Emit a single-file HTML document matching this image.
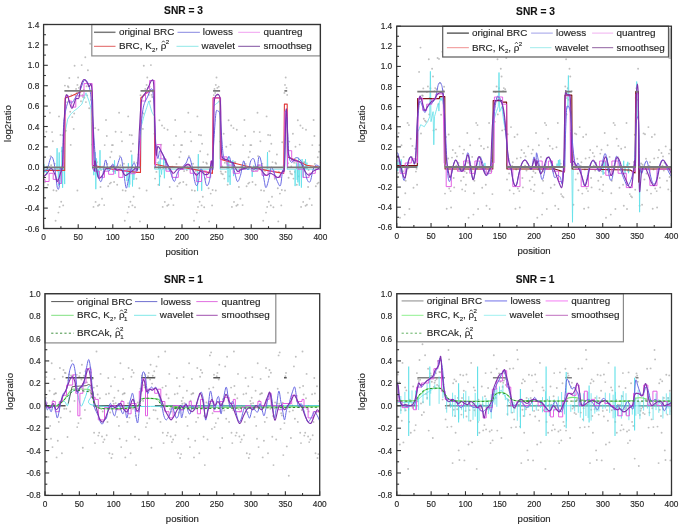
<!DOCTYPE html><html><head><meta charset="utf-8"><style>html,body{margin:0;padding:0;background:#fff;}svg{display:block;filter:blur(0.35px);} text{-webkit-font-smoothing:antialiased;stroke:#333;stroke-width:0.15px;} .g{will-change:transform;}</style></head><body><svg class="g" width="685" height="527" viewBox="0 0 685 527" font-family='"Liberation Sans", sans-serif'>
<rect width="685" height="527" fill="#fff"/>
<svg x="0" y="0" width="685" height="527" overflow="hidden"><clipPath id="cTL"><rect x="43.60" y="24.50" width="276.80" height="204.00"/></clipPath></svg>
<g clip-path="url(#cTL)"><g fill="#a0a0a0" fill-opacity="0.68"><circle cx="112.9" cy="145.1" r="0.95"/><circle cx="182.1" cy="145.1" r="0.95"/><circle cx="251.3" cy="145.1" r="0.95"/><circle cx="44.9" cy="182.0" r="0.95"/><circle cx="114.1" cy="182.0" r="0.95"/><circle cx="183.3" cy="182.0" r="0.95"/><circle cx="252.5" cy="182.0" r="0.95"/><circle cx="46.4" cy="131.7" r="0.95"/><circle cx="115.6" cy="131.7" r="0.95"/><circle cx="184.8" cy="131.7" r="0.95"/><circle cx="254.0" cy="131.7" r="0.95"/><circle cx="48.0" cy="184.7" r="0.95"/><circle cx="117.2" cy="184.7" r="0.95"/><circle cx="186.4" cy="184.7" r="0.95"/><circle cx="255.6" cy="184.7" r="0.95"/><circle cx="49.9" cy="112.7" r="0.95"/><circle cx="119.1" cy="112.7" r="0.95"/><circle cx="188.3" cy="112.7" r="0.95"/><circle cx="257.5" cy="112.7" r="0.95"/><circle cx="52.1" cy="132.1" r="0.95"/><circle cx="121.3" cy="132.1" r="0.95"/><circle cx="190.5" cy="132.1" r="0.95"/><circle cx="259.7" cy="132.1" r="0.95"/><circle cx="52.8" cy="141.2" r="0.95"/><circle cx="122.0" cy="141.2" r="0.95"/><circle cx="191.2" cy="141.2" r="0.95"/><circle cx="260.4" cy="141.2" r="0.95"/><circle cx="53.5" cy="190.3" r="0.95"/><circle cx="122.7" cy="190.3" r="0.95"/><circle cx="191.9" cy="190.3" r="0.95"/><circle cx="261.1" cy="190.3" r="0.95"/><circle cx="55.6" cy="220.7" r="0.95"/><circle cx="124.8" cy="220.7" r="0.95"/><circle cx="194.0" cy="220.7" r="0.95"/><circle cx="263.2" cy="220.7" r="0.95"/><circle cx="56.4" cy="190.8" r="0.95"/><circle cx="125.6" cy="190.8" r="0.95"/><circle cx="194.8" cy="190.8" r="0.95"/><circle cx="264.0" cy="190.8" r="0.95"/><circle cx="58.4" cy="212.6" r="0.95"/><circle cx="127.6" cy="212.6" r="0.95"/><circle cx="196.8" cy="212.6" r="0.95"/><circle cx="266.0" cy="212.6" r="0.95"/><circle cx="59.0" cy="116.4" r="0.95"/><circle cx="128.2" cy="116.4" r="0.95"/><circle cx="197.4" cy="116.4" r="0.95"/><circle cx="266.6" cy="116.4" r="0.95"/><circle cx="59.6" cy="206.9" r="0.95"/><circle cx="128.8" cy="206.9" r="0.95"/><circle cx="198.0" cy="206.9" r="0.95"/><circle cx="267.2" cy="206.9" r="0.95"/><circle cx="60.5" cy="134.9" r="0.95"/><circle cx="129.7" cy="134.9" r="0.95"/><circle cx="198.9" cy="134.9" r="0.95"/><circle cx="268.1" cy="134.9" r="0.95"/><circle cx="61.2" cy="201.7" r="0.95"/><circle cx="130.4" cy="201.7" r="0.95"/><circle cx="199.6" cy="201.7" r="0.95"/><circle cx="268.8" cy="201.7" r="0.95"/><circle cx="61.8" cy="151.3" r="0.95"/><circle cx="131.0" cy="151.3" r="0.95"/><circle cx="200.2" cy="151.3" r="0.95"/><circle cx="269.4" cy="151.3" r="0.95"/><circle cx="62.6" cy="135.3" r="0.95"/><circle cx="131.8" cy="135.3" r="0.95"/><circle cx="201.0" cy="135.3" r="0.95"/><circle cx="270.2" cy="135.3" r="0.95"/><circle cx="63.2" cy="205.4" r="0.95"/><circle cx="132.4" cy="205.4" r="0.95"/><circle cx="201.6" cy="205.4" r="0.95"/><circle cx="270.8" cy="205.4" r="0.95"/><circle cx="63.7" cy="143.8" r="0.95"/><circle cx="132.9" cy="143.8" r="0.95"/><circle cx="202.1" cy="143.8" r="0.95"/><circle cx="271.3" cy="143.8" r="0.95"/><circle cx="64.4" cy="120.2" r="0.95"/><circle cx="133.6" cy="196.7" r="0.95"/><circle cx="202.8" cy="196.7" r="0.95"/><circle cx="272.0" cy="196.7" r="0.95"/><circle cx="64.9" cy="85.6" r="0.95"/><circle cx="134.1" cy="162.1" r="0.95"/><circle cx="203.3" cy="162.1" r="0.95"/><circle cx="272.5" cy="162.1" r="0.95"/><circle cx="65.8" cy="130.8" r="0.95"/><circle cx="135.0" cy="207.3" r="0.95"/><circle cx="204.2" cy="207.3" r="0.95"/><circle cx="273.4" cy="207.3" r="0.95"/><circle cx="67.2" cy="102.3" r="0.95"/><circle cx="136.4" cy="178.8" r="0.95"/><circle cx="205.6" cy="178.8" r="0.95"/><circle cx="274.8" cy="178.8" r="0.95"/><circle cx="67.9" cy="86.3" r="0.95"/><circle cx="137.1" cy="162.8" r="0.95"/><circle cx="206.3" cy="162.8" r="0.95"/><circle cx="275.5" cy="162.8" r="0.95"/><circle cx="69.3" cy="78.0" r="0.95"/><circle cx="138.5" cy="154.5" r="0.95"/><circle cx="207.7" cy="154.5" r="0.95"/><circle cx="276.9" cy="154.5" r="0.95"/><circle cx="70.2" cy="111.8" r="0.95"/><circle cx="139.4" cy="188.3" r="0.95"/><circle cx="208.6" cy="188.3" r="0.95"/><circle cx="277.8" cy="188.3" r="0.95"/><circle cx="70.7" cy="144.9" r="0.95"/><circle cx="139.9" cy="221.4" r="0.95"/><circle cx="209.1" cy="221.4" r="0.95"/><circle cx="278.3" cy="221.4" r="0.95"/><circle cx="72.3" cy="117.1" r="0.95"/><circle cx="141.5" cy="117.1" r="0.95"/><circle cx="210.7" cy="193.6" r="0.95"/><circle cx="279.9" cy="193.6" r="0.95"/><circle cx="73.7" cy="128.9" r="0.95"/><circle cx="142.9" cy="128.9" r="0.95"/><circle cx="212.1" cy="205.4" r="0.95"/><circle cx="281.3" cy="205.4" r="0.95"/><circle cx="74.2" cy="113.5" r="0.95"/><circle cx="143.4" cy="113.5" r="0.95"/><circle cx="212.6" cy="190.0" r="0.95"/><circle cx="281.8" cy="190.0" r="0.95"/><circle cx="74.6" cy="65.7" r="0.95"/><circle cx="143.8" cy="65.7" r="0.95"/><circle cx="213.0" cy="142.2" r="0.95"/><circle cx="282.2" cy="142.2" r="0.95"/><circle cx="77.4" cy="84.9" r="0.95"/><circle cx="146.6" cy="84.9" r="0.95"/><circle cx="215.8" cy="84.9" r="0.95"/><circle cx="285.0" cy="84.9" r="0.95"/><circle cx="77.4" cy="190.5" r="0.95"/><circle cx="146.6" cy="190.5" r="0.95"/><circle cx="215.8" cy="190.5" r="0.95"/><circle cx="285.0" cy="190.5" r="0.95"/><circle cx="78.1" cy="77.5" r="0.95"/><circle cx="147.3" cy="77.5" r="0.95"/><circle cx="216.5" cy="77.5" r="0.95"/><circle cx="285.7" cy="77.5" r="0.95"/><circle cx="81.7" cy="65.1" r="0.95"/><circle cx="150.9" cy="65.1" r="0.95"/><circle cx="220.1" cy="141.6" r="0.95"/><circle cx="289.3" cy="141.6" r="0.95"/><circle cx="85.3" cy="57.3" r="0.95"/><circle cx="154.5" cy="133.8" r="0.95"/><circle cx="223.7" cy="133.8" r="0.95"/><circle cx="292.9" cy="133.8" r="0.95"/><circle cx="85.9" cy="102.1" r="0.95"/><circle cx="155.1" cy="178.6" r="0.95"/><circle cx="224.3" cy="178.6" r="0.95"/><circle cx="293.5" cy="178.6" r="0.95"/><circle cx="87.9" cy="70.3" r="0.95"/><circle cx="157.1" cy="146.8" r="0.95"/><circle cx="226.3" cy="146.8" r="0.95"/><circle cx="295.5" cy="146.8" r="0.95"/><circle cx="89.2" cy="108.2" r="0.95"/><circle cx="158.4" cy="184.7" r="0.95"/><circle cx="227.6" cy="184.7" r="0.95"/><circle cx="296.8" cy="184.7" r="0.95"/><circle cx="90.2" cy="43.8" r="0.95"/><circle cx="159.4" cy="120.3" r="0.95"/><circle cx="228.6" cy="120.3" r="0.95"/><circle cx="297.8" cy="120.3" r="0.95"/><circle cx="91.0" cy="99.7" r="0.95"/><circle cx="160.2" cy="176.2" r="0.95"/><circle cx="229.4" cy="176.2" r="0.95"/><circle cx="298.6" cy="176.2" r="0.95"/><circle cx="92.1" cy="144.6" r="0.95"/><circle cx="161.3" cy="144.6" r="0.95"/><circle cx="230.5" cy="144.6" r="0.95"/><circle cx="299.7" cy="144.6" r="0.95"/><circle cx="92.8" cy="125.5" r="0.95"/><circle cx="162.0" cy="125.5" r="0.95"/><circle cx="231.2" cy="125.5" r="0.95"/><circle cx="300.4" cy="125.5" r="0.95"/><circle cx="93.5" cy="206.9" r="0.95"/><circle cx="162.7" cy="206.9" r="0.95"/><circle cx="231.9" cy="206.9" r="0.95"/><circle cx="301.1" cy="206.9" r="0.95"/><circle cx="95.1" cy="128.1" r="0.95"/><circle cx="164.3" cy="128.1" r="0.95"/><circle cx="233.5" cy="128.1" r="0.95"/><circle cx="302.7" cy="128.1" r="0.95"/><circle cx="95.6" cy="201.9" r="0.95"/><circle cx="164.8" cy="201.9" r="0.95"/><circle cx="234.0" cy="201.9" r="0.95"/><circle cx="303.2" cy="201.9" r="0.95"/><circle cx="98.0" cy="205.7" r="0.95"/><circle cx="167.2" cy="205.7" r="0.95"/><circle cx="236.4" cy="205.7" r="0.95"/><circle cx="305.6" cy="205.7" r="0.95"/><circle cx="98.4" cy="129.8" r="0.95"/><circle cx="167.6" cy="129.8" r="0.95"/><circle cx="236.8" cy="129.8" r="0.95"/><circle cx="306.0" cy="129.8" r="0.95"/><circle cx="99.3" cy="204.7" r="0.95"/><circle cx="168.5" cy="204.7" r="0.95"/><circle cx="237.7" cy="204.7" r="0.95"/><circle cx="306.9" cy="204.7" r="0.95"/><circle cx="100.5" cy="187.0" r="0.95"/><circle cx="169.7" cy="187.0" r="0.95"/><circle cx="238.9" cy="187.0" r="0.95"/><circle cx="308.1" cy="187.0" r="0.95"/><circle cx="102.0" cy="198.8" r="0.95"/><circle cx="171.2" cy="198.8" r="0.95"/><circle cx="240.4" cy="198.8" r="0.95"/><circle cx="309.6" cy="198.8" r="0.95"/><circle cx="104.2" cy="205.1" r="0.95"/><circle cx="173.4" cy="205.1" r="0.95"/><circle cx="242.6" cy="205.1" r="0.95"/><circle cx="311.8" cy="205.1" r="0.95"/><circle cx="104.7" cy="145.1" r="0.95"/><circle cx="173.9" cy="145.1" r="0.95"/><circle cx="243.1" cy="145.1" r="0.95"/><circle cx="312.3" cy="145.1" r="0.95"/><circle cx="106.0" cy="120.0" r="0.95"/><circle cx="175.2" cy="120.0" r="0.95"/><circle cx="244.4" cy="120.0" r="0.95"/><circle cx="313.6" cy="120.0" r="0.95"/><circle cx="106.8" cy="136.0" r="0.95"/><circle cx="176.0" cy="136.0" r="0.95"/><circle cx="245.2" cy="136.0" r="0.95"/><circle cx="314.4" cy="136.0" r="0.95"/><circle cx="108.2" cy="186.3" r="0.95"/><circle cx="177.4" cy="186.3" r="0.95"/><circle cx="246.6" cy="186.3" r="0.95"/><circle cx="315.8" cy="186.3" r="0.95"/><circle cx="109.8" cy="183.6" r="0.95"/><circle cx="179.0" cy="183.6" r="0.95"/><circle cx="248.2" cy="183.6" r="0.95"/><circle cx="317.4" cy="183.6" r="0.95"/><circle cx="110.2" cy="157.2" r="0.95"/><circle cx="179.4" cy="157.2" r="0.95"/><circle cx="248.6" cy="157.2" r="0.95"/><circle cx="317.8" cy="157.2" r="0.95"/><circle cx="110.9" cy="182.6" r="0.95"/><circle cx="180.1" cy="182.6" r="0.95"/><circle cx="249.3" cy="182.6" r="0.95"/><circle cx="318.5" cy="182.6" r="0.95"/><circle cx="111.5" cy="151.8" r="0.95"/><circle cx="180.7" cy="151.8" r="0.95"/><circle cx="249.9" cy="151.8" r="0.95"/><circle cx="319.1" cy="151.8" r="0.95"/><circle cx="111.9" cy="145.1" r="0.95"/><circle cx="181.1" cy="145.1" r="0.95"/><circle cx="250.3" cy="145.1" r="0.95"/><circle cx="319.5" cy="145.1" r="0.95"/><circle cx="44.3" cy="168.7" r="0.95"/><circle cx="113.5" cy="168.7" r="0.95"/><circle cx="182.7" cy="168.7" r="0.95"/><circle cx="251.9" cy="168.7" r="0.95"/><circle cx="45.7" cy="171.1" r="0.95"/><circle cx="114.9" cy="171.1" r="0.95"/><circle cx="184.1" cy="171.1" r="0.95"/><circle cx="253.3" cy="171.1" r="0.95"/><circle cx="47.1" cy="166.7" r="0.95"/><circle cx="116.3" cy="166.7" r="0.95"/><circle cx="185.5" cy="166.7" r="0.95"/><circle cx="254.7" cy="166.7" r="0.95"/><circle cx="48.4" cy="170.3" r="0.95"/><circle cx="117.6" cy="170.3" r="0.95"/><circle cx="186.8" cy="170.3" r="0.95"/><circle cx="256.0" cy="170.3" r="0.95"/><circle cx="49.1" cy="166.6" r="0.95"/><circle cx="118.3" cy="166.6" r="0.95"/><circle cx="187.5" cy="166.6" r="0.95"/><circle cx="256.7" cy="166.6" r="0.95"/><circle cx="50.5" cy="156.1" r="0.95"/><circle cx="119.7" cy="156.1" r="0.95"/><circle cx="188.9" cy="156.1" r="0.95"/><circle cx="258.1" cy="156.1" r="0.95"/><circle cx="51.2" cy="165.3" r="0.95"/><circle cx="120.4" cy="165.3" r="0.95"/><circle cx="189.6" cy="165.3" r="0.95"/><circle cx="258.8" cy="165.3" r="0.95"/><circle cx="54.7" cy="163.8" r="0.95"/><circle cx="123.9" cy="163.8" r="0.95"/><circle cx="193.1" cy="163.8" r="0.95"/><circle cx="262.3" cy="163.8" r="0.95"/><circle cx="57.4" cy="170.9" r="0.95"/><circle cx="126.6" cy="170.9" r="0.95"/><circle cx="195.8" cy="170.9" r="0.95"/><circle cx="265.0" cy="170.9" r="0.95"/><circle cx="66.4" cy="95.0" r="0.95"/><circle cx="135.6" cy="171.5" r="0.95"/><circle cx="204.8" cy="171.5" r="0.95"/><circle cx="274.0" cy="171.5" r="0.95"/><circle cx="68.5" cy="87.2" r="0.95"/><circle cx="137.7" cy="163.7" r="0.95"/><circle cx="206.9" cy="163.7" r="0.95"/><circle cx="276.1" cy="163.7" r="0.95"/><circle cx="71.3" cy="95.2" r="0.95"/><circle cx="140.5" cy="95.2" r="0.95"/><circle cx="209.7" cy="171.7" r="0.95"/><circle cx="278.9" cy="171.7" r="0.95"/><circle cx="75.4" cy="95.1" r="0.95"/><circle cx="144.6" cy="95.1" r="0.95"/><circle cx="213.8" cy="95.1" r="0.95"/><circle cx="283.0" cy="171.6" r="0.95"/><circle cx="76.1" cy="88.9" r="0.95"/><circle cx="145.3" cy="88.9" r="0.95"/><circle cx="214.5" cy="88.9" r="0.95"/><circle cx="283.7" cy="165.4" r="0.95"/><circle cx="76.8" cy="92.9" r="0.95"/><circle cx="146.0" cy="92.9" r="0.95"/><circle cx="215.2" cy="92.9" r="0.95"/><circle cx="284.4" cy="92.9" r="0.95"/><circle cx="78.9" cy="87.9" r="0.95"/><circle cx="148.1" cy="87.9" r="0.95"/><circle cx="217.3" cy="87.9" r="0.95"/><circle cx="286.5" cy="87.9" r="0.95"/><circle cx="79.6" cy="94.9" r="0.95"/><circle cx="148.8" cy="94.9" r="0.95"/><circle cx="218.0" cy="94.9" r="0.95"/><circle cx="287.2" cy="94.9" r="0.95"/><circle cx="80.3" cy="86.7" r="0.95"/><circle cx="149.5" cy="86.7" r="0.95"/><circle cx="218.7" cy="86.7" r="0.95"/><circle cx="287.9" cy="163.2" r="0.95"/><circle cx="81.0" cy="101.2" r="0.95"/><circle cx="150.2" cy="101.2" r="0.95"/><circle cx="219.4" cy="101.2" r="0.95"/><circle cx="288.6" cy="177.7" r="0.95"/><circle cx="82.4" cy="94.9" r="0.95"/><circle cx="151.6" cy="94.9" r="0.95"/><circle cx="220.8" cy="171.4" r="0.95"/><circle cx="290.0" cy="171.4" r="0.95"/><circle cx="83.0" cy="97.0" r="0.95"/><circle cx="152.2" cy="97.0" r="0.95"/><circle cx="221.4" cy="173.5" r="0.95"/><circle cx="290.6" cy="173.5" r="0.95"/><circle cx="83.7" cy="90.0" r="0.95"/><circle cx="152.9" cy="90.0" r="0.95"/><circle cx="222.1" cy="166.5" r="0.95"/><circle cx="291.3" cy="166.5" r="0.95"/><circle cx="84.4" cy="97.7" r="0.95"/><circle cx="153.6" cy="97.7" r="0.95"/><circle cx="222.8" cy="174.2" r="0.95"/><circle cx="292.0" cy="174.2" r="0.95"/><circle cx="86.5" cy="86.2" r="0.95"/><circle cx="155.7" cy="162.7" r="0.95"/><circle cx="224.9" cy="162.7" r="0.95"/><circle cx="294.1" cy="162.7" r="0.95"/><circle cx="87.2" cy="95.4" r="0.95"/><circle cx="156.4" cy="171.9" r="0.95"/><circle cx="225.6" cy="171.9" r="0.95"/><circle cx="294.8" cy="171.9" r="0.95"/><circle cx="88.6" cy="86.4" r="0.95"/><circle cx="157.8" cy="162.9" r="0.95"/><circle cx="227.0" cy="162.9" r="0.95"/><circle cx="296.2" cy="162.9" r="0.95"/><circle cx="94.1" cy="167.5" r="0.95"/><circle cx="163.3" cy="167.5" r="0.95"/><circle cx="232.5" cy="167.5" r="0.95"/><circle cx="301.7" cy="167.5" r="0.95"/><circle cx="96.2" cy="162.5" r="0.95"/><circle cx="165.4" cy="162.5" r="0.95"/><circle cx="234.6" cy="162.5" r="0.95"/><circle cx="303.8" cy="162.5" r="0.95"/><circle cx="96.9" cy="162.1" r="0.95"/><circle cx="166.1" cy="162.1" r="0.95"/><circle cx="235.3" cy="162.1" r="0.95"/><circle cx="304.5" cy="162.1" r="0.95"/><circle cx="101.0" cy="170.0" r="0.95"/><circle cx="170.2" cy="170.0" r="0.95"/><circle cx="239.4" cy="170.0" r="0.95"/><circle cx="308.6" cy="170.0" r="0.95"/><circle cx="103.1" cy="166.6" r="0.95"/><circle cx="172.3" cy="166.6" r="0.95"/><circle cx="241.5" cy="166.6" r="0.95"/><circle cx="310.7" cy="166.6" r="0.95"/><circle cx="107.3" cy="163.9" r="0.95"/><circle cx="176.5" cy="163.9" r="0.95"/><circle cx="245.7" cy="163.9" r="0.95"/><circle cx="314.9" cy="163.9" r="0.95"/></g>
<path d="M43.6,169.3 L43.9,164.2 L44.3,169.3 L44.6,172.3 L45.0,169.3 L45.3,172.2 L45.7,169.3 L46.4,169.3 L46.7,174.5 L47.1,169.3 L47.4,166.5 L47.8,169.3 L48.4,169.3 L49.1,169.3 L49.8,169.3 L50.5,169.3 L51.2,169.3 L51.9,169.3 L52.6,169.3 L53.3,169.3 L54.0,169.3 L54.7,169.3 L55.4,169.3 L56.1,169.3 L56.7,169.3 L57.1,148.2 L57.4,169.3 L58.1,169.3 L58.5,185.6 L58.8,169.3 L59.2,152.4 L59.5,169.3 L60.2,169.3 L60.9,169.3 L61.2,184.0 L61.6,169.3 L61.9,146.8 L62.3,169.3 L62.6,187.8 L63.0,169.3 L63.7,169.3 L64.0,162.6 L64.4,169.3 L64.7,184.1 L64.7,169.3 L65.1,133.6 L65.7,129.8 L66.4,125.9 L67.1,122.1 L67.6,119.4 L67.8,119.0 L68.5,117.8 L69.2,116.6 L69.9,115.4 L70.6,114.3 L71.3,113.6 L72.0,112.9 L72.7,112.2 L73.4,111.5 L73.7,111.2 L74.0,110.9 L74.7,110.4 L75.4,109.9 L76.1,109.4 L76.8,108.9 L77.5,108.3 L77.8,108.1 L78.2,107.7 L78.9,107.0 L79.6,106.3 L80.3,105.7 L81.0,105.0 L81.7,104.3 L81.9,104.1 L82.4,102.7 L83.0,100.8 L83.7,98.9 L84.4,97.0 L85.1,95.1 L85.8,93.2 L86.0,92.8 L86.5,94.3 L87.2,96.2 L87.9,98.0 L88.6,99.9 L89.0,101.0 L89.3,102.1 L90.0,104.8 L90.7,107.5 L91.1,109.2 L91.3,121.4 L92.0,152.0 L92.4,167.3 L92.7,169.3 L93.4,169.3 L93.8,175.2 L94.1,169.3 L94.8,169.3 L95.2,152.1 L95.5,169.3 L95.8,189.2 L96.2,169.3 L96.5,158.4 L96.9,169.3 L97.2,175.4 L97.6,169.3 L97.9,177.1 L98.3,169.3 L98.6,176.0 L99.0,169.3 L99.7,169.3 L100.0,150.2 L100.3,169.3 L101.0,169.3 L101.7,169.3 L102.4,169.3 L103.1,169.3 L103.8,169.3 L104.5,169.3 L105.2,169.3 L105.9,169.3 L106.6,169.3 L107.3,169.3 L108.0,169.3 L108.6,169.3 L109.3,169.3 L110.0,169.3 L110.7,169.3 L111.4,169.3 L112.1,169.3 L112.8,169.3 L113.1,172.0 L113.5,169.3 L114.2,169.3 L114.5,160.3 L114.9,169.3 L115.2,173.9 L115.6,169.3 L116.3,169.3 L117.0,169.3 L117.6,169.3 L118.3,169.3 L119.0,169.3 L119.7,169.3 L120.4,169.3 L121.1,169.3 L121.8,169.3 L122.5,169.3 L123.2,169.3 L123.9,169.3 L124.6,169.3 L125.3,169.3 L125.9,169.3 L126.6,169.3 L127.0,181.1 L127.3,169.3 L128.0,169.3 L128.4,163.2 L128.7,169.3 L129.1,187.4 L129.4,169.3 L129.8,184.6 L130.1,169.3 L130.8,169.3 L131.5,169.3 L131.8,154.7 L132.2,169.3 L132.5,186.5 L132.9,169.3 L133.6,169.3 L133.9,179.9 L134.3,169.3 L134.9,169.3 L135.6,169.3 L136.3,169.3 L137.0,169.3 L137.7,169.3 L138.4,169.3 L139.1,169.3 L139.8,169.3 L140.5,169.3 L141.2,126.5 L141.9,124.0 L142.6,121.4 L143.2,118.9 L143.9,116.3 L144.6,114.1 L145.3,111.9 L146.0,109.7 L146.7,107.6 L147.4,105.4 L148.1,103.2 L148.8,101.0 L149.5,103.5 L150.2,106.1 L150.9,108.6 L151.6,111.2 L152.2,112.5 L152.9,113.8 L153.6,115.0 L154.3,116.3 L154.7,169.3 L155.0,169.3 L155.7,169.3 L156.4,169.3 L157.1,169.3 L157.8,169.3 L158.5,169.3 L158.8,161.4 L159.2,169.3 L159.5,185.9 L159.9,169.3 L160.2,157.9 L160.5,169.3 L161.2,169.3 L161.6,174.5 L161.9,169.3 L162.6,169.3 L163.3,169.3 L163.7,155.9 L164.0,169.3 L164.4,178.3 L164.7,169.3 L165.4,169.3 L165.7,163.6 L166.1,169.3 L166.8,169.3 L167.5,169.3 L168.2,169.3 L168.9,169.3 L169.5,169.3 L170.2,169.3 L170.9,169.3 L171.6,169.3 L172.3,169.3 L173.0,169.3 L173.7,169.3 L174.4,169.3 L175.1,169.3 L175.8,169.3 L176.5,169.3 L177.2,169.3 L177.8,169.3 L178.5,169.3 L179.2,169.3 L179.9,169.3 L180.6,169.3 L181.3,169.3 L182.0,169.3 L182.7,169.3 L183.4,169.3 L184.1,169.3 L184.8,169.3 L185.5,169.3 L186.2,169.3 L186.8,169.3 L187.5,169.3 L188.2,169.3 L188.9,169.3 L189.6,169.3 L190.3,169.3 L191.0,169.3 L191.7,169.3 L192.4,169.3 L193.1,169.3 L193.8,169.3 L194.5,169.3 L195.1,169.3 L195.8,169.3 L196.5,169.3 L197.2,169.3 L197.6,191.1 L197.9,169.3 L198.3,154.1 L198.6,169.3 L199.3,169.3 L200.0,169.3 L200.7,169.3 L201.4,169.3 L201.7,190.8 L202.1,169.3 L202.8,169.3 L203.5,169.3 L204.1,169.3 L204.8,169.3 L205.5,169.3 L206.2,169.3 L206.9,169.3 L207.6,169.3 L208.3,169.3 L209.0,169.3 L209.7,169.3 L210.4,169.3 L211.1,169.3 L211.8,169.3 L212.4,169.3 L213.1,169.3 L213.5,106.1 L213.8,105.8 L214.5,105.3 L215.2,104.7 L215.9,104.1 L216.6,103.5 L217.3,103.0 L218.0,102.4 L218.7,101.8 L219.4,101.3 L219.7,101.0 L220.1,169.3 L220.8,169.3 L221.4,169.3 L222.1,169.3 L222.8,169.3 L223.5,169.3 L224.2,169.3 L224.9,169.3 L225.6,169.3 L226.3,169.3 L227.0,169.3 L227.3,159.4 L227.7,169.3 L228.0,182.3 L228.4,169.3 L228.7,156.2 L229.1,169.3 L229.7,169.3 L230.1,184.9 L230.4,169.3 L231.1,169.3 L231.8,169.3 L232.2,161.2 L232.5,169.3 L232.9,160.3 L233.2,169.3 L233.6,176.1 L233.9,169.3 L234.6,169.3 L235.3,169.3 L236.0,169.3 L236.7,169.3 L237.4,169.3 L238.1,169.3 L238.7,169.3 L239.4,169.3 L240.1,169.3 L240.8,169.3 L241.5,169.3 L242.2,169.3 L242.9,169.3 L243.6,169.3 L244.3,169.3 L245.0,169.3 L245.7,169.3 L246.4,169.3 L247.0,169.3 L247.7,169.3 L248.4,169.3 L249.1,169.3 L249.8,169.3 L250.5,169.3 L251.2,169.3 L251.9,169.3 L252.2,176.8 L252.6,169.3 L253.3,169.3 L253.6,165.6 L254.0,169.3 L254.7,169.3 L255.4,169.3 L256.0,169.3 L256.7,169.3 L257.4,169.3 L258.1,169.3 L258.8,169.3 L259.5,169.3 L260.2,169.3 L260.9,169.3 L261.6,169.3 L262.3,169.3 L263.0,169.3 L263.7,169.3 L264.3,169.3 L265.0,169.3 L265.7,169.3 L266.4,169.3 L267.1,169.3 L267.5,152.1 L267.8,169.3 L268.5,169.3 L269.2,169.3 L269.9,169.3 L270.6,169.3 L271.3,169.3 L272.0,169.3 L272.7,169.3 L273.3,169.3 L274.0,169.3 L274.7,169.3 L275.4,169.3 L276.1,169.3 L276.8,169.3 L277.5,169.3 L278.2,169.3 L278.9,169.3 L279.6,169.3 L280.3,169.3 L281.0,169.3 L281.6,169.3 L282.3,169.3 L283.0,169.3 L283.7,169.3 L284.4,169.3 L284.8,111.2 L285.1,111.2 L285.8,111.2 L286.5,111.2 L286.8,111.2 L287.2,169.3 L287.9,169.3 L288.6,169.3 L289.3,169.3 L290.0,169.3 L290.6,169.3 L291.3,169.3 L292.0,169.3 L292.7,169.3 L293.4,169.3 L294.1,169.3 L294.8,169.3 L295.1,186.1 L295.5,169.3 L296.2,169.3 L296.5,163.5 L296.9,169.3 L297.2,179.8 L297.6,169.3 L297.9,182.4 L298.3,169.3 L298.6,157.9 L298.9,169.3 L299.3,185.8 L299.6,169.3 L300.0,163.8 L300.3,169.3 L301.0,169.3 L301.4,187.6 L301.7,169.3 L302.1,159.0 L302.4,169.3 L303.1,169.3 L303.4,177.9 L303.8,169.3 L304.5,169.3 L305.2,169.3 L305.5,159.2 L305.9,169.3 L306.6,169.3 L306.9,162.6 L307.3,169.3 L307.9,169.3 L308.6,169.3 L309.3,169.3 L310.0,169.3 L310.7,169.3 L311.4,169.3 L312.1,169.3 L312.8,169.3 L313.5,169.3 L314.2,169.3 L314.9,169.3 L315.6,169.3 L316.2,169.3 L316.9,169.3 L317.6,169.3 L318.3,169.3 L319.0,169.3 L319.7,169.3 L320.4,169.3" fill="none" stroke="#5ee0e8" stroke-width="0.8" stroke-linejoin="round"/>
<path d="M43.6,170.4 L64.7,170.4 L65.1,97.9 L71.3,95.9 L79.6,92.3 L83.7,90.8 L92.0,90.8 L92.4,165.3 L112.8,169.3 L137.0,172.4 L140.5,172.4 L140.8,97.9 L145.3,93.9 L149.5,90.8 L154.3,90.8 L154.7,164.2 L164.7,166.3 L182.0,167.3 L199.3,170.4 L212.4,173.4 L213.1,97.9 L220.1,97.9 L220.4,159.1 L230.4,162.2 L251.2,167.3 L272.0,171.4 L283.7,173.4 L284.4,104.1 L287.2,104.1 L287.5,157.1 L296.2,160.2 L306.6,165.3 L320.4,167.3" fill="none" stroke="#e03838" stroke-width="1.1" stroke-linejoin="round"/>
<path d="M43.0,179.4 L45.0,179.4 L45.0,181.5 L49.1,181.5 L49.1,173.3 L53.2,173.3 L53.2,179.4 L58.4,179.4 L58.4,183.5 L61.4,183.5 L61.4,167.1 L63.5,167.1 L63.5,168.0 L64.5,131.7 L65.5,95.9 L68.6,95.9 L68.6,101.0 L71.7,101.0 L71.7,107.1 L75.8,107.1 L75.8,95.9 L84.0,95.9 L84.0,83.6 L92.2,83.6 L92.6,168.0 L94.2,171.2 L99.4,171.2 L99.4,177.4 L104.5,177.4 L104.5,171.2 L108.6,171.2 L108.6,174.3 L113.7,174.3 L113.7,169.2 L118.8,169.2 L118.8,177.4 L122.9,177.4 L122.9,171.2 L127.0,171.2 L127.0,169.2 L131.1,169.2 L131.1,173.7 L135.2,173.7 L135.2,167.1 L138.3,167.1 L139.3,168.0 L141.0,121.5 L141.4,101.0 L145.5,101.0 L145.5,92.8 L149.6,92.8 L149.6,80.5 L154.7,80.5 L155.3,168.0 L156.8,144.6 L160.9,144.6 L160.9,158.9 L166.0,158.9 L166.0,171.2 L172.1,171.2 L172.1,177.4 L178.3,177.4 L178.3,169.2 L183.0,169.2 L180.0,169.2 L184.1,169.2 L184.1,165.1 L190.2,165.1 L190.2,173.3 L196.4,173.3 L196.4,181.5 L201.5,181.5 L201.5,171.2 L206.6,171.2 L206.6,177.4 L210.7,177.4 L210.7,161.0 L212.8,161.0 L212.8,168.0 L213.4,97.9 L220.6,97.9 L221.0,168.0 L221.0,156.9 L227.1,156.9 L227.1,165.1 L233.3,165.1 L233.3,173.3 L239.4,173.3 L239.4,169.2 L245.6,169.2 L245.6,167.1 L251.7,167.1 L251.7,171.2 L257.9,171.2 L257.9,165.1 L262.0,165.1 L262.0,175.3 L268.1,175.3 L268.1,171.2 L274.3,171.2 L274.3,177.4 L280.4,177.4 L280.4,173.3 L283.5,173.3 L284.1,168.0 L284.9,111.2 L287.0,111.2 L287.6,168.0 L287.6,150.7 L291.7,150.7 L291.7,161.0 L297.9,161.0 L297.9,169.2 L303.0,169.2 L303.0,177.4 L309.1,177.4 L309.1,173.3 L315.3,173.3 L315.3,169.2 L320.0,169.2" fill="none" stroke="#e050e0" stroke-width="0.9" stroke-linejoin="round"/>
<path d="M43.0,171.2 C43.7,170.9 45.7,171.6 47.1,169.2 C48.5,166.8 50.0,157.8 51.2,156.9 C52.4,156.0 53.2,158.9 54.3,164.1 C55.3,169.2 56.5,184.1 57.3,187.6 C58.2,191.2 58.9,188.9 59.4,185.6 C59.9,182.3 59.9,171.1 60.4,168.0 C60.9,164.9 62.0,173.9 62.5,167.1 C63.0,160.4 63.0,137.0 63.5,127.6 C64.0,118.3 64.7,115.7 65.5,111.2 C66.4,106.8 67.6,102.4 68.6,101.0 C69.6,99.6 70.5,103.7 71.7,103.0 C72.9,102.4 74.4,98.9 75.8,96.9 C77.2,94.8 78.5,93.5 79.9,90.7 C81.3,88.0 82.8,82.0 84.0,80.5 C85.2,79.0 86.0,79.8 87.1,81.5 C88.1,83.2 89.3,85.8 90.1,90.7 C91.0,95.7 91.5,102.7 92.2,111.2 C92.9,119.8 93.6,132.5 94.2,142.0 C94.9,151.5 95.4,162.8 95.9,168.0 C96.4,173.2 96.6,171.0 97.3,173.3 C98.1,175.5 99.5,180.8 100.4,181.5 C101.2,182.2 101.6,181.0 102.4,177.4 C103.3,173.8 104.5,161.0 105.5,160.0 C106.5,158.9 107.4,170.6 108.6,171.2 C109.8,171.9 111.5,164.4 112.7,164.1 C113.9,163.7 114.5,170.4 115.8,169.2 C117.1,168.0 119.3,157.2 120.5,156.9 C121.7,156.6 122.0,162.0 122.9,167.1 C123.9,172.3 125.2,185.3 126.0,187.6 C126.9,190.0 127.2,184.6 128.1,181.5 C128.9,178.4 130.1,172.3 131.1,169.2 C132.2,166.1 133.4,163.0 134.2,163.0 C135.1,163.0 135.8,168.4 136.3,169.2 C136.8,170.0 136.6,174.3 137.3,168.0 C138.0,161.8 139.3,141.9 140.4,131.7 C141.4,121.6 142.2,113.0 143.4,107.1 C144.6,101.3 146.2,100.0 147.5,96.9 C148.9,93.8 150.6,88.0 151.6,88.7 C152.7,89.4 153.0,92.1 153.7,101.0 C154.4,109.9 155.1,132.4 155.7,142.0 C156.4,151.6 157.1,156.9 157.8,158.4 C158.5,159.8 159.0,151.3 159.8,150.7 C160.7,150.2 161.9,152.8 162.9,154.8 C163.9,156.9 164.8,160.3 166.0,163.0 C167.2,165.8 168.7,168.2 170.1,171.2 C171.5,174.3 173.0,181.2 174.2,181.5 C175.4,181.8 176.2,175.3 177.3,173.3 C178.3,171.2 179.4,170.3 180.3,169.2 C181.3,168.1 182.1,167.7 183.0,166.6 C184.0,165.6 185.1,164.7 186.1,163.0 C187.2,161.4 188.2,156.2 189.2,156.9 C190.2,157.6 191.4,163.4 192.3,167.1 C193.2,170.9 193.7,176.4 194.3,179.4 C195.0,182.5 195.7,185.3 196.4,185.6 C197.1,185.9 197.8,184.2 198.4,181.5 C199.1,178.8 199.6,170.6 200.5,169.2 C201.4,167.8 202.5,170.6 203.6,173.3 C204.6,176.0 205.6,184.6 206.6,185.6 C207.7,186.6 208.9,183.5 209.7,179.4 C210.6,175.3 211.3,162.9 211.8,161.0 C212.2,159.1 212.0,171.2 212.4,168.0 C212.7,164.9 213.2,151.1 213.8,142.0 C214.4,132.9 215.2,118.4 215.9,113.3 C216.6,108.2 217.2,110.9 217.9,111.2 C218.6,111.6 219.3,110.2 220.0,115.3 C220.7,120.5 221.4,135.2 222.0,142.0 C222.6,148.8 222.8,153.3 223.5,156.3 C224.1,159.4 225.2,160.2 226.1,160.2 C227.1,160.3 228.3,156.1 229.2,156.6 C230.0,157.1 230.7,162.1 231.2,163.0 C231.8,164.0 231.8,161.2 232.3,162.5 C232.8,163.8 233.5,167.5 234.3,170.7 C235.2,173.8 236.4,180.7 237.4,181.5 C238.4,182.3 239.4,178.8 240.5,175.3 C241.5,171.9 242.7,162.4 243.5,161.0 C244.4,159.6 244.7,165.8 245.6,167.1 C246.4,168.5 247.8,170.2 248.7,169.2 C249.5,168.2 249.9,162.7 250.7,161.0 C251.6,159.3 252.8,157.6 253.8,158.9 C254.8,160.3 256.0,169.5 256.9,169.2 C257.7,168.9 258.2,158.3 258.9,156.9 C259.6,155.5 260.1,157.2 261.0,161.0 C261.8,164.8 263.2,175.0 264.0,179.4 C264.9,183.9 265.2,188.0 266.1,187.6 C266.9,187.3 268.3,180.8 269.2,177.4 C270.0,174.0 270.4,167.8 271.2,167.1 C272.1,166.5 273.3,170.9 274.3,173.3 C275.3,175.7 276.3,179.4 277.4,181.5 C278.4,183.5 279.6,187.3 280.4,185.6 C281.3,183.9 281.9,174.2 282.5,171.2 C283.1,168.3 283.7,173.6 284.1,168.0 C284.6,162.5 284.9,146.3 285.4,137.9 C285.8,129.5 286.2,118.1 286.6,117.4 C287.0,116.7 287.4,127.3 287.8,133.8 C288.2,140.3 288.4,151.6 289.0,156.3 C289.7,161.1 290.8,162.1 291.7,162.5 C292.7,162.8 293.8,159.2 294.8,158.4 C295.8,157.6 296.8,157.5 297.9,157.9 C298.9,158.4 299.9,159.5 300.9,161.0 C302.0,162.5 303.0,164.1 304.0,167.1 C305.0,170.2 306.1,177.1 307.1,179.4 C308.1,181.8 309.1,183.2 310.2,181.5 C311.2,179.8 312.2,171.9 313.2,169.2 C314.3,166.5 315.2,165.4 316.3,165.1 C317.4,164.8 319.4,166.8 320.0,167.1" fill="none" stroke="#6868e2" stroke-width="1.0"/>
<path d="M43.0,177.4 C43.7,176.7 45.7,174.8 47.1,173.3 C48.5,171.8 49.8,167.8 51.2,168.2 C52.6,168.5 54.3,173.1 55.3,175.3 C56.3,177.6 56.5,181.8 57.3,181.5 C58.2,181.2 59.6,176.1 60.4,173.3 C61.3,170.5 61.9,172.1 62.5,164.5 C63.1,156.9 63.4,138.6 63.9,127.6 C64.4,116.7 64.9,104.2 65.5,98.9 C66.2,93.7 66.6,94.3 67.6,95.9 C68.6,97.4 70.3,107.7 71.7,108.2 C73.1,108.7 74.6,100.7 75.8,98.9 C77.0,97.2 78.0,100.1 78.9,97.9 C79.7,95.7 80.1,88.7 80.9,85.6 C81.8,82.5 83.0,80.0 84.0,79.5 C85.0,79.0 86.2,81.4 87.1,82.5 C87.9,83.7 88.4,86.3 89.1,86.6 C89.8,87.0 90.6,82.2 91.2,84.6 C91.8,87.0 92.1,87.1 92.6,101.0 C93.1,114.9 93.8,158.0 94.2,168.0 C94.7,178.0 94.6,159.4 95.3,161.0 C96.0,162.6 97.1,175.0 98.3,177.4 C99.5,179.8 101.2,176.7 102.4,175.3 C103.6,174.0 104.5,170.4 105.5,169.2 C106.5,168.0 107.4,168.7 108.6,168.2 C109.8,167.7 111.3,165.8 112.7,166.1 C114.1,166.5 115.4,169.7 116.8,170.2 C118.2,170.7 119.5,168.3 120.9,169.2 C122.3,170.0 123.6,174.7 125.0,175.3 C126.4,176.0 127.7,174.1 129.1,173.3 C130.5,172.4 132.0,171.2 133.2,170.2 C134.4,169.2 135.5,167.5 136.3,167.1 C137.0,166.8 137.2,173.9 137.7,168.0 C138.2,162.1 138.7,142.9 139.3,131.7 C140.0,120.6 140.4,107.5 141.4,101.0 C142.4,94.5 144.3,95.2 145.5,92.8 C146.7,90.4 147.5,88.7 148.6,86.6 C149.6,84.6 150.8,80.8 151.6,80.5 C152.5,80.2 153.2,77.8 153.7,84.6 C154.2,91.4 154.3,109.9 154.7,121.5 C155.1,133.1 155.6,150.1 156.1,154.3 C156.7,158.5 157.0,147.2 157.8,146.6 C158.6,146.1 159.7,148.7 160.9,150.7 C162.1,152.8 163.6,156.2 165.0,158.9 C166.3,161.7 167.7,164.8 169.1,167.1 C170.4,169.5 171.8,173.0 173.2,173.3 C174.5,173.6 176.1,170.0 177.3,169.2 C178.5,168.3 179.4,168.4 180.3,168.2 C181.3,167.9 181.7,168.5 183.0,167.9 C184.3,167.2 186.7,163.8 188.2,164.1 C189.7,164.3 190.9,167.3 192.3,169.2 C193.7,171.1 195.0,175.0 196.4,175.3 C197.8,175.7 199.1,171.4 200.5,171.2 C201.9,171.1 203.2,174.0 204.6,174.3 C206.0,174.7 207.5,175.5 208.7,173.3 C209.9,171.1 211.1,161.9 211.8,161.0 C212.5,160.1 212.5,174.6 212.8,168.0 C213.1,161.4 213.5,133.2 213.8,121.5 C214.2,109.8 213.8,101.8 214.8,97.9 C215.9,94.0 218.9,92.3 220.0,97.9 C221.0,103.6 220.7,122.0 221.0,131.7 C221.3,141.5 221.0,151.7 222.0,156.3 C223.0,161.0 225.4,158.7 227.1,159.7 C228.9,160.7 231.2,161.9 232.3,162.5 C233.3,163.0 232.4,161.6 233.3,163.0 C234.1,164.5 236.0,170.2 237.4,171.2 C238.8,172.3 240.1,169.7 241.5,169.2 C242.9,168.7 244.2,168.5 245.6,168.2 C247.0,167.8 248.3,167.0 249.7,167.1 C251.1,167.3 252.4,169.2 253.8,169.2 C255.2,169.2 256.5,166.8 257.9,167.1 C259.3,167.5 260.6,169.9 262.0,171.2 C263.4,172.6 264.7,175.0 266.1,175.3 C267.5,175.7 268.8,173.3 270.2,173.3 C271.6,173.3 272.9,174.7 274.3,175.3 C275.7,176.0 277.0,178.1 278.4,177.4 C279.8,176.7 281.5,172.8 282.5,171.2 C283.5,169.7 284.1,174.6 284.5,168.0 C285.0,161.4 285.1,141.5 285.4,131.7 C285.6,121.9 285.9,110.9 286.2,109.2 C286.5,107.5 286.9,114.3 287.2,121.5 C287.5,128.7 287.6,146.1 288.2,152.2 C288.8,158.4 289.6,157.0 290.7,158.4 C291.8,159.8 293.8,160.0 294.8,160.4 C295.8,160.9 295.8,160.6 296.8,161.0 C297.9,161.4 299.6,161.3 300.9,163.0 C302.3,164.8 303.7,169.2 305.0,171.2 C306.4,173.3 307.8,175.3 309.1,175.3 C310.5,175.3 311.9,172.3 313.2,171.2 C314.6,170.2 316.2,169.9 317.3,169.2 C318.5,168.5 319.6,167.5 320.0,167.1" fill="none" stroke="#7e30ac" stroke-width="1.1"/>
<path d="M43.6,167.3 L64.4,167.3 M64.4,90.8 L92.0,90.8 M92.0,167.3 L140.5,167.3 M140.5,90.8 L154.3,90.8 M154.3,167.3 L213.1,167.3 M213.1,90.8 L220.1,90.8 M220.1,167.3 L284.4,167.3 M284.4,90.8 L287.2,90.8 M287.2,167.3 L320.4,167.3 " fill="none" stroke="#7a7a7a" stroke-width="1.8"/></g>
<g stroke="#333" stroke-width="1.1"><line x1="43.60" y1="228.50" x2="47.80" y2="228.50"/><line x1="43.60" y1="218.30" x2="45.90" y2="218.30"/><line x1="43.60" y1="208.10" x2="47.80" y2="208.10"/><line x1="43.60" y1="197.90" x2="45.90" y2="197.90"/><line x1="43.60" y1="187.70" x2="47.80" y2="187.70"/><line x1="43.60" y1="177.50" x2="45.90" y2="177.50"/><line x1="43.60" y1="167.30" x2="47.80" y2="167.30"/><line x1="43.60" y1="157.10" x2="45.90" y2="157.10"/><line x1="43.60" y1="146.90" x2="47.80" y2="146.90"/><line x1="43.60" y1="136.70" x2="45.90" y2="136.70"/><line x1="43.60" y1="126.50" x2="47.80" y2="126.50"/><line x1="43.60" y1="116.30" x2="45.90" y2="116.30"/><line x1="43.60" y1="106.10" x2="47.80" y2="106.10"/><line x1="43.60" y1="95.90" x2="45.90" y2="95.90"/><line x1="43.60" y1="85.70" x2="47.80" y2="85.70"/><line x1="43.60" y1="75.50" x2="45.90" y2="75.50"/><line x1="43.60" y1="65.30" x2="47.80" y2="65.30"/><line x1="43.60" y1="55.10" x2="45.90" y2="55.10"/><line x1="43.60" y1="44.90" x2="47.80" y2="44.90"/><line x1="43.60" y1="34.70" x2="45.90" y2="34.70"/><line x1="43.60" y1="24.50" x2="47.80" y2="24.50"/><line x1="43.60" y1="228.50" x2="43.60" y2="224.30"/><line x1="60.90" y1="228.50" x2="60.90" y2="226.20"/><line x1="78.20" y1="228.50" x2="78.20" y2="224.30"/><line x1="95.50" y1="228.50" x2="95.50" y2="226.20"/><line x1="112.80" y1="228.50" x2="112.80" y2="224.30"/><line x1="130.10" y1="228.50" x2="130.10" y2="226.20"/><line x1="147.40" y1="228.50" x2="147.40" y2="224.30"/><line x1="164.70" y1="228.50" x2="164.70" y2="226.20"/><line x1="182.00" y1="228.50" x2="182.00" y2="224.30"/><line x1="199.30" y1="228.50" x2="199.30" y2="226.20"/><line x1="216.60" y1="228.50" x2="216.60" y2="224.30"/><line x1="233.90" y1="228.50" x2="233.90" y2="226.20"/><line x1="251.20" y1="228.50" x2="251.20" y2="224.30"/><line x1="268.50" y1="228.50" x2="268.50" y2="226.20"/><line x1="285.80" y1="228.50" x2="285.80" y2="224.30"/><line x1="303.10" y1="228.50" x2="303.10" y2="226.20"/><line x1="320.40" y1="228.50" x2="320.40" y2="224.30"/></g>
<rect x="91.80" y="24.50" width="228.60" height="31.40" fill="#fff" stroke="#8a8a8a" stroke-width="1.2"/><line x1="94.00" y1="32.30" x2="115.50" y2="32.30" stroke="#7a7a7a" stroke-width="1.5"/><text x="118.90" y="35.40" font-size="9.9" fill="#222">original BRC</text><line x1="177.50" y1="32.30" x2="199.90" y2="32.30" stroke="#8888e0" stroke-width="1.0"/><text x="202.70" y="35.40" font-size="9.9" fill="#222">lowess</text><line x1="238.20" y1="32.30" x2="260.00" y2="32.30" stroke="#f0a0f0" stroke-width="1.0"/><text x="263.50" y="35.40" font-size="9.9" fill="#222">quantreg</text><line x1="94.00" y1="46.30" x2="115.50" y2="46.30" stroke="#e06060" stroke-width="1.0"/><text x="118.90" y="49.40" font-size="9.9" fill="#222">BRC, K</text><text x="151.91" y="51.60" font-size="6.14" fill="#222">2</text><text x="155.32" y="49.40" font-size="9.9" fill="#222">,</text><text x="160.82" y="49.40" font-size="9.9" fill="#222">&#961;</text><path d="M162.02,42.40 L163.42,40.80 L164.82,42.40" fill="none" stroke="#222" stroke-width="0.8"/><text x="165.82" y="44.40" font-size="6.14" fill="#222">2</text><line x1="176.50" y1="46.30" x2="198.50" y2="46.30" stroke="#90e8e8" stroke-width="1.0"/><text x="201.50" y="49.40" font-size="9.9" fill="#222">wavelet</text><line x1="238.20" y1="46.30" x2="260.00" y2="46.30" stroke="#8050a0" stroke-width="1.0"/><text x="263.50" y="49.40" font-size="9.9" fill="#222">smoothseg</text>
<rect x="43.60" y="24.50" width="276.80" height="204.00" fill="none" stroke="#333" stroke-width="1.3"/>
<g font-size="8.3" fill="#222"><text x="39.30" y="231.50" text-anchor="end">-0.6</text><text x="39.30" y="211.10" text-anchor="end">-0.4</text><text x="39.30" y="190.70" text-anchor="end">-0.2</text><text x="39.30" y="170.30" text-anchor="end">0.0</text><text x="39.30" y="149.90" text-anchor="end">0.2</text><text x="39.30" y="129.50" text-anchor="end">0.4</text><text x="39.30" y="109.10" text-anchor="end">0.6</text><text x="39.30" y="88.70" text-anchor="end">0.8</text><text x="39.30" y="68.30" text-anchor="end">1.0</text><text x="39.30" y="47.90" text-anchor="end">1.2</text><text x="39.30" y="27.50" text-anchor="end">1.4</text><text x="43.60" y="240.00" text-anchor="middle">0</text><text x="78.20" y="240.00" text-anchor="middle">50</text><text x="112.80" y="240.00" text-anchor="middle">100</text><text x="147.40" y="240.00" text-anchor="middle">150</text><text x="182.00" y="240.00" text-anchor="middle">200</text><text x="216.60" y="240.00" text-anchor="middle">250</text><text x="251.20" y="240.00" text-anchor="middle">300</text><text x="285.80" y="240.00" text-anchor="middle">350</text><text x="320.40" y="240.00" text-anchor="middle">400</text></g>
<text x="182.00" y="255.10" text-anchor="middle" font-size="9.6" fill="#222">position</text>
<text transform="translate(11.40,123.60) rotate(-90)" text-anchor="middle" font-size="9.6" fill="#222">log2ratio</text>
<text x="183.50" y="13.80" text-anchor="middle" font-size="10.2" font-weight="bold" fill="#111">SNR = 3</text>
<svg x="0" y="0" width="685" height="527" overflow="hidden"><clipPath id="cTR"><rect x="396.70" y="26.20" width="274.70" height="201.10"/></clipPath></svg>
<g clip-path="url(#cTR)"><g fill="#a0a0a0" fill-opacity="0.68"><circle cx="397.2" cy="184.8" r="0.95"/><circle cx="465.9" cy="184.8" r="0.95"/><circle cx="534.6" cy="184.8" r="0.95"/><circle cx="603.2" cy="184.8" r="0.95"/><circle cx="398.7" cy="133.0" r="0.95"/><circle cx="467.3" cy="133.0" r="0.95"/><circle cx="536.0" cy="133.0" r="0.95"/><circle cx="604.7" cy="133.0" r="0.95"/><circle cx="400.0" cy="217.7" r="0.95"/><circle cx="468.6" cy="217.7" r="0.95"/><circle cx="537.3" cy="217.7" r="0.95"/><circle cx="606.0" cy="217.7" r="0.95"/><circle cx="401.5" cy="145.3" r="0.95"/><circle cx="470.2" cy="145.3" r="0.95"/><circle cx="538.9" cy="145.3" r="0.95"/><circle cx="607.6" cy="145.3" r="0.95"/><circle cx="404.7" cy="214.6" r="0.95"/><circle cx="473.4" cy="214.6" r="0.95"/><circle cx="542.1" cy="214.6" r="0.95"/><circle cx="610.8" cy="214.6" r="0.95"/><circle cx="405.3" cy="193.3" r="0.95"/><circle cx="474.0" cy="193.3" r="0.95"/><circle cx="542.6" cy="193.3" r="0.95"/><circle cx="611.3" cy="193.3" r="0.95"/><circle cx="405.7" cy="180.8" r="0.95"/><circle cx="474.4" cy="180.8" r="0.95"/><circle cx="543.1" cy="180.8" r="0.95"/><circle cx="611.8" cy="180.8" r="0.95"/><circle cx="407.6" cy="122.9" r="0.95"/><circle cx="476.2" cy="122.9" r="0.95"/><circle cx="544.9" cy="122.9" r="0.95"/><circle cx="613.6" cy="122.9" r="0.95"/><circle cx="408.9" cy="125.1" r="0.95"/><circle cx="477.5" cy="125.1" r="0.95"/><circle cx="546.2" cy="125.1" r="0.95"/><circle cx="614.9" cy="125.1" r="0.95"/><circle cx="409.4" cy="209.0" r="0.95"/><circle cx="478.1" cy="209.0" r="0.95"/><circle cx="546.8" cy="209.0" r="0.95"/><circle cx="615.4" cy="209.0" r="0.95"/><circle cx="410.7" cy="138.7" r="0.95"/><circle cx="479.4" cy="138.7" r="0.95"/><circle cx="548.1" cy="138.7" r="0.95"/><circle cx="616.7" cy="138.7" r="0.95"/><circle cx="412.4" cy="145.9" r="0.95"/><circle cx="481.1" cy="145.9" r="0.95"/><circle cx="549.8" cy="145.9" r="0.95"/><circle cx="618.4" cy="145.9" r="0.95"/><circle cx="413.5" cy="187.7" r="0.95"/><circle cx="482.2" cy="187.7" r="0.95"/><circle cx="550.8" cy="187.7" r="0.95"/><circle cx="619.5" cy="187.7" r="0.95"/><circle cx="415.2" cy="148.7" r="0.95"/><circle cx="483.9" cy="148.7" r="0.95"/><circle cx="552.6" cy="148.7" r="0.95"/><circle cx="621.2" cy="148.7" r="0.95"/><circle cx="417.1" cy="184.8" r="0.95"/><circle cx="485.8" cy="184.8" r="0.95"/><circle cx="554.5" cy="184.8" r="0.95"/><circle cx="623.1" cy="184.8" r="0.95"/><circle cx="417.8" cy="130.3" r="0.95"/><circle cx="486.5" cy="205.7" r="0.95"/><circle cx="555.2" cy="205.7" r="0.95"/><circle cx="623.8" cy="205.7" r="0.95"/><circle cx="419.1" cy="71.9" r="0.95"/><circle cx="487.8" cy="147.3" r="0.95"/><circle cx="556.5" cy="147.3" r="0.95"/><circle cx="625.1" cy="147.3" r="0.95"/><circle cx="420.5" cy="47.6" r="0.95"/><circle cx="489.1" cy="123.0" r="0.95"/><circle cx="557.8" cy="123.0" r="0.95"/><circle cx="626.5" cy="123.0" r="0.95"/><circle cx="421.0" cy="133.5" r="0.95"/><circle cx="489.7" cy="209.0" r="0.95"/><circle cx="558.4" cy="209.0" r="0.95"/><circle cx="627.0" cy="209.0" r="0.95"/><circle cx="423.3" cy="88.4" r="0.95"/><circle cx="492.0" cy="163.8" r="0.95"/><circle cx="560.7" cy="163.8" r="0.95"/><circle cx="629.3" cy="163.8" r="0.95"/><circle cx="423.8" cy="118.7" r="0.95"/><circle cx="492.4" cy="194.1" r="0.95"/><circle cx="561.1" cy="194.1" r="0.95"/><circle cx="629.8" cy="194.1" r="0.95"/><circle cx="424.9" cy="120.6" r="0.95"/><circle cx="493.6" cy="120.6" r="0.95"/><circle cx="562.2" cy="196.1" r="0.95"/><circle cx="630.9" cy="196.1" r="0.95"/><circle cx="426.0" cy="121.8" r="0.95"/><circle cx="494.7" cy="121.8" r="0.95"/><circle cx="563.4" cy="197.2" r="0.95"/><circle cx="632.0" cy="197.2" r="0.95"/><circle cx="427.9" cy="86.5" r="0.95"/><circle cx="496.6" cy="86.5" r="0.95"/><circle cx="565.3" cy="86.5" r="0.95"/><circle cx="634.0" cy="161.9" r="0.95"/><circle cx="428.8" cy="59.3" r="0.95"/><circle cx="497.5" cy="59.3" r="0.95"/><circle cx="566.1" cy="59.3" r="0.95"/><circle cx="634.8" cy="134.8" r="0.95"/><circle cx="429.2" cy="114.4" r="0.95"/><circle cx="497.8" cy="114.4" r="0.95"/><circle cx="566.5" cy="114.4" r="0.95"/><circle cx="635.2" cy="189.8" r="0.95"/><circle cx="432.1" cy="68.7" r="0.95"/><circle cx="500.8" cy="68.7" r="0.95"/><circle cx="569.5" cy="68.7" r="0.95"/><circle cx="638.1" cy="68.7" r="0.95"/><circle cx="433.0" cy="76.5" r="0.95"/><circle cx="501.6" cy="76.5" r="0.95"/><circle cx="570.3" cy="76.5" r="0.95"/><circle cx="639.0" cy="151.9" r="0.95"/><circle cx="433.5" cy="130.4" r="0.95"/><circle cx="502.2" cy="130.4" r="0.95"/><circle cx="570.9" cy="130.4" r="0.95"/><circle cx="639.6" cy="205.8" r="0.95"/><circle cx="436.0" cy="129.4" r="0.95"/><circle cx="504.7" cy="129.4" r="0.95"/><circle cx="573.4" cy="204.8" r="0.95"/><circle cx="642.1" cy="204.8" r="0.95"/><circle cx="437.6" cy="58.0" r="0.95"/><circle cx="506.3" cy="58.0" r="0.95"/><circle cx="574.9" cy="133.4" r="0.95"/><circle cx="643.6" cy="133.4" r="0.95"/><circle cx="438.3" cy="104.1" r="0.95"/><circle cx="507.0" cy="179.5" r="0.95"/><circle cx="575.7" cy="179.5" r="0.95"/><circle cx="644.4" cy="179.5" r="0.95"/><circle cx="439.0" cy="58.9" r="0.95"/><circle cx="507.7" cy="134.3" r="0.95"/><circle cx="576.3" cy="134.3" r="0.95"/><circle cx="645.0" cy="134.3" r="0.95"/><circle cx="440.5" cy="98.1" r="0.95"/><circle cx="509.1" cy="173.5" r="0.95"/><circle cx="577.8" cy="173.5" r="0.95"/><circle cx="646.5" cy="173.5" r="0.95"/><circle cx="441.1" cy="114.8" r="0.95"/><circle cx="509.7" cy="190.2" r="0.95"/><circle cx="578.4" cy="190.2" r="0.95"/><circle cx="647.1" cy="190.2" r="0.95"/><circle cx="442.4" cy="51.7" r="0.95"/><circle cx="511.0" cy="127.1" r="0.95"/><circle cx="579.7" cy="127.1" r="0.95"/><circle cx="648.4" cy="127.1" r="0.95"/><circle cx="445.0" cy="193.6" r="0.95"/><circle cx="513.7" cy="193.6" r="0.95"/><circle cx="582.3" cy="193.6" r="0.95"/><circle cx="651.0" cy="193.6" r="0.95"/><circle cx="445.9" cy="137.0" r="0.95"/><circle cx="514.6" cy="137.0" r="0.95"/><circle cx="583.2" cy="137.0" r="0.95"/><circle cx="651.9" cy="137.0" r="0.95"/><circle cx="446.7" cy="208.8" r="0.95"/><circle cx="515.4" cy="208.8" r="0.95"/><circle cx="584.1" cy="208.8" r="0.95"/><circle cx="652.7" cy="208.8" r="0.95"/><circle cx="448.7" cy="134.5" r="0.95"/><circle cx="517.4" cy="134.5" r="0.95"/><circle cx="586.1" cy="134.5" r="0.95"/><circle cx="654.7" cy="134.5" r="0.95"/><circle cx="449.2" cy="188.5" r="0.95"/><circle cx="517.9" cy="188.5" r="0.95"/><circle cx="586.6" cy="188.5" r="0.95"/><circle cx="655.2" cy="188.5" r="0.95"/><circle cx="450.6" cy="191.1" r="0.95"/><circle cx="519.3" cy="191.1" r="0.95"/><circle cx="588.0" cy="191.1" r="0.95"/><circle cx="656.7" cy="191.1" r="0.95"/><circle cx="451.1" cy="207.5" r="0.95"/><circle cx="519.8" cy="207.5" r="0.95"/><circle cx="588.4" cy="207.5" r="0.95"/><circle cx="657.1" cy="207.5" r="0.95"/><circle cx="452.0" cy="157.6" r="0.95"/><circle cx="520.7" cy="157.6" r="0.95"/><circle cx="589.3" cy="157.6" r="0.95"/><circle cx="658.0" cy="157.6" r="0.95"/><circle cx="452.8" cy="150.0" r="0.95"/><circle cx="521.5" cy="150.0" r="0.95"/><circle cx="590.2" cy="150.0" r="0.95"/><circle cx="658.9" cy="150.0" r="0.95"/><circle cx="454.2" cy="187.4" r="0.95"/><circle cx="522.9" cy="187.4" r="0.95"/><circle cx="591.6" cy="187.4" r="0.95"/><circle cx="660.2" cy="187.4" r="0.95"/><circle cx="455.4" cy="153.0" r="0.95"/><circle cx="524.1" cy="153.0" r="0.95"/><circle cx="592.8" cy="153.0" r="0.95"/><circle cx="661.5" cy="153.0" r="0.95"/><circle cx="456.9" cy="156.4" r="0.95"/><circle cx="525.6" cy="156.4" r="0.95"/><circle cx="594.3" cy="156.4" r="0.95"/><circle cx="663.0" cy="156.4" r="0.95"/><circle cx="459.6" cy="146.4" r="0.95"/><circle cx="528.3" cy="146.4" r="0.95"/><circle cx="597.0" cy="146.4" r="0.95"/><circle cx="665.7" cy="146.4" r="0.95"/><circle cx="461.0" cy="180.8" r="0.95"/><circle cx="529.7" cy="180.8" r="0.95"/><circle cx="598.3" cy="180.8" r="0.95"/><circle cx="667.0" cy="180.8" r="0.95"/><circle cx="462.2" cy="189.4" r="0.95"/><circle cx="530.9" cy="189.4" r="0.95"/><circle cx="599.6" cy="189.4" r="0.95"/><circle cx="668.3" cy="189.4" r="0.95"/><circle cx="463.0" cy="153.6" r="0.95"/><circle cx="531.6" cy="153.6" r="0.95"/><circle cx="600.3" cy="153.6" r="0.95"/><circle cx="669.0" cy="153.6" r="0.95"/><circle cx="463.6" cy="177.0" r="0.95"/><circle cx="532.3" cy="177.0" r="0.95"/><circle cx="601.0" cy="177.0" r="0.95"/><circle cx="669.6" cy="177.0" r="0.95"/><circle cx="464.1" cy="149.7" r="0.95"/><circle cx="532.8" cy="149.7" r="0.95"/><circle cx="601.5" cy="149.7" r="0.95"/><circle cx="670.2" cy="149.7" r="0.95"/><circle cx="465.2" cy="191.1" r="0.95"/><circle cx="533.9" cy="191.1" r="0.95"/><circle cx="602.6" cy="191.1" r="0.95"/><circle cx="671.2" cy="191.1" r="0.95"/><circle cx="398.1" cy="173.0" r="0.95"/><circle cx="466.7" cy="173.0" r="0.95"/><circle cx="535.4" cy="173.0" r="0.95"/><circle cx="604.1" cy="173.0" r="0.95"/><circle cx="399.4" cy="162.7" r="0.95"/><circle cx="468.1" cy="162.7" r="0.95"/><circle cx="536.8" cy="162.7" r="0.95"/><circle cx="605.5" cy="162.7" r="0.95"/><circle cx="400.8" cy="169.6" r="0.95"/><circle cx="469.5" cy="169.6" r="0.95"/><circle cx="538.2" cy="169.6" r="0.95"/><circle cx="606.8" cy="169.6" r="0.95"/><circle cx="402.2" cy="166.0" r="0.95"/><circle cx="470.9" cy="166.0" r="0.95"/><circle cx="539.5" cy="166.0" r="0.95"/><circle cx="608.2" cy="166.0" r="0.95"/><circle cx="402.9" cy="171.2" r="0.95"/><circle cx="471.6" cy="171.2" r="0.95"/><circle cx="540.2" cy="171.2" r="0.95"/><circle cx="608.9" cy="171.2" r="0.95"/><circle cx="403.6" cy="156.9" r="0.95"/><circle cx="472.2" cy="156.9" r="0.95"/><circle cx="540.9" cy="156.9" r="0.95"/><circle cx="609.6" cy="156.9" r="0.95"/><circle cx="406.3" cy="171.3" r="0.95"/><circle cx="475.0" cy="171.3" r="0.95"/><circle cx="543.7" cy="171.3" r="0.95"/><circle cx="612.3" cy="171.3" r="0.95"/><circle cx="407.0" cy="166.2" r="0.95"/><circle cx="475.7" cy="166.2" r="0.95"/><circle cx="544.4" cy="166.2" r="0.95"/><circle cx="613.0" cy="166.2" r="0.95"/><circle cx="408.4" cy="168.4" r="0.95"/><circle cx="477.0" cy="168.4" r="0.95"/><circle cx="545.7" cy="168.4" r="0.95"/><circle cx="614.4" cy="168.4" r="0.95"/><circle cx="411.8" cy="157.1" r="0.95"/><circle cx="480.5" cy="157.1" r="0.95"/><circle cx="549.2" cy="157.1" r="0.95"/><circle cx="617.8" cy="157.1" r="0.95"/><circle cx="414.6" cy="165.6" r="0.95"/><circle cx="483.2" cy="165.6" r="0.95"/><circle cx="551.9" cy="165.6" r="0.95"/><circle cx="620.6" cy="165.6" r="0.95"/><circle cx="415.9" cy="171.6" r="0.95"/><circle cx="484.6" cy="171.6" r="0.95"/><circle cx="553.3" cy="171.6" r="0.95"/><circle cx="622.0" cy="171.6" r="0.95"/><circle cx="416.6" cy="168.8" r="0.95"/><circle cx="485.3" cy="168.8" r="0.95"/><circle cx="554.0" cy="168.8" r="0.95"/><circle cx="622.6" cy="168.8" r="0.95"/><circle cx="422.1" cy="95.4" r="0.95"/><circle cx="490.8" cy="170.8" r="0.95"/><circle cx="559.5" cy="170.8" r="0.95"/><circle cx="628.1" cy="170.8" r="0.95"/><circle cx="422.8" cy="95.8" r="0.95"/><circle cx="491.5" cy="171.2" r="0.95"/><circle cx="560.1" cy="171.2" r="0.95"/><circle cx="628.8" cy="171.2" r="0.95"/><circle cx="426.9" cy="92.1" r="0.95"/><circle cx="495.6" cy="92.1" r="0.95"/><circle cx="564.3" cy="167.5" r="0.95"/><circle cx="632.9" cy="167.5" r="0.95"/><circle cx="429.7" cy="98.0" r="0.95"/><circle cx="498.3" cy="98.0" r="0.95"/><circle cx="567.0" cy="98.0" r="0.95"/><circle cx="635.7" cy="98.0" r="0.95"/><circle cx="430.4" cy="88.2" r="0.95"/><circle cx="499.0" cy="88.2" r="0.95"/><circle cx="567.7" cy="88.2" r="0.95"/><circle cx="636.4" cy="88.2" r="0.95"/><circle cx="431.0" cy="99.7" r="0.95"/><circle cx="499.7" cy="99.7" r="0.95"/><circle cx="568.4" cy="99.7" r="0.95"/><circle cx="637.1" cy="99.7" r="0.95"/><circle cx="434.5" cy="91.2" r="0.95"/><circle cx="503.1" cy="91.2" r="0.95"/><circle cx="571.8" cy="91.2" r="0.95"/><circle cx="640.5" cy="166.6" r="0.95"/><circle cx="435.2" cy="88.1" r="0.95"/><circle cx="503.8" cy="88.1" r="0.95"/><circle cx="572.5" cy="163.5" r="0.95"/><circle cx="641.2" cy="163.5" r="0.95"/><circle cx="436.5" cy="89.3" r="0.95"/><circle cx="505.2" cy="89.3" r="0.95"/><circle cx="573.9" cy="164.7" r="0.95"/><circle cx="642.6" cy="164.7" r="0.95"/><circle cx="440.0" cy="83.3" r="0.95"/><circle cx="508.6" cy="158.7" r="0.95"/><circle cx="577.3" cy="158.7" r="0.95"/><circle cx="646.0" cy="158.7" r="0.95"/><circle cx="443.4" cy="90.5" r="0.95"/><circle cx="512.1" cy="165.9" r="0.95"/><circle cx="580.7" cy="165.9" r="0.95"/><circle cx="649.4" cy="165.9" r="0.95"/><circle cx="444.1" cy="86.8" r="0.95"/><circle cx="512.8" cy="162.2" r="0.95"/><circle cx="581.4" cy="162.2" r="0.95"/><circle cx="650.1" cy="162.2" r="0.95"/><circle cx="447.5" cy="169.5" r="0.95"/><circle cx="516.2" cy="169.5" r="0.95"/><circle cx="584.9" cy="169.5" r="0.95"/><circle cx="653.5" cy="169.5" r="0.95"/><circle cx="448.2" cy="158.5" r="0.95"/><circle cx="516.9" cy="158.5" r="0.95"/><circle cx="585.6" cy="158.5" r="0.95"/><circle cx="654.2" cy="158.5" r="0.95"/><circle cx="453.7" cy="178.0" r="0.95"/><circle cx="522.4" cy="178.0" r="0.95"/><circle cx="591.1" cy="178.0" r="0.95"/><circle cx="659.7" cy="178.0" r="0.95"/><circle cx="456.4" cy="165.6" r="0.95"/><circle cx="525.1" cy="165.6" r="0.95"/><circle cx="593.8" cy="165.6" r="0.95"/><circle cx="662.5" cy="165.6" r="0.95"/><circle cx="457.8" cy="170.6" r="0.95"/><circle cx="526.5" cy="170.6" r="0.95"/><circle cx="595.2" cy="170.6" r="0.95"/><circle cx="663.8" cy="170.6" r="0.95"/><circle cx="458.5" cy="162.9" r="0.95"/><circle cx="527.2" cy="162.9" r="0.95"/><circle cx="595.9" cy="162.9" r="0.95"/><circle cx="664.5" cy="162.9" r="0.95"/><circle cx="464.7" cy="171.3" r="0.95"/><circle cx="533.4" cy="171.3" r="0.95"/><circle cx="602.0" cy="171.3" r="0.95"/><circle cx="670.7" cy="171.3" r="0.95"/></g>
<path d="M396.7,167.0 L397.0,159.2 L397.4,167.0 L397.7,171.1 L398.1,167.0 L398.8,167.0 L399.1,159.6 L399.4,167.0 L399.8,161.7 L400.1,167.0 L400.5,171.5 L400.8,167.0 L401.2,159.4 L401.5,167.0 L401.9,173.0 L402.2,167.0 L402.9,167.0 L403.6,167.0 L404.3,167.0 L404.9,167.0 L405.6,167.0 L406.3,167.0 L407.0,167.0 L407.7,167.0 L408.4,167.0 L409.1,167.0 L409.7,167.0 L410.4,167.0 L411.1,167.0 L411.8,167.0 L412.5,167.0 L413.2,167.0 L413.9,167.0 L414.6,167.0 L415.2,167.0 L415.9,167.0 L416.6,167.0 L417.3,167.0 L417.6,167.0 L418.0,131.8 L418.7,130.0 L419.4,128.3 L420.0,126.5 L420.7,124.7 L421.4,125.1 L422.1,125.5 L422.8,125.9 L423.5,126.3 L424.2,126.8 L424.9,125.7 L425.5,124.7 L426.2,123.7 L426.9,122.7 L427.6,121.7 L428.3,120.0 L429.0,118.4 L429.7,116.7 L430.4,71.4 L431.0,121.7 L431.7,118.4 L432.4,115.0 L433.1,111.7 L433.8,144.8 L434.5,116.7 L435.2,114.3 L435.8,111.9 L436.5,109.5 L437.2,107.0 L437.9,104.6 L438.6,103.4 L438.9,111.1 L439.3,102.2 L440.0,101.0 L440.3,97.7 L440.7,99.8 L441.3,98.6 L442.0,100.6 L442.4,97.8 L442.7,102.6 L443.4,104.6 L444.1,106.6 L444.8,146.9 L445.1,167.0 L445.5,167.0 L446.1,167.0 L446.8,167.0 L447.5,167.0 L448.2,167.0 L448.9,167.0 L449.6,167.0 L450.3,167.0 L451.0,167.0 L451.6,167.0 L452.3,167.0 L453.0,167.0 L453.7,167.0 L454.4,167.0 L455.1,167.0 L455.8,167.0 L456.4,167.0 L457.1,167.0 L457.8,167.0 L458.5,167.0 L459.2,167.0 L459.9,167.0 L460.6,167.0 L461.3,167.0 L461.9,167.0 L462.6,167.0 L463.3,167.0 L464.0,167.0 L464.7,167.0 L465.4,167.0 L466.1,167.0 L466.7,167.0 L467.4,167.0 L468.1,167.0 L468.8,167.0 L469.5,167.0 L470.2,167.0 L470.9,167.0 L471.6,167.0 L472.2,167.0 L472.9,167.0 L473.6,167.0 L474.3,167.0 L475.0,167.0 L475.7,167.0 L476.4,167.0 L477.0,167.0 L477.7,167.0 L478.4,167.0 L479.1,167.0 L479.5,161.2 L479.8,167.0 L480.5,167.0 L480.8,169.9 L481.2,167.0 L481.9,167.0 L482.5,167.0 L483.2,167.0 L483.9,167.0 L484.6,167.0 L484.9,162.9 L485.3,167.0 L486.0,167.0 L486.7,167.0 L487.4,167.0 L488.0,167.0 L488.7,167.0 L489.4,167.0 L490.1,167.0 L490.8,167.0 L491.5,167.0 L492.2,167.0 L492.8,167.0 L493.5,121.7 L494.2,119.2 L494.9,116.7 L495.6,114.2 L496.3,111.7 L497.0,110.0 L497.7,108.3 L498.3,106.6 L499.0,72.5 L499.7,111.7 L500.4,110.0 L501.1,108.3 L501.8,106.6 L502.5,111.7 L503.1,116.7 L503.8,121.7 L504.5,125.5 L505.2,129.3 L505.9,133.0 L506.6,136.8 L506.9,167.0 L507.3,167.0 L508.0,167.0 L508.6,167.0 L509.3,167.0 L510.0,167.0 L510.7,167.0 L511.4,167.0 L512.1,167.0 L512.8,167.0 L513.4,167.0 L514.1,167.0 L514.8,167.0 L515.5,167.0 L516.2,167.0 L516.9,167.0 L517.6,167.0 L518.3,167.0 L518.9,167.0 L519.6,167.0 L520.3,167.0 L521.0,167.0 L521.7,167.0 L522.4,167.0 L523.1,167.0 L523.7,167.0 L524.4,167.0 L525.1,167.0 L525.8,167.0 L526.5,167.0 L527.2,167.0 L527.9,167.0 L528.6,167.0 L529.2,167.0 L529.9,167.0 L530.6,167.0 L531.3,167.0 L532.0,167.0 L532.7,167.0 L533.4,167.0 L534.0,167.0 L534.7,167.0 L535.4,167.0 L536.1,167.0 L536.8,167.0 L537.5,167.0 L538.2,167.0 L538.9,167.0 L539.5,167.0 L540.2,167.0 L540.9,167.0 L541.6,167.0 L542.3,167.0 L543.0,167.0 L543.7,167.0 L544.4,167.0 L545.0,167.0 L545.7,167.0 L546.4,167.0 L547.1,167.0 L547.8,167.0 L548.5,167.0 L549.2,167.0 L549.8,167.0 L550.5,167.0 L551.2,167.0 L551.9,167.0 L552.6,167.0 L553.3,167.0 L554.0,167.0 L554.7,167.0 L555.3,167.0 L556.0,167.0 L556.7,167.0 L557.1,163.6 L557.4,167.0 L558.1,167.0 L558.4,160.1 L558.8,167.0 L559.5,167.0 L559.8,159.5 L560.1,167.0 L560.8,167.0 L561.5,167.0 L562.2,167.0 L562.9,167.0 L563.6,167.0 L564.3,167.0 L565.0,167.0 L565.6,111.7 L566.3,110.0 L567.0,108.3 L567.7,106.6 L568.4,75.5 L569.1,106.6 L569.8,108.3 L570.4,110.0 L571.1,111.7 L571.8,167.0 L572.5,222.3 L573.2,167.0 L573.9,167.0 L574.6,167.0 L575.3,167.0 L575.9,167.0 L576.6,167.0 L577.3,167.0 L578.0,167.0 L578.7,167.0 L579.4,167.0 L580.1,167.0 L580.7,167.0 L581.4,167.0 L582.1,167.0 L582.8,167.0 L583.5,167.0 L584.2,167.0 L584.9,167.0 L585.6,167.0 L586.2,167.0 L586.9,167.0 L587.6,167.0 L588.3,167.0 L589.0,167.0 L589.7,167.0 L590.4,167.0 L591.1,167.0 L591.7,167.0 L592.4,167.0 L593.1,167.0 L593.8,167.0 L594.5,167.0 L595.2,167.0 L595.9,167.0 L596.5,167.0 L597.2,167.0 L597.9,167.0 L598.6,167.0 L599.3,167.0 L600.0,167.0 L600.7,167.0 L601.4,167.0 L602.0,167.0 L602.7,167.0 L603.1,174.7 L603.4,167.0 L603.8,162.3 L604.1,167.0 L604.8,167.0 L605.1,161.4 L605.5,167.0 L606.2,167.0 L606.8,167.0 L607.2,157.7 L607.5,167.0 L607.9,171.1 L608.2,167.0 L608.9,167.0 L609.6,167.0 L610.3,167.0 L611.0,167.0 L611.7,167.0 L612.3,167.0 L613.0,167.0 L613.7,167.0 L614.4,167.0 L615.1,167.0 L615.8,167.0 L616.5,167.0 L617.1,167.0 L617.8,167.0 L618.5,167.0 L619.2,167.0 L619.9,167.0 L620.6,167.0 L621.3,167.0 L622.0,167.0 L622.6,167.0 L623.3,167.0 L623.7,160.8 L624.0,167.0 L624.7,167.0 L625.0,174.2 L625.4,167.0 L626.1,167.0 L626.8,167.0 L627.1,163.8 L627.4,167.0 L627.8,161.8 L628.1,167.0 L628.5,173.2 L628.8,167.0 L629.5,167.0 L630.2,167.0 L630.9,167.0 L631.6,167.0 L632.3,167.0 L632.9,167.0 L633.6,167.0 L634.3,167.0 L635.0,167.0 L635.7,167.0 L636.0,116.7 L636.4,99.1 L636.7,81.5 L637.1,99.1 L637.4,116.7 L637.7,116.7 L638.4,116.7 L639.1,167.0 L639.6,212.2 L639.8,195.2 L640.2,167.0 L640.5,167.0 L641.2,167.0 L641.9,167.0 L642.6,167.0 L643.2,167.0 L643.9,167.0 L644.6,167.0 L645.3,167.0 L646.0,167.0 L646.7,167.0 L647.4,167.0 L648.1,167.0 L648.7,167.0 L649.4,167.0 L650.1,167.0 L650.8,167.0 L651.5,167.0 L652.2,167.0 L652.9,167.0 L653.5,167.0 L654.2,167.0 L654.9,167.0 L655.6,167.0 L656.3,167.0 L657.0,167.0 L657.7,167.0 L658.4,167.0 L659.0,167.0 L659.7,167.0 L660.4,167.0 L661.1,167.0 L661.8,167.0 L662.5,167.0 L663.2,167.0 L663.8,167.0 L664.5,167.0 L665.2,167.0 L665.9,167.0 L666.6,167.0 L667.3,167.0 L668.0,167.0 L668.7,167.0 L669.3,167.0 L670.0,167.0 L670.7,167.0 L671.4,167.0" fill="none" stroke="#5ee0e8" stroke-width="0.8" stroke-linejoin="round"/>
<path d="M396.7,165.5 L417.3,165.5 L417.6,98.6 L439.3,98.6 L439.6,96.6 L444.8,96.6 L445.1,169.0 L492.8,169.0 L493.2,100.6 L501.8,100.6 L502.1,102.1 L506.6,102.1 L506.9,169.0 L554.7,169.0 L564.3,172.0 L565.0,95.1 L571.8,95.1 L572.2,169.0 L630.2,170.0 L635.0,173.0 L635.7,91.6 L638.4,91.6 L638.8,182.1 L639.8,169.0 L671.4,169.0" fill="none" stroke="#7a1010" stroke-width="1.1" stroke-linejoin="round"/>
<path d="M396.0,161.0 L400.1,161.0 L400.1,173.3 L405.2,173.3 L405.2,163.0 L411.4,163.0 L411.4,158.9 L416.5,158.9 L417.5,163.0 L418.5,98.0 L422.6,98.0 L422.6,110.3 L426.7,110.3 L426.7,104.2 L431.9,104.2 L431.9,99.1 L436.0,99.1 L436.0,93.9 L443.1,93.9 L444.2,163.0 L446.2,167.1 L446.2,186.6 L451.3,186.6 L451.3,167.1 L457.5,167.1 L457.5,171.2 L463.6,171.2 L463.6,161.0 L469.8,161.0 L469.8,173.3 L474.9,173.3 L474.9,161.0 L480.0,161.0 L480.0,169.2 L486.2,169.2 L486.2,173.3 L491.3,173.3 L492.3,163.0 L494.0,163.0 L494.4,97.0 L502.6,97.0 L502.6,104.2 L506.7,104.2 L507.3,163.0 L508.7,169.2 L512.8,169.2 L512.8,186.6 L520.0,186.6 L520.0,167.1 L536.0,167.1 L532.0,168.2 L536.1,168.2 L536.1,161.0 L542.2,161.0 L542.2,169.2 L548.4,169.2 L548.4,161.0 L552.5,161.0 L552.5,171.2 L558.6,171.2 L558.6,181.5 L562.7,181.5 L562.7,171.2 L564.8,171.2 L564.8,163.0 L565.4,96.0 L569.9,96.0 L570.5,163.0 L570.9,132.3 L574.0,161.0 L576.1,169.2 L581.2,169.2 L581.2,186.6 L588.4,186.6 L588.4,169.2 L599.6,169.2 L599.6,161.0 L605.8,161.0 L605.8,175.3 L611.9,175.3 L611.9,161.0 L618.1,161.0 L618.1,173.3 L626.3,173.3 L626.3,187.6 L632.4,187.6 L632.4,171.2 L635.5,171.2 L635.5,163.0 L636.1,93.9 L638.2,93.9 L639.0,163.0 L639.6,169.2 L649.9,169.2 L649.9,185.6 L657.0,185.6 L657.0,169.2 L672.0,169.2" fill="none" stroke="#e050e0" stroke-width="0.9" stroke-linejoin="round"/>
<path d="M396.0,156.9 C396.3,156.2 397.0,152.1 397.6,152.8 C398.3,153.5 398.9,157.6 399.7,161.0 C400.4,164.4 401.4,170.0 402.1,173.3 C402.9,176.5 403.5,180.8 404.2,180.5 C404.9,180.1 405.6,174.5 406.2,171.2 C406.9,168.0 407.6,163.4 408.3,161.0 C409.0,158.6 409.7,157.2 410.3,156.9 C411.0,156.6 411.7,157.8 412.4,158.9 C413.1,160.1 413.8,165.4 414.4,164.1 C415.1,162.7 415.6,157.6 416.1,150.7 C416.6,143.8 416.9,130.7 417.5,122.6 C418.1,114.5 418.9,105.2 419.6,102.1 C420.3,99.1 420.8,102.5 421.6,104.2 C422.5,105.9 423.8,111.7 424.7,112.4 C425.6,113.1 425.9,109.7 426.7,108.3 C427.6,106.9 428.8,105.2 429.8,104.2 C430.8,103.2 431.9,103.5 432.9,102.1 C433.9,100.8 435.1,98.7 436.0,96.0 C436.8,93.3 437.4,88.0 438.0,85.7 C438.6,83.5 438.9,83.0 439.5,82.7 C440.0,82.3 440.5,82.3 441.1,83.7 C441.6,85.1 442.1,85.4 442.7,90.9 C443.3,96.3 444.2,107.1 444.8,116.5 C445.4,125.9 445.7,137.8 446.2,147.2 C446.7,156.7 447.1,167.6 447.7,173.3 C448.2,179.0 448.7,180.8 449.3,181.5 C449.8,182.2 450.3,180.1 450.9,177.4 C451.6,174.7 452.6,168.0 453.4,165.1 C454.1,162.2 454.8,160.3 455.4,160.0 C456.1,159.6 456.8,161.5 457.5,163.0 C458.2,164.6 458.9,167.8 459.5,169.2 C460.2,170.6 460.7,171.9 461.6,171.2 C462.4,170.6 463.6,168.2 464.7,165.1 C465.7,162.0 466.9,153.5 467.7,152.8 C468.6,152.1 469.1,157.2 469.8,161.0 C470.5,164.8 471.2,172.3 471.8,175.3 C472.5,178.4 472.8,180.5 473.5,179.4 C474.2,178.4 475.0,173.0 475.9,169.2 C476.9,165.4 478.0,158.3 479.0,156.9 C480.0,155.5 481.1,158.3 482.1,161.0 C483.1,163.7 484.3,170.9 485.2,173.3 C486.0,175.7 486.5,175.7 487.2,175.3 C487.9,175.0 488.7,172.6 489.3,171.2 C489.8,169.9 490.4,168.5 490.7,167.1 C491.0,165.8 490.9,170.4 491.3,163.0 C491.8,155.6 492.5,133.3 493.4,122.6 C494.2,112.0 495.6,103.3 496.4,99.1 C497.3,94.8 497.6,96.5 498.5,97.0 C499.3,97.5 500.5,98.2 501.6,102.1 C502.6,106.1 503.6,112.1 504.6,120.6 C505.7,129.1 506.7,145.6 507.7,153.4 C508.7,161.1 509.9,162.8 510.8,167.1 C511.6,171.5 512.2,176.4 512.8,179.4 C513.5,182.5 514.2,184.9 514.9,185.6 C515.6,186.3 516.3,185.6 516.9,183.5 C517.6,181.5 518.1,176.7 519.0,173.3 C519.8,169.9 521.0,165.3 522.1,163.0 C523.1,160.8 524.1,159.8 525.1,160.0 C526.2,160.1 527.2,162.5 528.2,164.1 C529.2,165.6 530.3,170.4 531.3,169.2 C532.3,168.0 533.3,157.2 534.0,156.9 C534.8,156.6 535.6,167.8 536.0,167.1 C536.4,166.5 536.0,153.1 536.5,152.8 C537.0,152.5 538.3,160.7 539.2,165.1 C540.1,169.5 541.0,178.1 541.8,179.4 C542.7,180.8 543.5,176.7 544.3,173.3 C545.1,169.9 545.9,161.5 546.8,158.9 C547.6,156.4 548.5,156.6 549.4,157.9 C550.3,159.3 551.2,163.9 552.1,167.1 C552.9,170.4 553.6,176.0 554.5,177.4 C555.5,178.8 556.7,175.3 557.6,175.3 C558.6,175.3 559.5,176.0 560.3,177.4 C561.1,178.8 561.8,186.3 562.3,183.5 C562.9,180.8 563.4,164.4 563.8,161.0 C564.1,157.6 563.9,171.1 564.4,163.0 C564.8,154.9 565.9,121.9 566.4,112.4 C567.0,102.9 567.4,106.9 567.9,106.2 C568.3,105.6 568.8,106.6 569.3,108.3 C569.8,110.0 570.4,111.0 570.9,116.5 C571.5,122.0 571.9,134.4 572.4,141.1 C572.9,147.8 573.4,152.6 574.0,156.9 C574.6,161.2 575.4,166.1 576.1,167.1 C576.8,168.2 577.3,162.0 578.1,163.0 C579.0,164.1 580.2,169.5 581.2,173.3 C582.2,177.1 583.4,184.2 584.3,185.6 C585.1,187.0 585.5,184.6 586.3,181.5 C587.2,178.4 588.4,170.6 589.4,167.1 C590.4,163.7 591.4,161.5 592.5,161.0 C593.5,160.5 594.5,162.4 595.5,164.1 C596.6,165.8 597.6,171.1 598.6,171.2 C599.6,171.4 600.7,168.0 601.7,165.1 C602.7,162.2 603.9,154.8 604.8,153.8 C605.6,152.8 606.0,155.0 606.8,158.9 C607.6,162.9 608.6,174.0 609.5,177.4 C610.3,180.8 611.2,181.2 611.9,179.4 C612.7,177.7 613.3,170.9 614.0,167.1 C614.7,163.4 615.4,158.3 616.0,156.9 C616.7,155.5 617.2,156.6 618.1,158.9 C618.9,161.3 620.1,167.8 621.2,171.2 C622.2,174.7 623.2,177.1 624.2,179.4 C625.3,181.8 626.3,185.3 627.3,185.6 C628.3,185.9 629.4,183.9 630.4,181.5 C631.4,179.1 632.8,174.3 633.5,171.2 C634.1,168.2 634.1,168.7 634.5,163.0 C634.8,157.3 635.2,144.1 635.5,137.0 C635.9,129.9 636.0,123.3 636.5,120.6 C637.1,117.9 638.1,113.5 638.6,120.6 C639.1,127.7 639.1,154.2 639.6,163.0 C640.1,171.8 641.0,172.6 641.7,173.3 C642.3,174.0 642.9,169.2 643.7,167.1 C644.6,165.1 645.8,160.0 646.8,161.0 C647.8,162.0 648.8,169.5 649.9,173.3 C650.9,177.1 651.9,182.2 652.9,183.5 C654.0,184.9 655.0,184.2 656.0,181.5 C657.0,178.8 658.1,170.7 659.1,167.1 C660.1,163.6 661.1,160.7 662.2,160.0 C663.2,159.3 664.2,161.2 665.2,163.0 C666.3,164.9 667.2,168.9 668.3,171.2 C669.4,173.6 671.4,176.4 672.0,177.4" fill="none" stroke="#6868e2" stroke-width="1.0"/>
<path d="M396.0,158.9 C396.3,158.4 397.4,155.2 398.0,155.9 C398.7,156.6 399.2,159.8 400.1,163.0 C401.0,166.3 402.3,173.0 403.2,175.3 C404.0,177.7 404.5,178.8 405.2,177.4 C405.9,176.0 406.6,170.2 407.3,167.1 C408.0,164.1 408.6,160.7 409.3,158.9 C410.0,157.2 410.7,156.6 411.4,156.9 C412.1,157.2 412.7,160.5 413.4,161.0 C414.1,161.5 414.8,167.4 415.5,160.0 C416.2,152.5 416.8,127.0 417.5,116.5 C418.2,106.0 418.9,99.8 419.6,97.0 C420.3,94.3 420.8,97.9 421.6,100.1 C422.5,102.3 423.7,109.3 424.7,110.3 C425.7,111.4 426.7,107.6 427.8,106.2 C428.8,104.9 429.8,103.2 430.8,102.1 C431.9,101.1 432.9,101.3 433.9,100.1 C434.9,98.9 436.1,96.2 437.0,95.0 C437.8,93.8 438.2,93.3 439.0,92.9 C439.9,92.6 441.4,92.1 442.1,92.9 C442.9,93.8 443.0,90.7 443.6,98.0 C444.1,105.4 444.8,127.2 445.2,137.0 C445.6,146.8 445.7,151.2 446.2,156.9 C446.7,162.6 447.6,167.8 448.3,171.2 C449.0,174.7 449.5,178.4 450.3,177.4 C451.2,176.4 452.5,168.0 453.4,165.1 C454.3,162.2 455.0,160.0 455.9,160.0 C456.7,160.0 457.6,163.2 458.5,165.1 C459.5,167.0 460.6,170.9 461.6,171.2 C462.6,171.6 463.6,169.9 464.7,167.1 C465.7,164.4 466.8,155.2 467.7,154.8 C468.7,154.5 469.3,161.0 470.2,165.1 C471.1,169.2 472.1,178.1 472.9,179.4 C473.7,180.8 474.1,176.9 474.9,173.3 C475.8,169.7 477.1,160.3 478.0,157.9 C478.9,155.5 479.6,157.1 480.5,158.9 C481.3,160.8 482.2,166.5 483.1,169.2 C484.1,171.9 485.2,175.3 486.2,175.3 C487.2,175.3 488.5,171.0 489.3,169.2 C490.0,167.4 490.2,171.6 490.7,164.6 C491.2,157.5 491.7,136.8 492.3,126.7 C493.0,116.7 493.5,108.6 494.4,104.2 C495.2,99.8 496.4,100.6 497.5,100.1 C498.5,99.6 499.7,100.3 500.5,101.1 C501.4,102.0 501.9,102.7 502.6,105.2 C503.3,107.8 504.0,110.5 504.6,116.5 C505.3,122.5 506.0,133.7 506.7,141.1 C507.4,148.5 508.1,156.7 508.7,161.0 C509.4,165.3 510.1,164.1 510.8,167.1 C511.5,170.2 512.2,176.4 512.8,179.4 C513.5,182.5 514.2,184.9 514.9,185.6 C515.6,186.3 516.3,185.6 516.9,183.5 C517.6,181.5 518.1,176.7 519.0,173.3 C519.8,169.9 521.0,165.3 522.1,163.0 C523.1,160.8 524.1,159.8 525.1,160.0 C526.2,160.1 527.2,162.5 528.2,164.1 C529.2,165.6 530.2,170.0 531.3,169.2 C532.3,168.3 533.7,159.3 534.5,158.9 C535.2,158.6 535.6,166.8 536.0,167.1 C536.4,167.5 536.4,160.0 537.1,161.0 C537.8,162.0 539.2,171.9 540.2,173.3 C541.2,174.7 542.2,171.6 543.3,169.2 C544.3,166.8 545.3,160.8 546.3,158.9 C547.4,157.1 548.4,156.9 549.4,157.9 C550.4,158.9 551.5,162.5 552.5,165.1 C553.5,167.7 554.5,170.6 555.6,173.3 C556.6,176.0 557.6,179.1 558.6,181.5 C559.7,183.9 561.0,188.3 561.7,187.6 C562.5,187.0 562.8,181.5 563.2,177.4 C563.5,173.3 563.4,176.6 563.8,163.0 C564.1,149.5 564.7,107.4 565.2,96.0 C565.7,84.6 566.2,94.5 566.8,94.4 C567.5,94.2 568.3,93.7 568.9,95.0 C569.5,96.3 570.0,90.8 570.5,102.1 C571.0,113.5 571.6,153.2 572.0,163.0 C572.4,172.8 572.3,160.7 573.0,161.0 C573.7,161.3 575.0,163.7 576.1,165.1 C577.1,166.5 578.1,167.1 579.1,169.2 C580.2,171.2 581.3,174.7 582.2,177.4 C583.2,180.1 584.0,185.3 584.9,185.6 C585.7,185.9 586.4,182.9 587.3,179.4 C588.3,176.0 589.5,168.3 590.4,165.1 C591.4,161.8 592.2,160.1 593.1,160.0 C594.0,159.8 594.9,162.2 596.0,164.1 C597.0,165.9 598.5,171.2 599.6,171.2 C600.8,171.2 601.8,166.5 602.7,164.1 C603.7,161.7 604.5,157.1 605.4,156.9 C606.2,156.7 606.9,160.0 607.8,163.0 C608.8,166.1 609.9,174.3 610.9,175.3 C611.9,176.4 613.1,172.1 614.0,169.2 C614.9,166.3 615.5,159.3 616.5,157.9 C617.4,156.6 618.6,158.4 619.7,161.0 C620.9,163.6 622.1,169.9 623.2,173.3 C624.4,176.7 625.6,179.1 626.7,181.5 C627.8,183.9 629.0,187.6 630.0,187.6 C630.9,187.6 631.7,185.9 632.4,181.5 C633.2,177.1 634.0,164.1 634.5,161.0 C635.0,157.9 635.2,174.4 635.5,163.0 C635.9,151.7 636.1,104.6 636.5,92.9 C637.0,81.2 637.8,81.2 638.2,92.9 C638.6,104.6 638.8,146.6 639.0,163.0 C639.2,179.5 639.2,190.4 639.6,191.7 C640.1,193.1 640.8,175.3 641.7,171.2 C642.5,167.1 643.7,166.8 644.7,167.1 C645.8,167.5 646.8,170.9 647.8,173.3 C648.8,175.7 649.9,179.4 650.9,181.5 C651.9,183.5 652.9,185.9 654.0,185.6 C655.0,185.3 656.0,182.9 657.0,179.4 C658.1,176.0 659.1,168.3 660.1,165.1 C661.1,161.8 662.2,160.1 663.2,160.0 C664.2,159.8 665.2,162.5 666.3,164.1 C667.3,165.6 668.4,167.3 669.3,169.2 C670.3,171.1 671.6,174.3 672.0,175.3" fill="none" stroke="#7e30ac" stroke-width="1.1"/>
<path d="M396.7,167.0 L417.3,167.0 M417.3,91.6 L444.8,91.6 M444.8,167.0 L492.8,167.0 M492.8,91.6 L506.6,91.6 M506.6,167.0 L565.0,167.0 M565.0,91.6 L571.8,91.6 M571.8,167.0 L635.7,167.0 M635.7,91.6 L638.4,91.6 M638.4,167.0 L671.4,167.0 " fill="none" stroke="#7a7a7a" stroke-width="1.8"/></g>
<g stroke="#333" stroke-width="1.1"><line x1="396.70" y1="227.30" x2="400.90" y2="227.30"/><line x1="396.70" y1="217.25" x2="399.00" y2="217.25"/><line x1="396.70" y1="207.19" x2="400.90" y2="207.19"/><line x1="396.70" y1="197.14" x2="399.00" y2="197.14"/><line x1="396.70" y1="187.08" x2="400.90" y2="187.08"/><line x1="396.70" y1="177.03" x2="399.00" y2="177.03"/><line x1="396.70" y1="166.97" x2="400.90" y2="166.97"/><line x1="396.70" y1="156.92" x2="399.00" y2="156.92"/><line x1="396.70" y1="146.86" x2="400.90" y2="146.86"/><line x1="396.70" y1="136.81" x2="399.00" y2="136.81"/><line x1="396.70" y1="126.75" x2="400.90" y2="126.75"/><line x1="396.70" y1="116.69" x2="399.00" y2="116.69"/><line x1="396.70" y1="106.64" x2="400.90" y2="106.64"/><line x1="396.70" y1="96.59" x2="399.00" y2="96.59"/><line x1="396.70" y1="86.53" x2="400.90" y2="86.53"/><line x1="396.70" y1="76.47" x2="399.00" y2="76.47"/><line x1="396.70" y1="66.42" x2="400.90" y2="66.42"/><line x1="396.70" y1="56.36" x2="399.00" y2="56.36"/><line x1="396.70" y1="46.31" x2="400.90" y2="46.31"/><line x1="396.70" y1="36.25" x2="399.00" y2="36.25"/><line x1="396.70" y1="26.20" x2="400.90" y2="26.20"/><line x1="396.70" y1="227.30" x2="396.70" y2="223.10"/><line x1="413.87" y1="227.30" x2="413.87" y2="225.00"/><line x1="431.04" y1="227.30" x2="431.04" y2="223.10"/><line x1="448.21" y1="227.30" x2="448.21" y2="225.00"/><line x1="465.38" y1="227.30" x2="465.38" y2="223.10"/><line x1="482.54" y1="227.30" x2="482.54" y2="225.00"/><line x1="499.71" y1="227.30" x2="499.71" y2="223.10"/><line x1="516.88" y1="227.30" x2="516.88" y2="225.00"/><line x1="534.05" y1="227.30" x2="534.05" y2="223.10"/><line x1="551.22" y1="227.30" x2="551.22" y2="225.00"/><line x1="568.39" y1="227.30" x2="568.39" y2="223.10"/><line x1="585.56" y1="227.30" x2="585.56" y2="225.00"/><line x1="602.73" y1="227.30" x2="602.73" y2="223.10"/><line x1="619.89" y1="227.30" x2="619.89" y2="225.00"/><line x1="637.06" y1="227.30" x2="637.06" y2="223.10"/><line x1="654.23" y1="227.30" x2="654.23" y2="225.00"/><line x1="671.40" y1="227.30" x2="671.40" y2="223.10"/></g>
<rect x="668.50" y="28.20" width="2.6" height="30.80" fill="#c8c8c8"/><rect x="442.70" y="26.20" width="225.80" height="30.80" fill="#fff" stroke="#5a5a5a" stroke-width="1.2"/><line x1="446.90" y1="33.10" x2="468.90" y2="33.10" stroke="#3a3a3a" stroke-width="1.2"/><text x="471.90" y="36.20" font-size="9.9" fill="#222">original BRC</text><line x1="531.10" y1="33.10" x2="552.80" y2="33.10" stroke="#a0a0e8" stroke-width="1.0"/><text x="556.00" y="36.20" font-size="9.9" fill="#222">lowess</text><line x1="592.10" y1="33.10" x2="613.20" y2="33.10" stroke="#f0b0f0" stroke-width="1.0"/><text x="616.50" y="36.20" font-size="9.9" fill="#222">quantreg</text><line x1="446.90" y1="47.70" x2="468.90" y2="47.70" stroke="#f09090" stroke-width="1.0"/><text x="471.90" y="50.80" font-size="9.9" fill="#222">BRC, K</text><text x="504.91" y="53.00" font-size="6.14" fill="#222">2</text><text x="508.32" y="50.80" font-size="9.9" fill="#222">,</text><text x="513.82" y="50.80" font-size="9.9" fill="#222">&#961;</text><path d="M515.02,43.80 L516.42,42.20 L517.82,43.80" fill="none" stroke="#222" stroke-width="0.8"/><text x="518.82" y="45.80" font-size="6.14" fill="#222">2</text><line x1="530.00" y1="47.70" x2="551.50" y2="47.70" stroke="#a0ecec" stroke-width="1.0"/><text x="555.10" y="50.80" font-size="9.9" fill="#222">wavelet</text><line x1="592.10" y1="47.70" x2="613.20" y2="47.70" stroke="#9060a0" stroke-width="1.0"/><text x="616.50" y="50.80" font-size="9.9" fill="#222">smoothseg</text>
<rect x="396.70" y="26.20" width="274.70" height="201.10" fill="none" stroke="#333" stroke-width="1.3"/>
<g font-size="8.3" fill="#222"><text x="392.20" y="230.30" text-anchor="end">-0.6</text><text x="392.20" y="210.19" text-anchor="end">-0.4</text><text x="392.20" y="190.08" text-anchor="end">-0.2</text><text x="392.20" y="169.97" text-anchor="end">0.0</text><text x="392.20" y="149.86" text-anchor="end">0.2</text><text x="392.20" y="129.75" text-anchor="end">0.4</text><text x="392.20" y="109.64" text-anchor="end">0.6</text><text x="392.20" y="89.53" text-anchor="end">0.8</text><text x="392.20" y="69.42" text-anchor="end">1.0</text><text x="392.20" y="49.31" text-anchor="end">1.2</text><text x="392.20" y="29.20" text-anchor="end">1.4</text><text x="396.70" y="238.80" text-anchor="middle">0</text><text x="431.04" y="238.80" text-anchor="middle">50</text><text x="465.38" y="238.80" text-anchor="middle">100</text><text x="499.71" y="238.80" text-anchor="middle">150</text><text x="534.05" y="238.80" text-anchor="middle">200</text><text x="568.39" y="238.80" text-anchor="middle">250</text><text x="602.73" y="238.80" text-anchor="middle">300</text><text x="637.06" y="238.80" text-anchor="middle">350</text><text x="671.40" y="238.80" text-anchor="middle">400</text></g>
<text x="534.05" y="253.90" text-anchor="middle" font-size="9.6" fill="#222">position</text>
<text transform="translate(365.20,123.80) rotate(-90)" text-anchor="middle" font-size="9.6" fill="#222">log2ratio</text>
<text x="535.50" y="15.20" text-anchor="middle" font-size="10.2" font-weight="bold" fill="#111">SNR = 3</text>
<svg x="0" y="0" width="685" height="527" overflow="hidden"><clipPath id="cBL"><rect x="45.00" y="293.70" width="274.70" height="201.70"/></clipPath></svg>
<g clip-path="url(#cBL)"><g fill="#a0a0a0" fill-opacity="0.68"><circle cx="46.3" cy="377.1" r="0.95"/><circle cx="115.0" cy="377.1" r="0.95"/><circle cx="183.6" cy="377.1" r="0.95"/><circle cx="252.3" cy="377.1" r="0.95"/><circle cx="49.6" cy="390.7" r="0.95"/><circle cx="118.3" cy="390.7" r="0.95"/><circle cx="186.9" cy="390.7" r="0.95"/><circle cx="255.6" cy="390.7" r="0.95"/><circle cx="50.2" cy="425.9" r="0.95"/><circle cx="118.9" cy="425.9" r="0.95"/><circle cx="187.5" cy="425.9" r="0.95"/><circle cx="256.2" cy="425.9" r="0.95"/><circle cx="51.0" cy="438.8" r="0.95"/><circle cx="119.7" cy="438.8" r="0.95"/><circle cx="188.4" cy="438.8" r="0.95"/><circle cx="257.0" cy="438.8" r="0.95"/><circle cx="51.7" cy="363.3" r="0.95"/><circle cx="120.4" cy="363.3" r="0.95"/><circle cx="189.1" cy="363.3" r="0.95"/><circle cx="257.7" cy="363.3" r="0.95"/><circle cx="52.5" cy="447.1" r="0.95"/><circle cx="121.2" cy="447.1" r="0.95"/><circle cx="189.9" cy="447.1" r="0.95"/><circle cx="258.6" cy="447.1" r="0.95"/><circle cx="54.1" cy="394.2" r="0.95"/><circle cx="122.7" cy="394.2" r="0.95"/><circle cx="191.4" cy="394.2" r="0.95"/><circle cx="260.1" cy="394.2" r="0.95"/><circle cx="54.5" cy="378.9" r="0.95"/><circle cx="123.2" cy="378.9" r="0.95"/><circle cx="191.9" cy="378.9" r="0.95"/><circle cx="260.6" cy="378.9" r="0.95"/><circle cx="56.6" cy="457.4" r="0.95"/><circle cx="125.3" cy="457.4" r="0.95"/><circle cx="194.0" cy="457.4" r="0.95"/><circle cx="262.7" cy="457.4" r="0.95"/><circle cx="57.8" cy="440.7" r="0.95"/><circle cx="126.5" cy="440.7" r="0.95"/><circle cx="195.2" cy="440.7" r="0.95"/><circle cx="263.9" cy="440.7" r="0.95"/><circle cx="58.8" cy="421.9" r="0.95"/><circle cx="127.4" cy="421.9" r="0.95"/><circle cx="196.1" cy="421.9" r="0.95"/><circle cx="264.8" cy="421.9" r="0.95"/><circle cx="59.9" cy="368.0" r="0.95"/><circle cx="128.6" cy="368.0" r="0.95"/><circle cx="197.3" cy="368.0" r="0.95"/><circle cx="266.0" cy="368.0" r="0.95"/><circle cx="60.8" cy="417.6" r="0.95"/><circle cx="129.4" cy="417.6" r="0.95"/><circle cx="198.1" cy="417.6" r="0.95"/><circle cx="266.8" cy="417.6" r="0.95"/><circle cx="61.9" cy="453.3" r="0.95"/><circle cx="130.6" cy="453.3" r="0.95"/><circle cx="199.3" cy="453.3" r="0.95"/><circle cx="268.0" cy="453.3" r="0.95"/><circle cx="62.8" cy="376.8" r="0.95"/><circle cx="131.4" cy="376.8" r="0.95"/><circle cx="200.1" cy="376.8" r="0.95"/><circle cx="268.8" cy="376.8" r="0.95"/><circle cx="63.5" cy="370.0" r="0.95"/><circle cx="132.1" cy="370.0" r="0.95"/><circle cx="200.8" cy="370.0" r="0.95"/><circle cx="269.5" cy="370.0" r="0.95"/><circle cx="64.9" cy="372.7" r="0.95"/><circle cx="133.6" cy="372.7" r="0.95"/><circle cx="202.2" cy="372.7" r="0.95"/><circle cx="270.9" cy="372.7" r="0.95"/><circle cx="66.3" cy="408.8" r="0.95"/><circle cx="135.0" cy="436.8" r="0.95"/><circle cx="203.6" cy="436.8" r="0.95"/><circle cx="272.3" cy="436.8" r="0.95"/><circle cx="67.5" cy="437.0" r="0.95"/><circle cx="136.1" cy="465.1" r="0.95"/><circle cx="204.8" cy="465.1" r="0.95"/><circle cx="273.5" cy="465.1" r="0.95"/><circle cx="70.2" cy="411.5" r="0.95"/><circle cx="138.9" cy="439.5" r="0.95"/><circle cx="207.5" cy="439.5" r="0.95"/><circle cx="276.2" cy="439.5" r="0.95"/><circle cx="71.7" cy="360.8" r="0.95"/><circle cx="140.4" cy="388.8" r="0.95"/><circle cx="209.1" cy="388.8" r="0.95"/><circle cx="277.7" cy="388.8" r="0.95"/><circle cx="72.5" cy="327.4" r="0.95"/><circle cx="141.2" cy="327.4" r="0.95"/><circle cx="209.9" cy="355.4" r="0.95"/><circle cx="278.6" cy="355.4" r="0.95"/><circle cx="73.7" cy="324.3" r="0.95"/><circle cx="142.4" cy="324.3" r="0.95"/><circle cx="211.1" cy="352.4" r="0.95"/><circle cx="279.7" cy="352.4" r="0.95"/><circle cx="74.5" cy="400.9" r="0.95"/><circle cx="143.2" cy="400.9" r="0.95"/><circle cx="211.9" cy="428.9" r="0.95"/><circle cx="280.6" cy="428.9" r="0.95"/><circle cx="76.7" cy="374.7" r="0.95"/><circle cx="145.3" cy="374.7" r="0.95"/><circle cx="214.0" cy="374.7" r="0.95"/><circle cx="282.7" cy="402.7" r="0.95"/><circle cx="77.2" cy="427.1" r="0.95"/><circle cx="145.9" cy="427.1" r="0.95"/><circle cx="214.6" cy="427.1" r="0.95"/><circle cx="283.3" cy="455.1" r="0.95"/><circle cx="78.4" cy="423.1" r="0.95"/><circle cx="147.1" cy="423.1" r="0.95"/><circle cx="215.8" cy="423.1" r="0.95"/><circle cx="284.4" cy="423.1" r="0.95"/><circle cx="80.8" cy="418.4" r="0.95"/><circle cx="149.4" cy="418.4" r="0.95"/><circle cx="218.1" cy="418.4" r="0.95"/><circle cx="286.8" cy="446.4" r="0.95"/><circle cx="81.9" cy="364.8" r="0.95"/><circle cx="150.6" cy="364.8" r="0.95"/><circle cx="219.3" cy="364.8" r="0.95"/><circle cx="288.0" cy="392.8" r="0.95"/><circle cx="82.8" cy="447.8" r="0.95"/><circle cx="151.4" cy="447.8" r="0.95"/><circle cx="220.1" cy="447.8" r="0.95"/><circle cx="288.8" cy="475.8" r="0.95"/><circle cx="84.9" cy="410.0" r="0.95"/><circle cx="153.6" cy="410.0" r="0.95"/><circle cx="222.2" cy="438.0" r="0.95"/><circle cx="290.9" cy="438.0" r="0.95"/><circle cx="87.9" cy="338.4" r="0.95"/><circle cx="156.5" cy="366.4" r="0.95"/><circle cx="225.2" cy="366.4" r="0.95"/><circle cx="293.9" cy="366.4" r="0.95"/><circle cx="88.9" cy="390.8" r="0.95"/><circle cx="157.5" cy="418.8" r="0.95"/><circle cx="226.2" cy="418.8" r="0.95"/><circle cx="294.9" cy="418.8" r="0.95"/><circle cx="89.8" cy="328.8" r="0.95"/><circle cx="158.5" cy="356.8" r="0.95"/><circle cx="227.1" cy="356.8" r="0.95"/><circle cx="295.8" cy="356.8" r="0.95"/><circle cx="91.8" cy="393.9" r="0.95"/><circle cx="160.5" cy="421.9" r="0.95"/><circle cx="229.1" cy="421.9" r="0.95"/><circle cx="297.8" cy="421.9" r="0.95"/><circle cx="93.8" cy="387.6" r="0.95"/><circle cx="162.5" cy="387.6" r="0.95"/><circle cx="231.1" cy="387.6" r="0.95"/><circle cx="299.8" cy="387.6" r="0.95"/><circle cx="94.1" cy="432.7" r="0.95"/><circle cx="162.8" cy="432.7" r="0.95"/><circle cx="231.5" cy="432.7" r="0.95"/><circle cx="300.2" cy="432.7" r="0.95"/><circle cx="95.0" cy="443.1" r="0.95"/><circle cx="163.6" cy="443.1" r="0.95"/><circle cx="232.3" cy="443.1" r="0.95"/><circle cx="301.0" cy="443.1" r="0.95"/><circle cx="96.5" cy="351.5" r="0.95"/><circle cx="165.2" cy="351.5" r="0.95"/><circle cx="233.9" cy="351.5" r="0.95"/><circle cx="302.5" cy="351.5" r="0.95"/><circle cx="97.1" cy="386.0" r="0.95"/><circle cx="165.8" cy="386.0" r="0.95"/><circle cx="234.4" cy="386.0" r="0.95"/><circle cx="303.1" cy="386.0" r="0.95"/><circle cx="97.7" cy="394.5" r="0.95"/><circle cx="166.4" cy="394.5" r="0.95"/><circle cx="235.0" cy="394.5" r="0.95"/><circle cx="303.7" cy="394.5" r="0.95"/><circle cx="98.3" cy="435.6" r="0.95"/><circle cx="166.9" cy="435.6" r="0.95"/><circle cx="235.6" cy="435.6" r="0.95"/><circle cx="304.3" cy="435.6" r="0.95"/><circle cx="99.2" cy="432.7" r="0.95"/><circle cx="167.9" cy="432.7" r="0.95"/><circle cx="236.6" cy="432.7" r="0.95"/><circle cx="305.2" cy="432.7" r="0.95"/><circle cx="100.6" cy="373.9" r="0.95"/><circle cx="169.3" cy="373.9" r="0.95"/><circle cx="238.0" cy="373.9" r="0.95"/><circle cx="306.6" cy="373.9" r="0.95"/><circle cx="102.0" cy="436.5" r="0.95"/><circle cx="170.7" cy="436.5" r="0.95"/><circle cx="239.4" cy="436.5" r="0.95"/><circle cx="308.1" cy="436.5" r="0.95"/><circle cx="103.2" cy="442.1" r="0.95"/><circle cx="171.9" cy="442.1" r="0.95"/><circle cx="240.6" cy="442.1" r="0.95"/><circle cx="309.2" cy="442.1" r="0.95"/><circle cx="104.4" cy="439.5" r="0.95"/><circle cx="173.1" cy="439.5" r="0.95"/><circle cx="241.7" cy="439.5" r="0.95"/><circle cx="310.4" cy="439.5" r="0.95"/><circle cx="106.7" cy="435.2" r="0.95"/><circle cx="175.4" cy="435.2" r="0.95"/><circle cx="244.0" cy="435.2" r="0.95"/><circle cx="312.7" cy="435.2" r="0.95"/><circle cx="108.3" cy="378.0" r="0.95"/><circle cx="176.9" cy="378.0" r="0.95"/><circle cx="245.6" cy="378.0" r="0.95"/><circle cx="314.3" cy="378.0" r="0.95"/><circle cx="108.9" cy="393.5" r="0.95"/><circle cx="177.5" cy="393.5" r="0.95"/><circle cx="246.2" cy="393.5" r="0.95"/><circle cx="314.9" cy="393.5" r="0.95"/><circle cx="109.4" cy="453.3" r="0.95"/><circle cx="178.1" cy="453.3" r="0.95"/><circle cx="246.8" cy="453.3" r="0.95"/><circle cx="315.5" cy="453.3" r="0.95"/><circle cx="111.0" cy="386.2" r="0.95"/><circle cx="179.6" cy="386.2" r="0.95"/><circle cx="248.3" cy="386.2" r="0.95"/><circle cx="317.0" cy="386.2" r="0.95"/><circle cx="111.4" cy="458.0" r="0.95"/><circle cx="180.1" cy="458.0" r="0.95"/><circle cx="248.8" cy="458.0" r="0.95"/><circle cx="317.5" cy="458.0" r="0.95"/><circle cx="112.4" cy="454.1" r="0.95"/><circle cx="181.1" cy="454.1" r="0.95"/><circle cx="249.7" cy="454.1" r="0.95"/><circle cx="318.4" cy="454.1" r="0.95"/><circle cx="45.7" cy="397.7" r="0.95"/><circle cx="114.4" cy="397.7" r="0.95"/><circle cx="183.0" cy="397.7" r="0.95"/><circle cx="251.7" cy="397.7" r="0.95"/><circle cx="47.1" cy="403.1" r="0.95"/><circle cx="115.7" cy="403.1" r="0.95"/><circle cx="184.4" cy="403.1" r="0.95"/><circle cx="253.1" cy="403.1" r="0.95"/><circle cx="47.7" cy="406.1" r="0.95"/><circle cx="116.4" cy="406.1" r="0.95"/><circle cx="185.1" cy="406.1" r="0.95"/><circle cx="253.8" cy="406.1" r="0.95"/><circle cx="48.4" cy="417.0" r="0.95"/><circle cx="117.1" cy="417.0" r="0.95"/><circle cx="185.8" cy="417.0" r="0.95"/><circle cx="254.5" cy="417.0" r="0.95"/><circle cx="53.2" cy="400.8" r="0.95"/><circle cx="121.9" cy="400.8" r="0.95"/><circle cx="190.6" cy="400.8" r="0.95"/><circle cx="259.3" cy="400.8" r="0.95"/><circle cx="55.3" cy="393.4" r="0.95"/><circle cx="124.0" cy="393.4" r="0.95"/><circle cx="192.7" cy="393.4" r="0.95"/><circle cx="261.3" cy="393.4" r="0.95"/><circle cx="56.0" cy="393.2" r="0.95"/><circle cx="124.7" cy="393.2" r="0.95"/><circle cx="193.3" cy="393.2" r="0.95"/><circle cx="262.0" cy="393.2" r="0.95"/><circle cx="59.4" cy="403.2" r="0.95"/><circle cx="128.1" cy="403.2" r="0.95"/><circle cx="196.8" cy="403.2" r="0.95"/><circle cx="265.4" cy="403.2" r="0.95"/><circle cx="64.2" cy="408.8" r="0.95"/><circle cx="132.9" cy="408.8" r="0.95"/><circle cx="201.6" cy="408.8" r="0.95"/><circle cx="270.3" cy="408.8" r="0.95"/><circle cx="65.6" cy="373.1" r="0.95"/><circle cx="134.3" cy="401.1" r="0.95"/><circle cx="203.0" cy="401.1" r="0.95"/><circle cx="271.6" cy="401.1" r="0.95"/><circle cx="67.0" cy="387.9" r="0.95"/><circle cx="135.7" cy="415.9" r="0.95"/><circle cx="204.3" cy="415.9" r="0.95"/><circle cx="273.0" cy="415.9" r="0.95"/><circle cx="68.3" cy="380.2" r="0.95"/><circle cx="137.0" cy="408.2" r="0.95"/><circle cx="205.7" cy="408.2" r="0.95"/><circle cx="274.4" cy="408.2" r="0.95"/><circle cx="69.0" cy="374.5" r="0.95"/><circle cx="137.7" cy="402.5" r="0.95"/><circle cx="206.4" cy="402.5" r="0.95"/><circle cx="275.1" cy="402.5" r="0.95"/><circle cx="71.1" cy="375.4" r="0.95"/><circle cx="139.8" cy="403.4" r="0.95"/><circle cx="208.4" cy="403.4" r="0.95"/><circle cx="277.1" cy="403.4" r="0.95"/><circle cx="73.2" cy="375.8" r="0.95"/><circle cx="141.8" cy="375.8" r="0.95"/><circle cx="210.5" cy="403.8" r="0.95"/><circle cx="279.2" cy="403.8" r="0.95"/><circle cx="75.2" cy="385.3" r="0.95"/><circle cx="143.9" cy="385.3" r="0.95"/><circle cx="212.6" cy="413.3" r="0.95"/><circle cx="281.2" cy="413.3" r="0.95"/><circle cx="75.9" cy="387.4" r="0.95"/><circle cx="144.6" cy="387.4" r="0.95"/><circle cx="213.3" cy="387.4" r="0.95"/><circle cx="281.9" cy="415.4" r="0.95"/><circle cx="79.3" cy="376.3" r="0.95"/><circle cx="148.0" cy="376.3" r="0.95"/><circle cx="216.7" cy="376.3" r="0.95"/><circle cx="285.4" cy="376.3" r="0.95"/><circle cx="80.0" cy="372.9" r="0.95"/><circle cx="148.7" cy="372.9" r="0.95"/><circle cx="217.4" cy="372.9" r="0.95"/><circle cx="286.0" cy="372.9" r="0.95"/><circle cx="81.4" cy="379.5" r="0.95"/><circle cx="150.1" cy="379.5" r="0.95"/><circle cx="218.7" cy="379.5" r="0.95"/><circle cx="287.4" cy="407.5" r="0.95"/><circle cx="83.5" cy="383.6" r="0.95"/><circle cx="152.1" cy="383.6" r="0.95"/><circle cx="220.8" cy="411.6" r="0.95"/><circle cx="289.5" cy="411.6" r="0.95"/><circle cx="84.1" cy="375.8" r="0.95"/><circle cx="152.8" cy="375.8" r="0.95"/><circle cx="221.5" cy="403.8" r="0.95"/><circle cx="290.2" cy="403.8" r="0.95"/><circle cx="85.5" cy="371.3" r="0.95"/><circle cx="154.2" cy="371.3" r="0.95"/><circle cx="222.9" cy="399.3" r="0.95"/><circle cx="291.5" cy="399.3" r="0.95"/><circle cx="86.2" cy="377.5" r="0.95"/><circle cx="154.9" cy="377.5" r="0.95"/><circle cx="223.6" cy="405.5" r="0.95"/><circle cx="292.2" cy="405.5" r="0.95"/><circle cx="86.9" cy="382.4" r="0.95"/><circle cx="155.6" cy="410.4" r="0.95"/><circle cx="224.2" cy="410.4" r="0.95"/><circle cx="292.9" cy="410.4" r="0.95"/><circle cx="90.3" cy="367.8" r="0.95"/><circle cx="159.0" cy="395.8" r="0.95"/><circle cx="227.7" cy="395.8" r="0.95"/><circle cx="296.4" cy="395.8" r="0.95"/><circle cx="91.0" cy="372.4" r="0.95"/><circle cx="159.7" cy="400.4" r="0.95"/><circle cx="228.4" cy="400.4" r="0.95"/><circle cx="297.0" cy="400.4" r="0.95"/><circle cx="92.4" cy="378.9" r="0.95"/><circle cx="161.1" cy="407.0" r="0.95"/><circle cx="229.7" cy="407.0" r="0.95"/><circle cx="298.4" cy="407.0" r="0.95"/><circle cx="93.1" cy="378.0" r="0.95"/><circle cx="161.7" cy="406.0" r="0.95"/><circle cx="230.4" cy="406.0" r="0.95"/><circle cx="299.1" cy="406.0" r="0.95"/><circle cx="95.8" cy="410.0" r="0.95"/><circle cx="164.5" cy="410.0" r="0.95"/><circle cx="233.2" cy="410.0" r="0.95"/><circle cx="301.8" cy="410.0" r="0.95"/><circle cx="99.9" cy="398.3" r="0.95"/><circle cx="168.6" cy="398.3" r="0.95"/><circle cx="237.3" cy="398.3" r="0.95"/><circle cx="306.0" cy="398.3" r="0.95"/><circle cx="101.3" cy="409.0" r="0.95"/><circle cx="170.0" cy="409.0" r="0.95"/><circle cx="238.7" cy="409.0" r="0.95"/><circle cx="307.3" cy="409.0" r="0.95"/><circle cx="102.7" cy="411.5" r="0.95"/><circle cx="171.4" cy="411.5" r="0.95"/><circle cx="240.0" cy="411.5" r="0.95"/><circle cx="308.7" cy="411.5" r="0.95"/><circle cx="105.4" cy="406.0" r="0.95"/><circle cx="174.1" cy="406.0" r="0.95"/><circle cx="242.8" cy="406.0" r="0.95"/><circle cx="311.5" cy="406.0" r="0.95"/><circle cx="106.1" cy="394.3" r="0.95"/><circle cx="174.8" cy="394.3" r="0.95"/><circle cx="243.5" cy="394.3" r="0.95"/><circle cx="312.1" cy="394.3" r="0.95"/><circle cx="107.5" cy="422.0" r="0.95"/><circle cx="176.2" cy="422.0" r="0.95"/><circle cx="244.8" cy="422.0" r="0.95"/><circle cx="313.5" cy="422.0" r="0.95"/><circle cx="110.2" cy="412.5" r="0.95"/><circle cx="178.9" cy="412.5" r="0.95"/><circle cx="247.6" cy="412.5" r="0.95"/><circle cx="316.3" cy="412.5" r="0.95"/><circle cx="113.0" cy="401.0" r="0.95"/><circle cx="181.7" cy="401.0" r="0.95"/><circle cx="250.3" cy="401.0" r="0.95"/><circle cx="319.0" cy="401.0" r="0.95"/><circle cx="113.7" cy="403.7" r="0.95"/><circle cx="182.3" cy="403.7" r="0.95"/><circle cx="251.0" cy="403.7" r="0.95"/><circle cx="319.7" cy="403.7" r="0.95"/></g>
<path d="M45.0,405.8 L65.6,405.8 M65.6,377.7 L93.1,377.7 M93.1,405.8 L141.1,405.8 M141.1,377.7 L154.9,377.7 M154.9,405.8 L213.3,405.8 M213.3,377.7 L220.1,377.7 M220.1,405.8 L284.0,405.8 M284.0,377.7 L286.7,377.7 M286.7,405.8 L319.7,405.8 " fill="none" stroke="#555555" stroke-width="1.5"/>
<path d="M44.0,405.6 C46.0,405.6 53.6,406.1 56.3,405.6 C59.0,405.1 59.0,403.2 60.4,402.5 C61.8,401.8 63.3,401.0 64.5,401.5 C65.7,402.0 66.7,406.6 67.6,405.6 C68.4,404.6 68.6,397.9 69.6,395.3 C70.6,392.8 72.5,390.9 73.7,390.2 C74.9,389.5 75.8,389.0 76.8,391.2 C77.8,393.5 79.0,401.2 79.9,403.5 C80.7,405.9 80.9,407.0 81.9,405.6 C82.9,404.2 84.8,398.6 86.0,395.3 C87.2,392.1 87.9,386.5 89.1,386.1 C90.3,385.8 92.2,390.0 93.2,393.3 C94.2,396.5 80.8,403.5 95.2,405.6 C109.7,407.7 165.2,405.9 180.0,406.0 C194.8,406.1 160.7,406.1 184.0,406.0 C207.3,405.9 297.3,405.7 320.0,405.6" fill="none" stroke="#5ee0e8" stroke-width="1.0"/>
<path d="M44.0,405.6 C46.4,405.6 55.6,405.9 58.3,405.6 C61.1,405.3 59.4,404.6 60.4,403.5 C61.4,402.5 63.1,401.2 64.5,399.4 C65.9,397.7 67.2,395.0 68.6,393.3 C70.0,391.6 70.0,389.9 72.7,389.2 C75.4,388.5 81.9,388.9 85.0,389.2 C88.1,389.5 89.4,388.5 91.1,391.2 C92.9,394.0 92.9,402.7 95.2,405.6 C97.6,408.5 99.7,408.3 105.5,408.7 C111.3,409.0 124.6,408.2 130.1,407.6 C135.6,407.1 136.6,407.0 138.3,405.6 C140.0,404.2 139.0,400.6 140.3,399.4 C141.7,398.2 143.4,398.4 146.5,398.4 C149.6,398.4 156.1,398.2 158.8,399.4 C161.5,400.6 159.4,404.4 162.9,405.6 C166.4,406.8 176.5,406.3 180.0,406.6 C183.5,407.0 160.7,407.6 184.0,407.6 C207.3,407.6 297.3,406.8 320.0,406.6" fill="none" stroke="#78e078" stroke-width="1.1"/>
<path d="M68.3,403.5 L72.1,386.7 L79.3,386.1 L82.8,386.0 L86.2,385.6 L88.8,384.5 L91.0,385.6 L93.1,392.3 L94.4,403.5" fill="none" stroke="#555555" stroke-width="0.9" stroke-linejoin="round"/>
<path d="M44.0,401.5 L46.0,401.5 L46.0,407.6 L52.2,407.6 L52.2,401.5 L55.3,401.5 L55.3,411.7 L59.4,411.7 L59.4,401.5 L62.4,401.5 L62.4,395.3 L66.5,395.3 L66.5,385.1 L72.7,385.1 L72.7,374.8 L75.8,374.8 L75.8,393.3 L77.8,393.3 L77.8,415.8 L79.9,415.8 L79.9,393.3 L82.9,393.3 L82.9,383.0 L86.0,383.0 L86.0,368.7 L91.1,368.7 L91.1,397.4 L95.2,397.4 L95.2,399.4 L98.3,399.4 L98.3,419.9 L104.5,419.9 L104.5,407.6 L109.6,407.6 L109.6,405.6 L115.7,405.6 L115.7,409.7 L120.9,409.7 L120.9,401.5 L123.9,401.5 L123.9,409.7 L128.0,409.7 L128.0,413.8 L131.1,413.8 L131.1,403.5 L136.2,403.5 L136.2,411.7 L139.3,411.7 L139.3,391.2 L142.4,391.2 L142.4,378.9 L145.5,378.9 L145.5,415.8 L147.5,415.8 L147.5,389.2 L154.7,389.2 L154.7,393.3 L157.8,393.3 L157.8,389.2 L160.8,389.2 L160.8,401.5 L164.9,401.5 L164.9,411.7 L169.0,411.7 L169.0,417.9 L173.1,417.9 L173.1,405.6 L179.3,405.6 L179.3,409.7 L184.0,409.7 L180.0,409.7 L183.1,409.7 L183.1,405.6 L189.2,405.6 L189.2,401.5 L191.3,401.5 L191.3,405.6 L197.4,405.6 L197.4,413.8 L200.5,413.8 L200.5,399.4 L203.6,399.4 L203.6,407.6 L208.7,407.6 L208.7,401.5 L213.8,401.5 L213.8,411.7 L220.0,411.7 L220.0,401.5 L224.1,401.5 L224.1,397.4 L229.2,397.4 L229.2,403.5 L233.3,403.5 L233.3,399.4 L235.3,399.4 L235.3,411.7 L241.5,411.7 L241.5,407.6 L245.6,407.6 L245.6,405.6 L250.7,405.6 L250.7,407.6 L257.9,407.6 L257.9,401.5 L261.0,401.5 L261.0,405.6 L266.1,405.6 L266.1,399.4 L269.2,399.4 L269.2,393.3 L271.2,393.3 L271.2,405.6 L278.4,405.6 L278.4,409.7 L282.5,409.7 L282.5,403.5 L291.7,403.5 L291.7,395.3 L296.8,395.3 L296.8,401.5 L302.0,401.5 L302.0,399.4 L304.0,399.4 L304.0,407.6 L308.1,407.6 L308.1,417.9 L313.2,417.9 L313.2,411.7 L320.0,411.7" fill="none" stroke="#e050e0" stroke-width="0.9" stroke-linejoin="round"/>
<path d="M44.0,395.3 C44.3,396.4 45.1,399.1 45.6,401.5 C46.2,403.9 46.5,408.7 47.1,409.7 C47.7,410.7 48.4,407.3 49.1,407.6 C49.8,408.0 50.5,412.1 51.2,411.7 C51.9,411.4 52.5,405.9 53.2,405.6 C53.9,405.3 54.6,407.6 55.3,409.7 C56.0,411.7 56.6,417.9 57.3,417.9 C58.0,417.9 58.7,412.8 59.4,409.7 C60.1,406.6 60.7,402.2 61.4,399.4 C62.1,396.7 62.8,394.7 63.5,393.3 C64.2,391.9 64.8,392.6 65.5,391.2 C66.2,389.9 66.9,388.5 67.6,385.1 C68.3,381.7 68.8,374.3 69.6,370.7 C70.5,367.2 71.8,363.9 72.7,363.6 C73.6,363.2 74.1,365.5 74.7,368.7 C75.4,371.9 75.9,378.9 76.4,383.0 C76.9,387.1 77.2,392.6 77.8,393.3 C78.4,394.0 79.2,388.2 79.9,387.1 C80.6,386.1 81.2,387.8 81.9,387.1 C82.6,386.5 83.3,385.8 84.0,383.0 C84.7,380.3 85.2,374.7 86.0,370.7 C86.8,366.8 87.9,359.5 88.7,359.5 C89.5,359.5 90.2,366.1 90.7,370.7 C91.3,375.4 91.6,381.3 92.2,387.1 C92.8,393.0 93.5,401.5 94.2,405.6 C94.9,409.7 95.6,410.0 96.3,411.7 C97.0,413.5 97.6,414.1 98.3,415.8 C99.0,417.6 99.7,420.6 100.4,422.0 C101.1,423.4 101.7,424.4 102.4,424.0 C103.1,423.7 103.8,421.0 104.5,419.9 C105.2,418.9 105.8,419.9 106.5,417.9 C107.2,415.8 107.9,410.0 108.6,407.6 C109.3,405.3 109.9,402.9 110.6,403.5 C111.3,404.2 112.0,409.7 112.7,411.7 C113.4,413.8 114.0,416.5 114.7,415.8 C115.4,415.2 116.1,409.7 116.8,407.6 C117.5,405.6 118.1,403.2 118.8,403.5 C119.5,403.9 120.2,408.0 120.9,409.7 C121.6,411.4 122.2,413.8 122.9,413.8 C123.6,413.8 124.3,409.0 125.0,409.7 C125.6,410.4 126.3,418.6 127.0,417.9 C127.7,417.2 128.4,409.0 129.1,405.6 C129.7,402.2 130.5,399.4 131.1,397.4 C131.7,395.3 132.0,392.6 132.6,393.3 C133.1,394.0 133.6,397.4 134.2,401.5 C134.8,405.6 135.6,414.5 136.2,417.9 C136.9,421.3 137.3,424.7 137.9,422.0 C138.5,419.3 139.2,409.0 139.9,401.5 C140.6,394.0 141.4,381.8 142.0,376.9 C142.6,371.9 142.8,371.8 143.4,371.8 C144.0,371.8 144.8,373.3 145.5,376.9 C146.1,380.5 146.8,391.2 147.5,393.3 C148.2,395.3 148.9,390.2 149.6,389.2 C150.2,388.2 150.9,387.1 151.6,387.1 C152.3,387.1 153.0,389.2 153.7,389.2 C154.3,389.2 155.0,386.8 155.7,387.1 C156.4,387.5 157.1,389.5 157.8,391.2 C158.4,393.0 159.1,395.0 159.8,397.4 C160.5,399.8 161.2,402.5 161.9,405.6 C162.5,408.7 163.2,413.5 163.9,415.8 C164.6,418.2 165.3,419.6 166.0,419.9 C166.6,420.3 167.3,418.9 168.0,417.9 C168.7,416.9 169.4,415.5 170.1,413.8 C170.7,412.1 171.4,408.0 172.1,407.6 C172.8,407.3 173.5,410.0 174.2,411.7 C174.8,413.5 175.5,417.2 176.2,417.9 C176.9,418.6 177.6,417.6 178.3,415.8 C178.9,414.1 179.7,407.3 180.3,407.6 C180.9,408.0 181.0,417.9 181.6,417.9 C182.3,417.9 183.3,410.0 184.1,407.6 C184.9,405.3 185.5,402.9 186.1,403.5 C186.8,404.2 187.5,410.0 188.2,411.7 C188.9,413.5 189.6,414.8 190.2,413.8 C190.9,412.8 191.5,406.3 192.3,405.6 C193.1,404.9 193.9,410.4 194.8,409.7 C195.6,409.0 196.6,403.9 197.4,401.5 C198.2,399.1 198.8,396.9 199.5,395.3 C200.2,393.8 200.8,391.2 201.5,392.3 C202.2,393.3 202.9,396.9 203.6,401.5 C204.3,406.1 204.9,418.6 205.6,419.9 C206.3,421.3 206.9,414.5 207.7,409.7 C208.5,404.9 209.5,392.6 210.3,391.2 C211.2,389.9 212.0,398.4 212.8,401.5 C213.5,404.6 214.2,410.0 214.8,409.7 C215.5,409.4 216.2,401.5 216.9,399.4 C217.6,397.4 218.3,395.0 218.9,397.4 C219.6,399.8 220.3,413.1 221.0,413.8 C221.7,414.5 222.2,405.9 223.0,401.5 C223.9,397.1 225.3,387.8 226.1,387.1 C227.0,386.5 227.5,394.0 228.2,397.4 C228.9,400.8 229.5,407.0 230.2,407.6 C230.9,408.3 231.5,401.5 232.3,401.5 C233.1,401.5 234.1,404.9 234.9,407.6 C235.8,410.4 236.6,415.5 237.4,417.9 C238.1,420.3 238.8,422.0 239.4,422.0 C240.1,422.0 240.6,420.3 241.5,417.9 C242.3,415.5 243.5,408.3 244.6,407.6 C245.6,407.0 246.8,412.1 247.6,413.8 C248.5,415.5 248.8,418.9 249.7,417.9 C250.5,416.9 251.8,408.8 252.8,407.6 C253.7,406.4 254.6,410.0 255.4,410.7 C256.3,411.4 257.1,412.9 257.9,411.7 C258.6,410.5 259.3,403.9 259.9,403.5 C260.6,403.2 261.3,407.6 262.0,409.7 C262.7,411.7 263.4,416.2 264.0,415.8 C264.7,415.5 265.4,410.7 266.1,407.6 C266.8,404.6 267.5,399.8 268.1,397.4 C268.8,395.0 269.5,392.6 270.2,393.3 C270.9,394.0 271.6,397.4 272.2,401.5 C272.9,405.6 273.6,416.9 274.3,417.9 C275.0,418.9 275.6,412.1 276.3,407.6 C277.1,403.2 278.0,392.3 278.8,391.2 C279.6,390.2 280.2,398.4 280.8,401.5 C281.5,404.6 281.9,406.6 282.5,409.7 C283.1,412.8 283.9,419.9 284.5,419.9 C285.2,419.9 285.9,412.1 286.6,409.7 C287.3,407.3 288.0,407.6 288.6,405.6 C289.3,403.5 290.0,399.8 290.7,397.4 C291.4,395.0 292.1,393.0 292.7,391.2 C293.4,389.5 294.1,385.8 294.8,387.1 C295.5,388.5 296.2,396.0 296.8,399.4 C297.5,402.9 298.2,407.0 298.9,407.6 C299.6,408.3 300.3,403.5 300.9,403.5 C301.6,403.5 302.1,405.3 303.0,407.6 C303.8,410.0 305.2,415.5 306.1,417.9 C306.9,420.3 307.3,422.0 308.1,422.0 C309.0,422.0 310.2,419.6 311.2,417.9 C312.2,416.2 313.4,412.4 314.3,411.7 C315.1,411.1 315.6,412.8 316.3,413.8 C317.0,414.8 317.7,416.5 318.4,417.9 C319.0,419.3 319.7,421.3 320.0,422.0" fill="none" stroke="#6868e2" stroke-width="1.0"/>
<path d="M44.0,401.5 C44.5,402.2 46.0,404.6 47.1,405.6 C48.1,406.6 49.1,408.0 50.1,407.6 C51.2,407.3 52.2,403.2 53.2,403.5 C54.2,403.9 55.3,409.4 56.3,409.7 C57.3,410.0 58.3,407.6 59.4,405.6 C60.4,403.5 61.4,399.8 62.4,397.4 C63.5,395.0 64.5,393.6 65.5,391.2 C66.5,388.9 67.6,385.4 68.6,383.0 C69.6,380.7 70.6,377.2 71.7,376.9 C72.7,376.6 73.9,378.6 74.7,381.0 C75.6,383.4 75.9,390.0 76.8,391.2 C77.7,392.4 78.8,389.4 79.9,388.2 C80.9,387.0 81.9,386.3 82.9,384.1 C84.0,381.8 85.2,377.4 86.0,374.8 C86.9,372.3 87.4,368.7 88.1,368.7 C88.8,368.7 89.3,370.1 90.1,374.8 C91.0,379.6 92.2,391.9 93.2,397.4 C94.2,402.9 95.2,404.2 96.3,407.6 C97.3,411.1 98.3,415.5 99.3,417.9 C100.4,420.3 101.4,422.0 102.4,422.0 C103.4,422.0 104.5,419.9 105.5,417.9 C106.5,415.8 107.5,411.7 108.6,409.7 C109.6,407.6 110.6,405.9 111.6,405.6 C112.7,405.3 113.7,407.6 114.7,407.6 C115.7,407.6 116.8,406.3 117.8,405.6 C118.8,404.9 119.8,402.9 120.9,403.5 C121.9,404.2 122.9,408.3 123.9,409.7 C125.0,411.1 126.0,412.4 127.0,411.7 C128.0,411.1 129.1,407.6 130.1,405.6 C131.1,403.5 132.1,398.8 133.2,399.4 C134.2,400.1 135.2,408.3 136.2,409.7 C137.3,411.1 138.4,411.7 139.3,407.6 C140.3,403.5 141.2,389.7 142.0,385.1 C142.8,380.5 143.3,378.9 144.0,380.0 C144.8,381.0 145.6,389.7 146.5,391.2 C147.4,392.8 148.5,389.4 149.6,389.2 C150.6,389.0 151.6,390.4 152.6,390.2 C153.7,390.0 154.7,387.7 155.7,388.2 C156.7,388.7 157.8,391.1 158.8,393.3 C159.8,395.5 160.8,398.8 161.9,401.5 C162.9,404.2 163.9,407.3 164.9,409.7 C166.0,412.1 167.0,414.1 168.0,415.8 C169.0,417.6 170.1,419.9 171.1,419.9 C172.1,419.9 173.1,417.6 174.2,415.8 C175.2,414.1 176.2,411.4 177.2,409.7 C178.3,408.0 179.3,405.9 180.3,405.6 C181.3,405.3 182.1,407.8 183.1,407.6 C184.0,407.5 185.1,404.2 186.1,404.6 C187.2,404.9 188.2,408.5 189.2,409.7 C190.2,410.9 191.3,412.1 192.3,411.7 C193.3,411.4 194.3,410.0 195.4,407.6 C196.4,405.3 197.6,399.8 198.4,397.4 C199.3,395.0 199.7,392.6 200.5,393.3 C201.2,394.0 202.1,397.4 203.0,401.5 C203.8,405.6 204.7,416.9 205.6,417.9 C206.6,418.9 207.7,410.7 208.7,407.6 C209.7,404.6 210.7,399.8 211.8,399.4 C212.8,399.1 213.8,405.3 214.8,405.6 C215.9,405.9 216.9,401.5 217.9,401.5 C218.9,401.5 220.0,405.9 221.0,405.6 C222.0,405.3 223.2,401.3 224.1,399.4 C224.9,397.6 225.3,394.0 226.1,394.3 C227.0,394.7 228.2,399.6 229.2,401.5 C230.2,403.4 231.2,403.5 232.3,405.6 C233.3,407.6 234.3,411.1 235.3,413.8 C236.4,416.5 237.6,420.5 238.4,422.0 C239.3,423.5 239.6,424.0 240.5,423.0 C241.3,422.0 242.5,418.1 243.5,415.8 C244.6,413.6 245.6,411.1 246.6,409.7 C247.6,408.3 248.7,407.6 249.7,407.6 C250.7,407.6 251.7,410.0 252.8,409.7 C253.8,409.4 254.8,405.9 255.8,405.6 C256.9,405.3 257.9,407.0 258.9,407.6 C259.9,408.3 261.0,410.4 262.0,409.7 C263.0,409.0 264.0,405.9 265.1,403.5 C266.1,401.2 267.3,397.1 268.1,395.3 C269.0,393.6 269.3,390.2 270.2,393.3 C271.0,396.4 272.4,409.4 273.3,413.8 C274.1,418.2 274.5,421.0 275.3,419.9 C276.2,418.9 277.4,410.0 278.4,407.6 C279.4,405.3 280.4,405.3 281.5,405.6 C282.5,405.9 283.5,409.7 284.5,409.7 C285.6,409.7 286.6,407.0 287.6,405.6 C288.6,404.2 289.7,403.2 290.7,401.5 C291.7,399.8 292.9,396.0 293.8,395.3 C294.6,394.7 295.0,396.0 295.8,397.4 C296.7,398.8 297.9,401.8 298.9,403.5 C299.9,405.3 300.9,405.6 302.0,407.6 C303.0,409.7 304.0,413.5 305.0,415.8 C306.1,418.2 307.1,420.8 308.1,422.0 C309.1,423.2 310.2,424.0 311.2,423.0 C312.2,422.0 313.2,418.1 314.3,415.8 C315.3,413.6 316.4,410.0 317.3,409.7 C318.3,409.4 319.6,413.1 320.0,413.8" fill="none" stroke="#7e30ac" stroke-width="1.1"/>
<path d="M44.0,405.6 C46.0,405.6 53.2,406.3 56.3,405.6 C59.4,404.9 60.4,403.2 62.4,401.5 C64.5,399.8 66.9,397.1 68.6,395.3 C70.3,393.6 71.3,392.1 72.7,391.2 C74.1,390.4 74.7,390.2 76.8,390.2 C78.8,390.2 82.6,390.7 85.0,391.2 C87.4,391.8 89.4,390.9 91.1,393.3 C92.9,395.7 92.9,403.0 95.2,405.6 C97.6,408.2 99.0,408.3 105.5,408.7 C112.0,409.0 128.4,408.8 134.2,407.6 C140.0,406.4 138.6,403.0 140.3,401.5 C142.0,400.0 141.7,398.8 144.4,398.4 C147.2,398.1 153.7,398.2 156.7,399.4 C159.8,400.6 159.0,404.2 162.9,405.6 C166.8,407.0 176.5,407.1 180.0,407.6 C183.5,408.2 160.7,408.7 184.0,408.7 C207.3,408.6 297.3,407.5 320.0,407.2" fill="none" stroke="#2a8a2a" stroke-width="1.0" stroke-dasharray="2.2,2.2"/></g>
<g stroke="#333" stroke-width="1.1"><line x1="45.00" y1="495.40" x2="49.20" y2="495.40"/><line x1="45.00" y1="484.19" x2="47.30" y2="484.19"/><line x1="45.00" y1="472.99" x2="49.20" y2="472.99"/><line x1="45.00" y1="461.78" x2="47.30" y2="461.78"/><line x1="45.00" y1="450.58" x2="49.20" y2="450.58"/><line x1="45.00" y1="439.37" x2="47.30" y2="439.37"/><line x1="45.00" y1="428.17" x2="49.20" y2="428.17"/><line x1="45.00" y1="416.96" x2="47.30" y2="416.96"/><line x1="45.00" y1="405.76" x2="49.20" y2="405.76"/><line x1="45.00" y1="394.55" x2="47.30" y2="394.55"/><line x1="45.00" y1="383.34" x2="49.20" y2="383.34"/><line x1="45.00" y1="372.14" x2="47.30" y2="372.14"/><line x1="45.00" y1="360.93" x2="49.20" y2="360.93"/><line x1="45.00" y1="349.73" x2="47.30" y2="349.73"/><line x1="45.00" y1="338.52" x2="49.20" y2="338.52"/><line x1="45.00" y1="327.32" x2="47.30" y2="327.32"/><line x1="45.00" y1="316.11" x2="49.20" y2="316.11"/><line x1="45.00" y1="304.91" x2="47.30" y2="304.91"/><line x1="45.00" y1="293.70" x2="49.20" y2="293.70"/><line x1="45.00" y1="495.40" x2="45.00" y2="491.20"/><line x1="62.17" y1="495.40" x2="62.17" y2="493.10"/><line x1="79.34" y1="495.40" x2="79.34" y2="491.20"/><line x1="96.51" y1="495.40" x2="96.51" y2="493.10"/><line x1="113.67" y1="495.40" x2="113.67" y2="491.20"/><line x1="130.84" y1="495.40" x2="130.84" y2="493.10"/><line x1="148.01" y1="495.40" x2="148.01" y2="491.20"/><line x1="165.18" y1="495.40" x2="165.18" y2="493.10"/><line x1="182.35" y1="495.40" x2="182.35" y2="491.20"/><line x1="199.52" y1="495.40" x2="199.52" y2="493.10"/><line x1="216.69" y1="495.40" x2="216.69" y2="491.20"/><line x1="233.86" y1="495.40" x2="233.86" y2="493.10"/><line x1="251.03" y1="495.40" x2="251.03" y2="491.20"/><line x1="268.19" y1="495.40" x2="268.19" y2="493.10"/><line x1="285.36" y1="495.40" x2="285.36" y2="491.20"/><line x1="302.53" y1="495.40" x2="302.53" y2="493.10"/><line x1="319.70" y1="495.40" x2="319.70" y2="491.20"/></g>
<rect x="45.00" y="293.70" width="230.80" height="49.20" fill="#fff" stroke="#8a8a8a" stroke-width="1.2"/><line x1="51.20" y1="301.60" x2="73.70" y2="301.60" stroke="#555555" stroke-width="1.0"/><text x="77.00" y="304.70" font-size="9.9" fill="#222">original BRC</text><line x1="135.00" y1="301.60" x2="157.30" y2="301.60" stroke="#7070d0" stroke-width="1.0"/><text x="160.80" y="304.70" font-size="9.9" fill="#222">lowess</text><line x1="196.30" y1="301.60" x2="217.70" y2="301.60" stroke="#e070e0" stroke-width="1.0"/><text x="221.50" y="304.70" font-size="9.9" fill="#222">quantreg</text><line x1="51.20" y1="315.30" x2="73.70" y2="315.30" stroke="#80e080" stroke-width="1.0"/><text x="77.00" y="318.40" font-size="9.9" fill="#222">BRC, K</text><text x="110.01" y="320.60" font-size="6.14" fill="#222">2</text><text x="113.42" y="318.40" font-size="9.9" fill="#222">,</text><text x="118.92" y="318.40" font-size="9.9" fill="#222">&#961;</text><path d="M120.12,311.40 L121.52,309.80 L122.92,311.40" fill="none" stroke="#222" stroke-width="0.8"/><text x="123.92" y="313.40" font-size="6.14" fill="#222">2</text><text x="124.12" y="321.00" font-size="6.14" fill="#222">1</text><line x1="134.00" y1="315.30" x2="156.30" y2="315.30" stroke="#80e8e8" stroke-width="1.0"/><text x="159.80" y="318.40" font-size="9.9" fill="#222">wavelet</text><line x1="196.30" y1="315.30" x2="217.70" y2="315.30" stroke="#a050b0" stroke-width="1.0"/><text x="221.50" y="318.40" font-size="9.9" fill="#222">smoothseg</text><line x1="51.20" y1="333.20" x2="73.70" y2="333.20" stroke="#409040" stroke-width="1.0" stroke-dasharray="2.2,2.2"/><text x="77.00" y="336.30" font-size="9.9" fill="#222">BRCAk,</text><text x="114.96" y="336.30" font-size="9.9" fill="#222">&#961;</text><path d="M116.16,329.30 L117.56,327.70 L118.96,329.30" fill="none" stroke="#222" stroke-width="0.8"/><text x="119.96" y="331.30" font-size="6.14" fill="#222">2</text><text x="120.16" y="338.90" font-size="6.14" fill="#222">1</text>
<rect x="45.00" y="293.70" width="274.70" height="201.70" fill="none" stroke="#333" stroke-width="1.3"/>
<g font-size="8.3" fill="#222"><text x="40.70" y="498.40" text-anchor="end">-0.8</text><text x="40.70" y="475.99" text-anchor="end">-0.6</text><text x="40.70" y="453.58" text-anchor="end">-0.4</text><text x="40.70" y="431.17" text-anchor="end">-0.2</text><text x="40.70" y="408.76" text-anchor="end">0.0</text><text x="40.70" y="386.34" text-anchor="end">0.2</text><text x="40.70" y="363.93" text-anchor="end">0.4</text><text x="40.70" y="341.52" text-anchor="end">0.6</text><text x="40.70" y="319.11" text-anchor="end">0.8</text><text x="40.70" y="296.70" text-anchor="end">1.0</text><text x="45.00" y="506.50" text-anchor="middle">0</text><text x="79.34" y="506.50" text-anchor="middle">50</text><text x="113.67" y="506.50" text-anchor="middle">100</text><text x="148.01" y="506.50" text-anchor="middle">150</text><text x="182.35" y="506.50" text-anchor="middle">200</text><text x="216.69" y="506.50" text-anchor="middle">250</text><text x="251.03" y="506.50" text-anchor="middle">300</text><text x="285.36" y="506.50" text-anchor="middle">350</text><text x="319.70" y="506.50" text-anchor="middle">400</text></g>
<text x="182.35" y="521.60" text-anchor="middle" font-size="9.6" fill="#222">position</text>
<text transform="translate(12.80,391.40) rotate(-90)" text-anchor="middle" font-size="9.6" fill="#222">log2ratio</text>
<text x="183.50" y="282.80" text-anchor="middle" font-size="10.2" font-weight="bold" fill="#111">SNR = 1</text>
<svg x="0" y="0" width="685" height="527" overflow="hidden"><clipPath id="cBR"><rect x="396.80" y="293.70" width="274.70" height="201.70"/></clipPath></svg>
<g clip-path="url(#cBR)"><g fill="#a0a0a0" fill-opacity="0.68"><circle cx="397.8" cy="416.5" r="0.95"/><circle cx="466.5" cy="416.5" r="0.95"/><circle cx="535.2" cy="416.5" r="0.95"/><circle cx="603.9" cy="416.5" r="0.95"/><circle cx="397.8" cy="374.5" r="0.95"/><circle cx="466.5" cy="374.5" r="0.95"/><circle cx="535.2" cy="374.5" r="0.95"/><circle cx="603.9" cy="374.5" r="0.95"/><circle cx="399.2" cy="382.1" r="0.95"/><circle cx="467.9" cy="382.1" r="0.95"/><circle cx="536.6" cy="382.1" r="0.95"/><circle cx="605.3" cy="382.1" r="0.95"/><circle cx="399.8" cy="444.5" r="0.95"/><circle cx="468.5" cy="444.5" r="0.95"/><circle cx="537.2" cy="444.5" r="0.95"/><circle cx="605.9" cy="444.5" r="0.95"/><circle cx="401.8" cy="420.7" r="0.95"/><circle cx="470.5" cy="420.7" r="0.95"/><circle cx="539.2" cy="420.7" r="0.95"/><circle cx="607.9" cy="420.7" r="0.95"/><circle cx="402.5" cy="362.9" r="0.95"/><circle cx="471.2" cy="362.9" r="0.95"/><circle cx="539.9" cy="362.9" r="0.95"/><circle cx="608.6" cy="362.9" r="0.95"/><circle cx="403.4" cy="442.4" r="0.95"/><circle cx="472.0" cy="442.4" r="0.95"/><circle cx="540.7" cy="442.4" r="0.95"/><circle cx="609.4" cy="442.4" r="0.95"/><circle cx="405.1" cy="387.4" r="0.95"/><circle cx="473.8" cy="387.4" r="0.95"/><circle cx="542.5" cy="387.4" r="0.95"/><circle cx="611.1" cy="387.4" r="0.95"/><circle cx="406.3" cy="390.4" r="0.95"/><circle cx="475.0" cy="390.4" r="0.95"/><circle cx="543.6" cy="390.4" r="0.95"/><circle cx="612.3" cy="390.4" r="0.95"/><circle cx="408.1" cy="468.9" r="0.95"/><circle cx="476.7" cy="468.9" r="0.95"/><circle cx="545.4" cy="468.9" r="0.95"/><circle cx="614.1" cy="468.9" r="0.95"/><circle cx="409.2" cy="421.9" r="0.95"/><circle cx="477.9" cy="421.9" r="0.95"/><circle cx="546.6" cy="421.9" r="0.95"/><circle cx="615.3" cy="421.9" r="0.95"/><circle cx="410.8" cy="432.7" r="0.95"/><circle cx="479.4" cy="432.7" r="0.95"/><circle cx="548.1" cy="432.7" r="0.95"/><circle cx="616.8" cy="432.7" r="0.95"/><circle cx="413.1" cy="386.5" r="0.95"/><circle cx="481.8" cy="386.5" r="0.95"/><circle cx="550.5" cy="386.5" r="0.95"/><circle cx="619.1" cy="386.5" r="0.95"/><circle cx="414.5" cy="430.4" r="0.95"/><circle cx="483.2" cy="430.4" r="0.95"/><circle cx="551.9" cy="430.4" r="0.95"/><circle cx="620.6" cy="430.4" r="0.95"/><circle cx="415.7" cy="425.1" r="0.95"/><circle cx="484.4" cy="425.1" r="0.95"/><circle cx="553.1" cy="425.1" r="0.95"/><circle cx="621.7" cy="425.1" r="0.95"/><circle cx="416.3" cy="396.2" r="0.95"/><circle cx="485.0" cy="396.2" r="0.95"/><circle cx="553.6" cy="396.2" r="0.95"/><circle cx="622.3" cy="396.2" r="0.95"/><circle cx="416.9" cy="373.1" r="0.95"/><circle cx="485.6" cy="373.1" r="0.95"/><circle cx="554.2" cy="373.1" r="0.95"/><circle cx="622.9" cy="373.1" r="0.95"/><circle cx="417.5" cy="401.4" r="0.95"/><circle cx="486.1" cy="429.4" r="0.95"/><circle cx="554.8" cy="429.4" r="0.95"/><circle cx="623.5" cy="429.4" r="0.95"/><circle cx="419.5" cy="360.0" r="0.95"/><circle cx="488.1" cy="388.0" r="0.95"/><circle cx="556.8" cy="388.0" r="0.95"/><circle cx="625.5" cy="388.0" r="0.95"/><circle cx="421.0" cy="403.5" r="0.95"/><circle cx="489.7" cy="431.5" r="0.95"/><circle cx="558.4" cy="431.5" r="0.95"/><circle cx="627.0" cy="431.5" r="0.95"/><circle cx="421.8" cy="415.0" r="0.95"/><circle cx="490.5" cy="443.1" r="0.95"/><circle cx="559.2" cy="443.1" r="0.95"/><circle cx="627.9" cy="443.1" r="0.95"/><circle cx="422.5" cy="344.3" r="0.95"/><circle cx="491.2" cy="372.4" r="0.95"/><circle cx="559.9" cy="372.4" r="0.95"/><circle cx="628.6" cy="372.4" r="0.95"/><circle cx="423.0" cy="402.1" r="0.95"/><circle cx="491.7" cy="430.1" r="0.95"/><circle cx="560.4" cy="430.1" r="0.95"/><circle cx="629.0" cy="430.1" r="0.95"/><circle cx="423.9" cy="412.3" r="0.95"/><circle cx="492.6" cy="440.4" r="0.95"/><circle cx="561.3" cy="440.4" r="0.95"/><circle cx="630.0" cy="440.4" r="0.95"/><circle cx="425.1" cy="355.3" r="0.95"/><circle cx="493.8" cy="355.3" r="0.95"/><circle cx="562.5" cy="383.3" r="0.95"/><circle cx="631.1" cy="383.3" r="0.95"/><circle cx="426.1" cy="393.9" r="0.95"/><circle cx="494.7" cy="393.9" r="0.95"/><circle cx="563.4" cy="421.9" r="0.95"/><circle cx="632.1" cy="421.9" r="0.95"/><circle cx="427.2" cy="397.9" r="0.95"/><circle cx="495.9" cy="397.9" r="0.95"/><circle cx="564.6" cy="425.9" r="0.95"/><circle cx="633.3" cy="425.9" r="0.95"/><circle cx="428.1" cy="368.8" r="0.95"/><circle cx="496.7" cy="368.8" r="0.95"/><circle cx="565.4" cy="368.8" r="0.95"/><circle cx="634.1" cy="396.8" r="0.95"/><circle cx="428.7" cy="430.6" r="0.95"/><circle cx="497.3" cy="430.6" r="0.95"/><circle cx="566.0" cy="430.6" r="0.95"/><circle cx="634.7" cy="458.6" r="0.95"/><circle cx="432.8" cy="438.0" r="0.95"/><circle cx="501.4" cy="438.0" r="0.95"/><circle cx="570.1" cy="438.0" r="0.95"/><circle cx="638.8" cy="466.0" r="0.95"/><circle cx="437.1" cy="384.9" r="0.95"/><circle cx="505.8" cy="384.9" r="0.95"/><circle cx="574.5" cy="412.9" r="0.95"/><circle cx="643.1" cy="412.9" r="0.95"/><circle cx="437.9" cy="360.9" r="0.95"/><circle cx="506.6" cy="360.9" r="0.95"/><circle cx="575.3" cy="389.0" r="0.95"/><circle cx="643.9" cy="389.0" r="0.95"/><circle cx="441.1" cy="340.8" r="0.95"/><circle cx="509.8" cy="368.8" r="0.95"/><circle cx="578.4" cy="368.8" r="0.95"/><circle cx="647.1" cy="368.8" r="0.95"/><circle cx="442.6" cy="399.6" r="0.95"/><circle cx="511.3" cy="427.6" r="0.95"/><circle cx="580.0" cy="427.6" r="0.95"/><circle cx="648.6" cy="427.6" r="0.95"/><circle cx="444.6" cy="340.3" r="0.95"/><circle cx="513.3" cy="368.4" r="0.95"/><circle cx="582.0" cy="368.4" r="0.95"/><circle cx="650.6" cy="368.4" r="0.95"/><circle cx="445.6" cy="419.4" r="0.95"/><circle cx="514.2" cy="419.4" r="0.95"/><circle cx="582.9" cy="419.4" r="0.95"/><circle cx="651.6" cy="419.4" r="0.95"/><circle cx="447.3" cy="427.1" r="0.95"/><circle cx="516.0" cy="427.1" r="0.95"/><circle cx="584.7" cy="427.1" r="0.95"/><circle cx="653.4" cy="427.1" r="0.95"/><circle cx="448.5" cy="350.0" r="0.95"/><circle cx="517.2" cy="350.0" r="0.95"/><circle cx="585.9" cy="350.0" r="0.95"/><circle cx="654.5" cy="350.0" r="0.95"/><circle cx="449.1" cy="359.4" r="0.95"/><circle cx="517.8" cy="359.4" r="0.95"/><circle cx="586.4" cy="359.4" r="0.95"/><circle cx="655.1" cy="359.4" r="0.95"/><circle cx="451.4" cy="426.6" r="0.95"/><circle cx="520.1" cy="426.6" r="0.95"/><circle cx="588.8" cy="426.6" r="0.95"/><circle cx="657.5" cy="426.6" r="0.95"/><circle cx="452.6" cy="463.1" r="0.95"/><circle cx="521.3" cy="463.1" r="0.95"/><circle cx="590.0" cy="463.1" r="0.95"/><circle cx="658.6" cy="463.1" r="0.95"/><circle cx="453.2" cy="383.3" r="0.95"/><circle cx="521.9" cy="383.3" r="0.95"/><circle cx="590.6" cy="383.3" r="0.95"/><circle cx="659.2" cy="383.3" r="0.95"/><circle cx="454.4" cy="379.4" r="0.95"/><circle cx="523.1" cy="379.4" r="0.95"/><circle cx="591.7" cy="379.4" r="0.95"/><circle cx="660.4" cy="379.4" r="0.95"/><circle cx="455.0" cy="416.0" r="0.95"/><circle cx="523.6" cy="416.0" r="0.95"/><circle cx="592.3" cy="416.0" r="0.95"/><circle cx="661.0" cy="416.0" r="0.95"/><circle cx="455.6" cy="432.7" r="0.95"/><circle cx="524.2" cy="432.7" r="0.95"/><circle cx="592.9" cy="432.7" r="0.95"/><circle cx="661.6" cy="432.7" r="0.95"/><circle cx="456.1" cy="381.3" r="0.95"/><circle cx="524.8" cy="381.3" r="0.95"/><circle cx="593.5" cy="381.3" r="0.95"/><circle cx="662.2" cy="381.3" r="0.95"/><circle cx="458.7" cy="450.4" r="0.95"/><circle cx="527.4" cy="450.4" r="0.95"/><circle cx="596.1" cy="450.4" r="0.95"/><circle cx="664.8" cy="450.4" r="0.95"/><circle cx="459.4" cy="460.0" r="0.95"/><circle cx="528.1" cy="460.0" r="0.95"/><circle cx="596.8" cy="460.0" r="0.95"/><circle cx="665.5" cy="460.0" r="0.95"/><circle cx="460.3" cy="374.7" r="0.95"/><circle cx="528.9" cy="374.7" r="0.95"/><circle cx="597.6" cy="374.7" r="0.95"/><circle cx="666.3" cy="374.7" r="0.95"/><circle cx="463.2" cy="375.4" r="0.95"/><circle cx="531.9" cy="375.4" r="0.95"/><circle cx="600.6" cy="375.4" r="0.95"/><circle cx="669.2" cy="375.4" r="0.95"/><circle cx="463.8" cy="390.7" r="0.95"/><circle cx="532.5" cy="390.7" r="0.95"/><circle cx="601.1" cy="390.7" r="0.95"/><circle cx="669.8" cy="390.7" r="0.95"/><circle cx="464.4" cy="460.4" r="0.95"/><circle cx="533.1" cy="460.4" r="0.95"/><circle cx="601.7" cy="460.4" r="0.95"/><circle cx="670.4" cy="460.4" r="0.95"/><circle cx="400.9" cy="410.1" r="0.95"/><circle cx="469.6" cy="410.1" r="0.95"/><circle cx="538.3" cy="410.1" r="0.95"/><circle cx="606.9" cy="410.1" r="0.95"/><circle cx="404.4" cy="404.7" r="0.95"/><circle cx="473.0" cy="404.7" r="0.95"/><circle cx="541.7" cy="404.7" r="0.95"/><circle cx="610.4" cy="404.7" r="0.95"/><circle cx="405.7" cy="410.3" r="0.95"/><circle cx="474.4" cy="410.3" r="0.95"/><circle cx="543.1" cy="410.3" r="0.95"/><circle cx="611.8" cy="410.3" r="0.95"/><circle cx="407.1" cy="401.3" r="0.95"/><circle cx="475.8" cy="401.3" r="0.95"/><circle cx="544.5" cy="401.3" r="0.95"/><circle cx="613.1" cy="401.3" r="0.95"/><circle cx="409.8" cy="399.7" r="0.95"/><circle cx="478.5" cy="399.7" r="0.95"/><circle cx="547.2" cy="399.7" r="0.95"/><circle cx="615.9" cy="399.7" r="0.95"/><circle cx="411.9" cy="404.7" r="0.95"/><circle cx="480.6" cy="404.7" r="0.95"/><circle cx="549.3" cy="404.7" r="0.95"/><circle cx="617.9" cy="404.7" r="0.95"/><circle cx="412.6" cy="407.7" r="0.95"/><circle cx="481.3" cy="407.7" r="0.95"/><circle cx="549.9" cy="407.7" r="0.95"/><circle cx="618.6" cy="407.7" r="0.95"/><circle cx="414.0" cy="405.0" r="0.95"/><circle cx="482.6" cy="405.0" r="0.95"/><circle cx="551.3" cy="405.0" r="0.95"/><circle cx="620.0" cy="405.0" r="0.95"/><circle cx="418.1" cy="379.0" r="0.95"/><circle cx="486.8" cy="407.0" r="0.95"/><circle cx="555.4" cy="407.0" r="0.95"/><circle cx="624.1" cy="407.0" r="0.95"/><circle cx="418.8" cy="381.1" r="0.95"/><circle cx="487.5" cy="409.1" r="0.95"/><circle cx="556.1" cy="409.1" r="0.95"/><circle cx="624.8" cy="409.1" r="0.95"/><circle cx="420.1" cy="379.8" r="0.95"/><circle cx="488.8" cy="407.9" r="0.95"/><circle cx="557.5" cy="407.9" r="0.95"/><circle cx="626.2" cy="407.9" r="0.95"/><circle cx="429.8" cy="377.1" r="0.95"/><circle cx="498.4" cy="377.1" r="0.95"/><circle cx="567.1" cy="377.1" r="0.95"/><circle cx="635.8" cy="377.1" r="0.95"/><circle cx="430.5" cy="373.4" r="0.95"/><circle cx="499.1" cy="373.4" r="0.95"/><circle cx="567.8" cy="373.4" r="0.95"/><circle cx="636.5" cy="373.4" r="0.95"/><circle cx="431.1" cy="375.6" r="0.95"/><circle cx="499.8" cy="375.6" r="0.95"/><circle cx="568.5" cy="375.6" r="0.95"/><circle cx="637.2" cy="375.6" r="0.95"/><circle cx="431.8" cy="381.8" r="0.95"/><circle cx="500.5" cy="381.8" r="0.95"/><circle cx="569.2" cy="381.8" r="0.95"/><circle cx="637.8" cy="381.8" r="0.95"/><circle cx="433.9" cy="386.9" r="0.95"/><circle cx="502.6" cy="386.9" r="0.95"/><circle cx="571.2" cy="386.9" r="0.95"/><circle cx="639.9" cy="414.9" r="0.95"/><circle cx="434.6" cy="382.8" r="0.95"/><circle cx="503.2" cy="382.8" r="0.95"/><circle cx="571.9" cy="382.8" r="0.95"/><circle cx="640.6" cy="410.8" r="0.95"/><circle cx="435.3" cy="380.6" r="0.95"/><circle cx="503.9" cy="380.6" r="0.95"/><circle cx="572.6" cy="408.6" r="0.95"/><circle cx="641.3" cy="408.6" r="0.95"/><circle cx="435.9" cy="373.2" r="0.95"/><circle cx="504.6" cy="373.2" r="0.95"/><circle cx="573.3" cy="401.2" r="0.95"/><circle cx="642.0" cy="401.2" r="0.95"/><circle cx="436.6" cy="379.0" r="0.95"/><circle cx="505.3" cy="379.0" r="0.95"/><circle cx="574.0" cy="407.0" r="0.95"/><circle cx="642.7" cy="407.0" r="0.95"/><circle cx="438.7" cy="386.0" r="0.95"/><circle cx="507.4" cy="414.1" r="0.95"/><circle cx="576.0" cy="414.1" r="0.95"/><circle cx="644.7" cy="414.1" r="0.95"/><circle cx="439.4" cy="371.9" r="0.95"/><circle cx="508.1" cy="399.9" r="0.95"/><circle cx="576.7" cy="399.9" r="0.95"/><circle cx="645.4" cy="399.9" r="0.95"/><circle cx="440.1" cy="372.2" r="0.95"/><circle cx="508.7" cy="400.2" r="0.95"/><circle cx="577.4" cy="400.2" r="0.95"/><circle cx="646.1" cy="400.2" r="0.95"/><circle cx="442.1" cy="377.1" r="0.95"/><circle cx="510.8" cy="405.2" r="0.95"/><circle cx="579.5" cy="405.2" r="0.95"/><circle cx="648.2" cy="405.2" r="0.95"/><circle cx="443.5" cy="384.6" r="0.95"/><circle cx="512.2" cy="412.6" r="0.95"/><circle cx="580.8" cy="412.6" r="0.95"/><circle cx="649.5" cy="412.6" r="0.95"/><circle cx="446.2" cy="408.2" r="0.95"/><circle cx="514.9" cy="408.2" r="0.95"/><circle cx="583.6" cy="408.2" r="0.95"/><circle cx="652.3" cy="408.2" r="0.95"/><circle cx="449.7" cy="405.0" r="0.95"/><circle cx="518.4" cy="405.0" r="0.95"/><circle cx="587.0" cy="405.0" r="0.95"/><circle cx="655.7" cy="405.0" r="0.95"/><circle cx="450.4" cy="404.6" r="0.95"/><circle cx="519.0" cy="404.6" r="0.95"/><circle cx="587.7" cy="404.6" r="0.95"/><circle cx="656.4" cy="404.6" r="0.95"/><circle cx="453.8" cy="409.8" r="0.95"/><circle cx="522.5" cy="409.8" r="0.95"/><circle cx="591.2" cy="409.8" r="0.95"/><circle cx="659.8" cy="409.8" r="0.95"/><circle cx="457.2" cy="409.3" r="0.95"/><circle cx="525.9" cy="409.3" r="0.95"/><circle cx="594.6" cy="409.3" r="0.95"/><circle cx="663.3" cy="409.3" r="0.95"/><circle cx="457.9" cy="397.9" r="0.95"/><circle cx="526.6" cy="397.9" r="0.95"/><circle cx="595.3" cy="397.9" r="0.95"/><circle cx="663.9" cy="397.9" r="0.95"/><circle cx="461.4" cy="414.6" r="0.95"/><circle cx="530.0" cy="414.6" r="0.95"/><circle cx="598.7" cy="414.6" r="0.95"/><circle cx="667.4" cy="414.6" r="0.95"/><circle cx="462.0" cy="398.0" r="0.95"/><circle cx="530.7" cy="398.0" r="0.95"/><circle cx="599.4" cy="398.0" r="0.95"/><circle cx="668.1" cy="398.0" r="0.95"/><circle cx="465.5" cy="410.9" r="0.95"/><circle cx="534.1" cy="410.9" r="0.95"/><circle cx="602.8" cy="410.9" r="0.95"/><circle cx="671.5" cy="410.9" r="0.95"/></g>
<path d="M396.8,405.8 L417.4,405.8 M417.4,377.7 L444.9,377.7 M444.9,405.8 L492.9,405.8 M492.9,377.7 L506.7,377.7 M506.7,405.8 L565.1,405.8 M565.1,377.7 L571.9,377.7 M571.9,405.8 L635.8,405.8 M635.8,377.7 L638.5,377.7 M638.5,405.8 L671.5,405.8 " fill="none" stroke="#808080" stroke-width="1.5"/>
<path d="M396.8,402.4 L397.5,402.4 L398.2,402.4 L398.9,402.4 L399.5,402.4 L400.2,402.4 L400.9,402.4 L401.6,402.4 L402.3,402.4 L403.0,402.4 L403.7,402.4 L404.4,402.4 L405.0,402.4 L405.7,402.4 L406.4,402.4 L407.1,402.4 L407.8,402.4 L408.5,402.4 L409.2,402.4 L409.8,402.4 L410.5,402.4 L411.2,402.4 L411.9,402.4 L412.6,402.4 L413.3,402.4 L414.0,402.4 L414.7,402.4 L415.3,402.4 L416.0,402.4 L416.7,401.6 L417.4,400.8 L418.1,400.0 L418.8,399.2 L419.5,398.4 L420.1,397.6 L420.8,396.8 L421.5,396.3 L422.2,395.9 L422.9,395.4 L423.6,395.0 L424.3,394.5 L425.0,394.1 L425.6,393.7 L426.3,393.2 L427.0,392.8 L427.7,392.3 L428.4,391.9 L429.1,391.4 L429.8,391.0 L430.5,390.5 L431.1,390.1 L431.8,389.6 L432.5,389.2 L433.2,388.7 L433.9,388.3 L434.6,387.8 L435.3,387.9 L435.9,388.1 L436.6,388.2 L437.3,388.3 L438.0,388.4 L438.7,388.5 L439.4,388.6 L440.1,388.7 L440.8,388.8 L441.4,388.9 L442.1,390.4 L442.8,391.8 L443.5,393.3 L444.2,394.7 L444.9,396.2 L445.6,397.6 L446.2,399.0 L446.9,399.9 L447.6,400.7 L448.3,401.6 L449.0,402.4 L449.7,403.2 L450.4,404.1 L451.1,404.9 L451.7,405.8 L452.4,405.8 L453.1,405.8 L453.8,405.8 L454.5,405.8 L455.2,405.8 L455.9,405.8 L456.5,405.8 L457.2,405.8 L457.9,405.8 L458.6,405.8 L459.3,405.8 L460.0,405.8 L460.7,405.8 L461.4,405.8 L462.0,405.8 L462.7,405.8 L463.4,405.8 L464.1,405.8 L464.8,405.8 L465.5,405.8 L466.2,405.8 L466.8,405.8 L467.5,405.8 L468.2,405.8 L468.9,405.8 L469.6,405.8 L470.3,405.8 L471.0,405.8 L471.7,405.8 L472.3,405.8 L473.0,405.8 L473.7,405.8 L474.4,405.8 L475.1,405.8 L475.8,405.8 L476.5,405.8 L477.1,405.8 L477.8,405.8 L478.5,405.8 L479.2,405.8 L479.9,405.8 L480.6,405.8 L481.3,405.8 L482.0,405.8 L482.6,405.8 L483.3,405.8 L484.0,405.8 L484.7,405.8 L485.4,405.8 L486.1,405.8 L486.8,405.8 L487.5,405.8 L488.1,405.8 L488.8,405.8 L489.5,405.8 L490.2,405.8 L490.9,405.8 L491.6,405.8 L492.3,404.2 L492.9,402.6 L493.6,401.0 L494.3,399.4 L495.0,397.8 L495.7,396.2 L496.4,394.5 L497.1,393.9 L497.8,393.3 L498.4,392.6 L499.1,392.0 L499.8,391.3 L500.5,390.7 L501.2,390.1 L501.9,391.2 L502.6,392.3 L503.2,393.4 L503.9,394.5 L504.6,395.7 L505.3,396.8 L506.0,397.9 L506.7,399.0 L507.4,399.9 L508.1,400.7 L508.7,401.6 L509.4,402.4 L510.1,403.2 L510.8,404.1 L511.5,404.9 L512.2,405.8 L512.9,405.8 L513.5,405.8 L514.2,405.8 L514.9,405.8 L515.6,405.8 L516.3,405.8 L517.0,405.8 L517.7,405.8 L518.4,405.8 L519.0,405.8 L519.7,405.8 L520.4,405.8 L521.1,405.8 L521.8,405.8 L522.5,405.8 L523.2,405.8 L523.8,405.8 L524.5,405.8 L525.2,405.8 L525.9,405.8 L526.6,405.8 L527.3,405.8 L528.0,405.8 L528.7,405.8 L529.3,405.8 L530.0,405.8 L530.7,405.8 L531.4,405.8 L532.1,405.8 L532.8,405.8 L533.5,405.8 L534.1,405.8 L534.8,405.8 L535.5,405.8 L536.2,405.8 L536.9,405.8 L537.6,405.8 L538.3,405.8 L539.0,405.8 L539.6,405.8 L540.3,405.8 L541.0,405.8 L541.7,405.8 L542.4,405.8 L543.1,405.8 L543.8,405.8 L544.5,405.8 L545.1,405.8 L545.8,405.8 L546.5,405.8 L547.2,405.8 L547.9,405.8 L548.6,405.8 L549.3,405.8 L549.9,405.8 L550.6,405.8 L551.3,405.8 L552.0,405.8 L552.7,405.8 L553.4,405.8 L554.1,405.8 L554.8,405.8 L555.4,405.8 L556.1,405.8 L556.8,405.8 L557.5,405.8 L558.2,405.8 L558.9,405.8 L559.6,405.8 L560.2,405.8 L560.9,405.8 L561.6,405.8 L562.3,405.8 L563.0,405.8 L563.7,405.8 L564.4,405.8 L565.1,405.8 L565.7,405.8 L566.4,405.8 L567.1,405.8 L567.8,405.8 L568.5,405.8 L569.2,405.8 L569.9,405.8 L570.5,405.8 L571.2,405.8 L571.9,405.8 L572.6,405.8 L573.3,405.8 L574.0,405.8 L574.7,405.8 L575.4,405.8 L576.0,405.8 L576.7,405.8 L577.4,405.8 L578.1,405.8 L578.8,405.8 L579.5,405.8 L580.2,405.8 L580.8,405.8 L581.5,405.8 L582.2,405.8 L582.9,405.8 L583.6,405.8 L584.3,405.8 L585.0,405.8 L585.7,405.8 L586.3,405.8 L587.0,405.8 L587.7,405.8 L588.4,405.8 L589.1,405.8 L589.8,405.8 L590.5,405.8 L591.2,405.8 L591.8,405.8 L592.5,405.8 L593.2,405.8 L593.9,405.8 L594.6,405.8 L595.3,405.8 L596.0,405.8 L596.6,405.8 L597.3,405.8 L598.0,405.8 L598.7,405.8 L599.4,405.8 L600.1,405.8 L600.8,405.8 L601.5,405.8 L602.1,405.8 L602.8,405.8 L603.5,405.8 L604.2,405.8 L604.9,405.8 L605.6,405.8 L606.3,405.8 L606.9,405.8 L607.6,405.8 L608.3,405.8 L609.0,405.8 L609.7,405.8 L610.4,405.8 L611.1,405.8 L611.8,405.8 L612.4,405.8 L613.1,405.8 L613.8,405.8 L614.5,405.8 L615.2,405.8 L615.9,405.8 L616.6,405.8 L617.2,405.8 L617.9,405.8 L618.6,405.8 L619.3,405.8 L620.0,405.8 L620.7,405.8 L621.4,405.8 L622.1,405.8 L622.7,405.8 L623.4,405.8 L624.1,405.8 L624.8,405.8 L625.5,405.8 L626.2,405.8 L626.9,405.8 L627.5,405.8 L628.2,405.8 L628.9,405.8 L629.6,405.8 L630.3,405.8 L631.0,405.8 L631.7,405.8 L632.4,405.8 L633.0,405.8 L633.7,405.8 L634.4,405.8 L635.1,405.8 L635.8,405.8 L636.5,405.8 L637.2,405.8 L637.8,405.8 L638.5,405.8 L639.2,405.8 L639.9,405.8 L640.6,405.8 L641.3,405.8 L642.0,405.8 L642.7,405.8 L643.3,405.8 L644.0,405.8 L644.7,405.8 L645.4,405.8 L646.1,405.8 L646.8,405.8 L647.5,405.8 L648.2,405.8 L648.8,405.8 L649.5,405.8 L650.2,405.8 L650.9,405.8 L651.6,405.8 L652.3,405.8 L653.0,405.8 L653.6,405.8 L654.3,405.8 L655.0,405.8 L655.7,405.8 L656.4,405.8 L657.1,405.8 L657.8,405.8 L658.5,405.8 L659.1,405.8 L659.8,405.8 L660.5,405.8 L661.2,405.8 L661.9,405.8 L662.6,405.8 L663.3,405.8 L663.9,405.8 L664.6,405.8 L665.3,405.8 L666.0,405.8 L666.7,405.8 L667.4,405.8 L668.1,405.8 L668.8,405.8 L669.4,405.8 L670.1,405.8 L670.8,405.8 L671.5,405.8" fill="none" stroke="#5ee0e8" stroke-width="0.8" stroke-linejoin="round"/>
<path d="M400.8,396.0 L400.8,413.8 M404.9,391.9 L404.9,411.5 M408.7,390.8 L408.7,410.3 M412.0,390.4 L412.0,404.4 M415.5,390.6 L415.5,409.3 M418.6,395.0 L418.6,410.0 M423.0,389.9 L423.0,403.3 M427.1,383.5 L427.1,399.9 M430.7,388.8 L430.7,393.7 M434.8,384.4 L434.8,389.4 M439.1,376.5 L439.1,403.9 M442.9,377.4 L442.9,398.1 M446.7,396.0 L446.7,412.7 M450.4,400.2 L450.4,407.9 M452.6,392.7 L452.6,416.6 M455.1,395.1 L455.1,416.9 M458.7,390.1 L458.7,419.2 M461.6,403.9 L461.6,410.2 M463.5,393.2 L463.5,418.4 M465.8,390.8 L465.8,411.6 M468.8,396.2 L468.8,421.4 M473.0,402.5 L473.0,419.9 M475.2,392.9 L475.2,416.7 M477.4,403.9 L477.4,420.4 M479.1,402.5 L479.1,421.1 M482.7,396.4 L482.7,413.5 M486.0,397.9 L486.0,407.8 M488.4,400.1 L488.4,414.1 M491.2,394.1 L491.2,418.6 M495.0,389.9 L495.0,404.6 M496.8,387.9 L496.8,406.8 M499.5,386.4 L499.5,395.2 M502.9,384.5 L502.9,394.7 M505.3,394.5 L505.3,400.1 M507.7,398.1 L507.7,415.8 M511.2,401.7 L511.2,413.3 M514.0,401.8 L514.0,412.9 M517.3,403.2 L517.3,420.8 M520.3,403.5 L520.3,416.9 M524.7,404.4 L524.7,416.8 M528.7,398.1 L528.7,408.0 M532.5,399.8 L532.5,411.3 M536.3,404.6 L536.3,410.5 M540.5,402.3 L540.5,407.9 M542.5,397.1 L542.5,412.3 M545.6,391.3 L545.6,410.4 M549.4,396.2 L549.4,416.0 M551.2,403.9 L551.2,409.1 M554.2,399.3 L554.2,411.2 M558.3,396.4 L558.3,411.8 M561.6,392.0 L561.6,409.7 M564.5,401.5 L564.5,414.3 M566.5,399.7 L566.5,421.4 M570.8,404.4 L570.8,411.9 M574.7,392.4 L574.7,411.5 M578.3,393.5 L578.3,412.8 M580.3,393.2 L580.3,417.6 M583.6,393.3 L583.6,421.3 M585.9,404.5 L585.9,416.0 M588.1,392.0 L588.1,417.9 M591.1,393.2 L591.1,420.6 M594.8,400.7 L594.8,413.6 M596.8,395.5 L596.8,411.7 M598.9,401.2 L598.9,411.4 M602.8,404.4 L602.8,409.3 M605.3,392.6 L605.3,408.5 M609.7,393.2 L609.7,412.9 M613.1,394.7 L613.1,418.3 M615.5,391.8 L615.5,417.3 M617.5,404.4 L617.5,416.2 M621.4,394.9 L621.4,418.6 M623.2,391.1 L623.2,412.2 M626.0,393.2 L626.0,415.2 M628.9,403.3 L628.9,420.2 M632.3,404.3 L632.3,414.6 M635.8,397.8 L635.8,415.7 M638.1,390.1 L638.1,414.0 M639.9,401.0 L639.9,419.2 M643.6,396.5 L643.6,410.6 M647.4,392.7 L647.4,408.5 M649.3,393.6 L649.3,416.2 M653.1,401.9 L653.1,420.0 M656.0,393.4 L656.0,410.1 M658.8,399.3 L658.8,412.9 M662.9,396.5 L662.9,418.5 M666.3,393.4 L666.3,414.0 M668.1,397.1 L668.1,408.6 M669.9,392.3 L669.9,415.0 M673.1,396.4 L673.1,413.4" stroke="#5ee0e8" stroke-width="0.8" fill="none"/>
<line x1="408.7" y1="366.5" x2="408.7" y2="436.0" stroke="#5ee0e8" stroke-width="1.1"/>
<line x1="477.6" y1="366.5" x2="477.6" y2="436.0" stroke="#5ee0e8" stroke-width="1.1"/>
<line x1="429.8" y1="366.5" x2="429.8" y2="405.8" stroke="#5ee0e8" stroke-width="1.1"/>
<line x1="546.1" y1="366.5" x2="546.1" y2="436.0" stroke="#5ee0e8" stroke-width="1.1"/>
<line x1="566.2" y1="372.1" x2="566.2" y2="428.2" stroke="#5ee0e8" stroke-width="1.1"/>
<line x1="615.0" y1="366.5" x2="615.0" y2="436.0" stroke="#5ee0e8" stroke-width="1.1"/>
<line x1="634.6" y1="377.7" x2="634.6" y2="430.4" stroke="#5ee0e8" stroke-width="1.1"/>
<line x1="458.6" y1="383.3" x2="458.6" y2="422.6" stroke="#5ee0e8" stroke-width="1.1"/>
<line x1="520.4" y1="388.9" x2="520.4" y2="428.2" stroke="#5ee0e8" stroke-width="1.1"/>
<line x1="589.1" y1="385.6" x2="589.1" y2="422.6" stroke="#5ee0e8" stroke-width="1.1"/>
<path d="M396.0,400.5 C399.2,400.5 411.7,401.2 415.5,400.5 C419.2,399.8 417.4,397.7 418.5,396.4 C419.7,395.0 421.3,393.5 422.6,392.3 C424.0,391.1 424.4,389.9 426.7,389.2 C429.1,388.5 434.4,388.2 437.0,388.2 C439.6,388.2 440.6,387.8 442.1,389.2 C443.7,390.6 444.9,394.6 446.2,396.4 C447.6,398.1 448.4,399.1 450.3,399.9 C452.2,400.6 450.8,400.7 457.5,400.9 C464.2,401.0 484.3,401.6 490.3,400.9 C496.3,400.1 492.2,397.7 493.4,396.4 C494.6,395.0 495.6,393.5 497.5,392.9 C499.3,392.3 502.6,392.1 504.6,392.9 C506.7,393.6 508.1,396.1 509.8,397.4 C511.5,398.7 511.2,399.9 514.9,400.5 C518.6,401.0 528.5,400.8 532.0,400.9 C535.5,400.9 530.9,400.9 536.0,400.9 C541.1,400.9 557.6,401.3 562.7,400.9 C567.9,400.5 565.1,399.0 566.8,398.4 C568.6,397.8 570.9,397.4 573.0,397.4 C575.0,397.4 577.1,397.9 579.1,398.4 C581.2,398.9 576.8,400.1 585.3,400.5 C593.8,400.9 622.2,401.2 630.4,400.9 C638.6,400.5 632.8,398.9 634.5,398.4 C636.2,397.9 638.6,397.7 640.6,397.8 C642.7,397.9 644.7,398.5 646.8,399.0 C648.8,399.5 648.7,400.5 652.9,400.9 C657.1,401.2 668.8,401.0 672.0,401.1" fill="none" stroke="#78e078" stroke-width="1.1"/>
<path d="M396.0,385.1 L398.0,385.1 L398.0,401.5 L402.1,401.5 L402.1,407.6 L408.3,407.6 L408.3,405.6 L413.4,405.6 L413.4,409.7 L416.5,409.7 L416.5,387.1 L421.6,387.1 L421.6,383.0 L428.8,383.0 L428.8,378.9 L433.9,378.9 L433.9,368.7 L438.0,368.7 L438.0,360.5 L441.5,360.5 L441.5,391.2 L445.2,391.2 L445.2,399.4 L451.3,399.4 L451.3,401.5 L457.5,401.5 L457.5,405.6 L463.6,405.6 L463.6,401.5 L469.8,401.5 L469.8,405.6 L475.9,405.6 L475.9,407.6 L480.0,407.6 L480.0,410.7 L483.1,410.7 L483.1,417.9 L486.2,417.9 L486.2,407.6 L492.3,407.6 L492.3,389.2 L496.4,389.2 L496.4,381.0 L502.6,381.0 L502.6,370.7 L506.7,370.7 L506.7,387.1 L510.8,387.1 L510.8,405.6 L516.9,405.6 L516.9,401.5 L523.1,401.5 L523.1,405.6 L529.2,405.6 L529.2,401.5 L536.0,401.5 L532.0,401.5 L538.1,401.5 L538.1,405.6 L544.3,405.6 L544.3,411.7 L550.4,411.7 L550.4,416.9 L553.5,416.9 L553.5,409.7 L558.6,409.7 L558.6,416.9 L562.7,416.9 L562.7,401.5 L566.8,401.5 L566.8,393.3 L572.0,393.3 L572.0,395.3 L576.1,395.3 L576.1,385.1 L579.1,385.1 L579.1,405.6 L584.3,405.6 L584.3,391.2 L587.3,391.2 L587.3,401.5 L591.4,401.5 L591.4,399.4 L594.5,399.4 L594.5,405.6 L599.6,405.6 L599.6,401.5 L604.8,401.5 L604.8,403.5 L609.9,403.5 L609.9,405.6 L614.0,405.6 L614.0,409.7 L618.1,409.7 L618.1,415.8 L622.2,415.8 L622.2,411.7 L626.3,411.7 L626.3,415.8 L629.4,415.8 L629.4,405.6 L633.5,405.6 L633.5,393.3 L640.6,393.3 L640.6,395.3 L643.7,395.3 L643.7,385.1 L647.8,385.1 L647.8,405.6 L652.9,405.6 L652.9,391.2 L657.0,391.2 L657.0,405.6 L663.2,405.6 L663.2,401.5 L667.3,401.5 L667.3,405.6 L672.0,405.6" fill="none" stroke="#e050e0" stroke-width="0.9" stroke-linejoin="round"/>
<path d="M396.0,381.0 C396.3,381.5 397.1,381.3 397.6,384.1 C398.2,386.8 398.5,394.1 399.1,397.4 C399.7,400.6 400.3,402.2 401.1,403.5 C402.0,404.9 403.2,405.1 404.2,405.6 C405.2,406.1 406.2,406.6 407.3,406.6 C408.3,406.6 409.3,405.8 410.3,405.6 C411.4,405.4 412.6,406.3 413.4,405.6 C414.3,404.9 414.8,404.2 415.5,401.5 C416.2,398.8 416.8,392.1 417.5,389.2 C418.2,386.3 418.9,384.4 419.6,384.1 C420.3,383.7 420.8,387.3 421.6,387.1 C422.5,387.0 423.7,384.2 424.7,383.0 C425.7,381.8 426.7,380.8 427.8,380.0 C428.8,379.1 429.8,378.6 430.8,377.9 C431.9,377.2 433.1,377.1 433.9,375.9 C434.8,374.7 435.3,372.3 436.0,370.7 C436.7,369.2 437.4,368.7 438.0,366.6 C438.6,364.6 439.1,359.5 439.7,358.4 C440.2,357.4 440.6,358.4 441.1,360.5 C441.6,362.5 442.2,366.0 442.7,370.7 C443.2,375.5 443.6,384.8 444.2,389.2 C444.8,393.6 445.4,395.7 446.2,397.4 C447.1,399.1 448.3,398.8 449.3,399.4 C450.3,400.1 451.3,401.3 452.4,401.5 C453.4,401.7 454.4,399.8 455.4,400.5 C456.5,401.2 457.5,404.4 458.5,405.6 C459.5,406.8 460.6,408.0 461.6,407.6 C462.6,407.3 463.6,404.6 464.7,403.5 C465.7,402.5 466.7,401.2 467.7,401.5 C468.8,401.8 469.8,404.6 470.8,405.6 C471.8,406.6 472.9,407.5 473.9,407.6 C474.9,407.8 475.9,406.3 477.0,406.6 C478.0,407.0 479.0,408.8 480.0,409.7 C481.1,410.5 482.1,411.9 483.1,411.7 C484.1,411.6 485.2,409.4 486.2,408.7 C487.2,408.0 488.4,407.1 489.3,407.6 C490.1,408.2 490.6,413.8 491.3,411.7 C492.0,409.7 492.7,399.4 493.4,395.3 C494.0,391.2 494.6,389.5 495.4,387.1 C496.3,384.8 497.6,382.9 498.5,381.0 C499.4,379.1 500.1,377.6 500.9,375.9 C501.8,374.2 502.8,370.7 503.6,370.7 C504.4,370.7 505.0,373.5 505.7,375.9 C506.3,378.3 507.0,382.2 507.7,385.1 C508.4,388.0 509.1,390.6 509.8,393.3 C510.4,396.0 511.1,399.4 511.8,401.5 C512.5,403.5 513.0,405.3 513.9,405.6 C514.7,405.9 515.9,404.2 516.9,403.5 C518.0,402.9 519.0,401.5 520.0,401.5 C521.0,401.5 522.1,402.5 523.1,403.5 C524.1,404.6 525.1,407.3 526.2,407.6 C527.2,408.0 528.2,406.6 529.2,405.6 C530.3,404.6 531.4,402.9 532.3,401.5 C533.2,400.1 533.7,397.6 534.5,397.4 C535.3,397.2 536.2,399.8 537.1,400.5 C538.1,401.2 539.2,401.0 540.2,401.5 C541.2,402.0 542.2,402.5 543.3,403.5 C544.3,404.6 545.3,406.4 546.3,407.6 C547.4,408.8 548.4,411.1 549.4,410.7 C550.4,410.4 551.5,407.1 552.5,405.6 C553.5,404.1 554.5,401.0 555.6,401.5 C556.6,402.0 557.6,407.0 558.6,408.7 C559.7,410.4 560.8,412.9 561.7,411.7 C562.7,410.5 563.6,406.6 564.4,401.5 C565.2,396.4 565.9,384.6 566.4,381.0 C567.0,377.4 567.3,379.3 567.9,380.0 C568.5,380.7 569.2,383.6 569.9,385.1 C570.6,386.6 571.3,388.9 572.0,389.2 C572.7,389.5 573.3,387.0 574.0,387.1 C574.7,387.3 575.4,389.0 576.1,390.2 C576.8,391.4 577.4,392.1 578.1,394.3 C578.8,396.5 579.5,401.7 580.2,403.5 C580.9,405.4 581.4,405.9 582.2,405.6 C583.1,405.3 584.3,402.5 585.3,401.5 C586.3,400.5 587.3,399.4 588.4,399.4 C589.4,399.4 590.4,400.5 591.4,401.5 C592.5,402.5 593.5,404.2 594.5,405.6 C595.5,407.0 596.6,410.4 597.6,409.7 C598.6,409.0 599.6,403.4 600.7,401.5 C601.7,399.6 602.7,398.4 603.7,398.4 C604.8,398.4 605.8,400.3 606.8,401.5 C607.8,402.7 608.9,404.6 609.9,405.6 C610.9,406.6 612.1,407.0 613.0,407.6 C613.8,408.3 614.2,410.0 615.0,409.7 C615.9,409.4 617.1,405.4 618.1,405.6 C619.1,405.8 620.1,410.4 621.2,410.7 C622.2,411.1 623.2,409.2 624.2,407.6 C625.3,406.1 626.3,401.8 627.3,401.5 C628.3,401.2 629.4,404.6 630.4,405.6 C631.4,406.6 632.6,411.7 633.5,407.6 C634.3,403.5 634.8,384.8 635.5,381.0 C636.2,377.2 636.9,383.4 637.6,385.1 C638.2,386.8 638.9,389.5 639.6,391.2 C640.3,393.0 641.0,395.0 641.7,395.3 C642.3,395.7 643.0,394.7 643.7,393.3 C644.4,391.9 645.1,387.8 645.8,387.1 C646.4,386.5 647.1,387.5 647.8,389.2 C648.5,390.9 649.2,395.3 649.9,397.4 C650.5,399.4 651.1,401.2 651.9,401.5 C652.8,401.8 654.0,399.4 655.0,399.4 C656.0,399.4 657.0,400.8 658.1,401.5 C659.1,402.2 660.1,402.0 661.1,403.5 C662.2,405.1 663.2,410.4 664.2,410.7 C665.2,411.1 666.0,407.1 667.3,405.6 C668.6,404.1 671.2,402.2 672.0,401.5" fill="none" stroke="#6868e2" stroke-width="1.0"/>
<path d="M396.0,383.0 C396.3,383.4 397.4,382.4 398.0,385.1 C398.7,387.8 399.0,396.0 399.7,399.4 C400.4,402.9 401.2,404.7 402.1,405.6 C403.1,406.4 404.2,404.6 405.2,404.6 C406.2,404.5 407.3,405.0 408.3,405.2 C409.3,405.4 410.3,406.2 411.4,405.6 C412.4,405.0 413.6,403.5 414.4,401.5 C415.3,399.4 415.8,396.4 416.5,393.3 C417.2,390.2 417.9,384.4 418.5,383.0 C419.2,381.7 419.7,384.9 420.6,385.1 C421.5,385.3 422.6,384.8 423.7,384.1 C424.7,383.4 425.7,381.8 426.7,381.0 C427.8,380.1 428.8,379.8 429.8,378.9 C430.8,378.1 432.0,377.2 432.9,375.9 C433.8,374.5 434.3,372.1 434.9,370.7 C435.6,369.4 436.3,368.7 437.0,367.7 C437.7,366.6 438.4,366.5 439.0,364.6 C439.7,362.7 440.2,355.0 440.7,356.4 C441.2,357.8 441.5,367.0 442.1,372.8 C442.7,378.6 443.5,386.8 444.2,391.2 C444.9,395.7 445.4,397.7 446.2,399.4 C447.1,401.2 448.3,401.5 449.3,401.5 C450.3,401.5 451.3,399.4 452.4,399.4 C453.4,399.4 454.4,400.8 455.4,401.5 C456.5,402.2 457.5,403.5 458.5,403.5 C459.5,403.5 460.6,401.5 461.6,401.5 C462.6,401.5 463.6,403.0 464.7,403.5 C465.7,404.1 466.7,404.9 467.7,404.6 C468.8,404.2 469.8,401.7 470.8,401.5 C471.8,401.3 472.9,402.5 473.9,403.5 C474.9,404.6 475.9,407.3 477.0,407.6 C478.0,408.0 479.2,405.6 480.0,405.6 C480.9,405.6 481.4,405.6 482.1,407.6 C482.8,409.7 483.5,417.6 484.1,417.9 C484.8,418.2 485.3,411.7 486.2,409.7 C487.0,407.6 488.4,407.0 489.3,405.6 C490.1,404.2 490.6,404.2 491.3,401.5 C492.0,398.8 492.5,392.6 493.4,389.2 C494.2,385.8 495.4,383.4 496.4,381.0 C497.5,378.6 498.5,376.2 499.5,374.8 C500.5,373.5 501.7,373.7 502.6,372.8 C503.4,371.9 504.0,369.0 504.6,369.7 C505.3,370.4 506.0,374.3 506.7,376.9 C507.4,379.5 508.1,382.0 508.7,385.1 C509.4,388.2 510.1,391.9 510.8,395.3 C511.5,398.8 512.2,403.5 512.8,405.6 C513.5,407.6 514.0,408.3 514.9,407.6 C515.7,407.0 516.9,402.9 518.0,401.5 C519.0,400.1 520.0,399.4 521.0,399.4 C522.1,399.4 523.1,400.8 524.1,401.5 C525.1,402.2 526.2,403.7 527.2,403.5 C528.2,403.4 529.2,401.2 530.3,400.5 C531.3,399.8 532.5,399.6 533.3,399.4 C534.1,399.3 534.3,399.1 535.1,399.4 C535.9,399.8 537.1,401.0 538.1,401.5 C539.2,402.0 540.2,401.8 541.2,402.5 C542.2,403.2 543.3,404.4 544.3,405.6 C545.3,406.8 546.3,408.8 547.4,409.7 C548.4,410.5 549.4,411.4 550.4,410.7 C551.5,410.0 552.5,405.8 553.5,405.6 C554.5,405.4 555.6,408.7 556.6,409.7 C557.6,410.7 558.6,412.4 559.7,411.7 C560.7,411.1 561.9,407.3 562.7,405.6 C563.6,403.9 564.1,403.0 564.8,401.5 C565.5,400.0 566.2,397.7 566.8,396.4 C567.5,395.0 568.0,393.6 568.9,393.3 C569.8,393.0 570.9,394.8 572.0,394.3 C573.0,393.8 574.2,392.1 575.0,390.2 C575.9,388.3 576.4,383.2 577.1,383.0 C577.8,382.9 578.5,385.8 579.1,389.2 C579.8,392.6 580.5,400.8 581.2,403.5 C581.9,406.3 582.4,405.6 583.2,405.6 C584.1,405.6 585.3,404.2 586.3,403.5 C587.3,402.9 588.4,402.0 589.4,401.5 C590.4,401.0 591.4,400.5 592.5,400.5 C593.5,400.5 594.5,401.0 595.5,401.5 C596.6,402.0 597.6,403.5 598.6,403.5 C599.6,403.5 600.7,402.0 601.7,401.5 C602.7,401.0 603.7,400.3 604.8,400.5 C605.8,400.6 606.8,401.7 607.8,402.5 C608.9,403.4 609.9,404.7 610.9,405.6 C611.9,406.4 613.0,407.0 614.0,407.6 C615.0,408.3 616.0,409.5 617.1,409.7 C618.1,409.9 619.1,408.3 620.1,408.7 C621.2,409.0 622.2,411.4 623.2,411.7 C624.2,412.1 625.3,411.4 626.3,410.7 C627.3,410.0 628.3,408.5 629.4,407.6 C630.4,406.8 631.6,407.6 632.4,405.6 C633.3,403.5 633.8,397.4 634.5,395.3 C635.2,393.3 635.7,393.5 636.5,393.3 C637.4,393.1 638.6,394.0 639.6,394.3 C640.6,394.7 641.8,397.1 642.7,395.3 C643.6,393.6 644.5,385.4 645.1,384.1 C645.8,382.7 646.2,384.6 646.8,387.1 C647.4,389.7 648.0,396.4 648.8,399.4 C649.7,402.5 650.9,404.9 651.9,405.6 C652.9,406.3 654.0,404.2 655.0,403.5 C656.0,402.9 657.0,401.8 658.1,401.5 C659.1,401.2 660.1,400.8 661.1,401.5 C662.2,402.2 663.2,405.1 664.2,405.6 C665.2,406.1 666.0,404.9 667.3,404.6 C668.6,404.2 671.2,403.7 672.0,403.5" fill="none" stroke="#7e30ac" stroke-width="1.1"/>
<path d="M396.0,400.9 C399.1,400.9 410.9,401.5 414.4,400.9 C418.0,400.3 416.5,398.7 417.5,397.4 C418.5,396.1 419.4,394.5 420.6,393.3 C421.8,392.1 423.3,391.0 424.7,390.2 C426.1,389.5 426.7,389.1 428.8,388.8 C430.8,388.4 434.9,388.2 437.0,388.2 C439.0,388.2 439.7,387.8 441.1,388.8 C442.5,389.8 443.8,392.5 445.2,394.3 C446.6,396.1 447.2,398.3 449.3,399.4 C451.3,400.6 450.7,400.8 457.5,401.1 C464.3,401.4 484.3,401.7 490.3,401.1 C496.3,400.5 492.3,398.6 493.4,397.4 C494.4,396.2 495.2,394.5 496.4,393.7 C497.6,393.0 498.8,392.8 500.5,392.9 C502.2,393.0 504.8,393.2 506.7,394.3 C508.6,395.4 509.8,398.3 511.8,399.4 C513.9,400.6 515.6,400.8 519.0,401.1 C522.4,401.4 529.2,401.1 532.0,401.1 C534.8,401.1 512.7,401.1 536.0,401.1 C559.3,401.1 649.3,401.1 672.0,401.1" fill="none" stroke="#2a8a2a" stroke-width="1.0" stroke-dasharray="2.2,2.2"/></g>
<g stroke="#333" stroke-width="1.1"><line x1="396.80" y1="495.40" x2="401.00" y2="495.40"/><line x1="396.80" y1="484.19" x2="399.10" y2="484.19"/><line x1="396.80" y1="472.99" x2="401.00" y2="472.99"/><line x1="396.80" y1="461.78" x2="399.10" y2="461.78"/><line x1="396.80" y1="450.58" x2="401.00" y2="450.58"/><line x1="396.80" y1="439.37" x2="399.10" y2="439.37"/><line x1="396.80" y1="428.17" x2="401.00" y2="428.17"/><line x1="396.80" y1="416.96" x2="399.10" y2="416.96"/><line x1="396.80" y1="405.76" x2="401.00" y2="405.76"/><line x1="396.80" y1="394.55" x2="399.10" y2="394.55"/><line x1="396.80" y1="383.34" x2="401.00" y2="383.34"/><line x1="396.80" y1="372.14" x2="399.10" y2="372.14"/><line x1="396.80" y1="360.93" x2="401.00" y2="360.93"/><line x1="396.80" y1="349.73" x2="399.10" y2="349.73"/><line x1="396.80" y1="338.52" x2="401.00" y2="338.52"/><line x1="396.80" y1="327.32" x2="399.10" y2="327.32"/><line x1="396.80" y1="316.11" x2="401.00" y2="316.11"/><line x1="396.80" y1="304.91" x2="399.10" y2="304.91"/><line x1="396.80" y1="293.70" x2="401.00" y2="293.70"/><line x1="396.80" y1="495.40" x2="396.80" y2="491.20"/><line x1="413.97" y1="495.40" x2="413.97" y2="493.10"/><line x1="431.14" y1="495.40" x2="431.14" y2="491.20"/><line x1="448.31" y1="495.40" x2="448.31" y2="493.10"/><line x1="465.48" y1="495.40" x2="465.48" y2="491.20"/><line x1="482.64" y1="495.40" x2="482.64" y2="493.10"/><line x1="499.81" y1="495.40" x2="499.81" y2="491.20"/><line x1="516.98" y1="495.40" x2="516.98" y2="493.10"/><line x1="534.15" y1="495.40" x2="534.15" y2="491.20"/><line x1="551.32" y1="495.40" x2="551.32" y2="493.10"/><line x1="568.49" y1="495.40" x2="568.49" y2="491.20"/><line x1="585.66" y1="495.40" x2="585.66" y2="493.10"/><line x1="602.83" y1="495.40" x2="602.83" y2="491.20"/><line x1="619.99" y1="495.40" x2="619.99" y2="493.10"/><line x1="637.16" y1="495.40" x2="637.16" y2="491.20"/><line x1="654.33" y1="495.40" x2="654.33" y2="493.10"/><line x1="671.50" y1="495.40" x2="671.50" y2="491.20"/></g>
<rect x="396.80" y="293.70" width="226.60" height="48.10" fill="#fff" stroke="#8a8a8a" stroke-width="1.2"/><line x1="401.60" y1="300.90" x2="423.50" y2="300.90" stroke="#b0b0b0" stroke-width="1.5"/><text x="426.70" y="304.00" font-size="9.9" fill="#222">original BRC</text><line x1="484.80" y1="300.90" x2="507.10" y2="300.90" stroke="#a0a0f0" stroke-width="1.5"/><text x="510.40" y="304.00" font-size="9.9" fill="#222">lowess</text><line x1="545.60" y1="300.90" x2="568.00" y2="300.90" stroke="#f8a8f8" stroke-width="1.5"/><text x="571.30" y="304.00" font-size="9.9" fill="#222">quantreg</text><line x1="401.60" y1="315.30" x2="423.50" y2="315.30" stroke="#90f090" stroke-width="1.0"/><text x="426.70" y="318.40" font-size="9.9" fill="#222">BRC, K</text><text x="459.71" y="320.60" font-size="6.14" fill="#222">2</text><text x="463.12" y="318.40" font-size="9.9" fill="#222">,</text><text x="468.62" y="318.40" font-size="9.9" fill="#222">&#961;</text><path d="M469.82,311.40 L471.22,309.80 L472.62,311.40" fill="none" stroke="#222" stroke-width="0.8"/><text x="473.62" y="313.40" font-size="6.14" fill="#222">2</text><text x="473.82" y="321.00" font-size="6.14" fill="#222">1</text><line x1="483.80" y1="315.30" x2="506.10" y2="315.30" stroke="#a0f0f0" stroke-width="1.0"/><text x="509.40" y="318.40" font-size="9.9" fill="#222">wavelet</text><line x1="545.60" y1="315.30" x2="568.00" y2="315.30" stroke="#c070c0" stroke-width="1.0"/><text x="571.30" y="318.40" font-size="9.9" fill="#222">smoothseg</text><line x1="401.60" y1="333.20" x2="423.50" y2="333.20" stroke="#60b060" stroke-width="1.0" stroke-dasharray="2.2,2.2"/><text x="426.70" y="336.30" font-size="9.9" fill="#222">BRCAk,</text><text x="464.66" y="336.30" font-size="9.9" fill="#222">&#961;</text><path d="M465.86,329.30 L467.26,327.70 L468.66,329.30" fill="none" stroke="#222" stroke-width="0.8"/><text x="469.66" y="331.30" font-size="6.14" fill="#222">2</text><text x="469.86" y="338.90" font-size="6.14" fill="#222">1</text>
<rect x="396.80" y="293.70" width="274.70" height="201.70" fill="none" stroke="#333" stroke-width="1.3"/>
<g font-size="8.3" fill="#222"><text x="392.20" y="498.40" text-anchor="end">-0.8</text><text x="392.20" y="475.99" text-anchor="end">-0.6</text><text x="392.20" y="453.58" text-anchor="end">-0.4</text><text x="392.20" y="431.17" text-anchor="end">-0.2</text><text x="392.20" y="408.76" text-anchor="end">0.0</text><text x="392.20" y="386.34" text-anchor="end">0.2</text><text x="392.20" y="363.93" text-anchor="end">0.4</text><text x="392.20" y="341.52" text-anchor="end">0.6</text><text x="392.20" y="319.11" text-anchor="end">0.8</text><text x="392.20" y="296.70" text-anchor="end">1.0</text><text x="396.80" y="506.50" text-anchor="middle">0</text><text x="431.14" y="506.50" text-anchor="middle">50</text><text x="465.48" y="506.50" text-anchor="middle">100</text><text x="499.81" y="506.50" text-anchor="middle">150</text><text x="534.15" y="506.50" text-anchor="middle">200</text><text x="568.49" y="506.50" text-anchor="middle">250</text><text x="602.83" y="506.50" text-anchor="middle">300</text><text x="637.16" y="506.50" text-anchor="middle">350</text><text x="671.50" y="506.50" text-anchor="middle">400</text></g>
<text x="534.15" y="521.60" text-anchor="middle" font-size="9.6" fill="#222">position</text>
<text transform="translate(365.20,391.50) rotate(-90)" text-anchor="middle" font-size="9.6" fill="#222">log2ratio</text>
<text x="535.10" y="282.80" text-anchor="middle" font-size="10.2" font-weight="bold" fill="#111">SNR = 1</text>
</svg></body></html>
